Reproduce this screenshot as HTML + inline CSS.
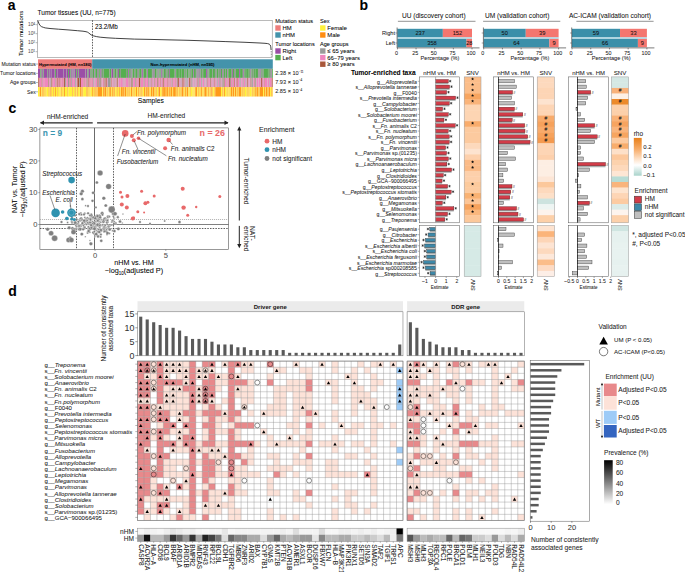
<!DOCTYPE html>
<html><head><meta charset="utf-8"><style>
html,body{margin:0;padding:0;background:#fff;width:685px;height:572px;overflow:hidden}
svg{display:block;font-family:"Liberation Sans",sans-serif}
</style></head><body>
<svg width="685" height="572" viewBox="0 0 685 572" font-family="Liberation Sans, sans-serif"><text x="7.80" y="9.80" font-size="14" font-weight="bold"  stroke="#000" stroke-width="0.05">a</text>
<text x="359.50" y="9.80" font-size="14" font-weight="bold"  stroke="#000" stroke-width="0.05">b</text>
<text x="8.50" y="113.00" font-size="14" font-weight="bold"  stroke="#000" stroke-width="0.05">c</text>
<text x="8.30" y="295.80" font-size="14" font-weight="bold"  stroke="#000" stroke-width="0.05">d</text>
<text x="37.60" y="15.00" font-size="6.5"  stroke="#000" stroke-width="0.05">Tumor tissues (UU, n=775)</text>
<text x="22.60" y="33.40" font-size="6.05" text-anchor="middle" transform="rotate(-90 22.60 33.40)"  stroke="#000" stroke-width="0.05">Tumor mutations</text>
<text x="35.2" y="26.40" font-size="4.8" text-anchor="end" fill="#555" stroke="#555" stroke-width="0.05">10<tspan dy="-1.8" font-size="3.3">4</tspan></text>
<line x1="35.60" y1="24.70" x2="37.60" y2="24.70" stroke="#444" stroke-width="0.4" />
<text x="35.2" y="35.40" font-size="4.8" text-anchor="end" fill="#555" stroke="#555" stroke-width="0.05">10<tspan dy="-1.8" font-size="3.3">3</tspan></text>
<line x1="35.60" y1="33.70" x2="37.60" y2="33.70" stroke="#444" stroke-width="0.4" />
<text x="35.2" y="44.40" font-size="4.8" text-anchor="end" fill="#555" stroke="#555" stroke-width="0.05">10<tspan dy="-1.8" font-size="3.3">2</tspan></text>
<line x1="35.60" y1="42.70" x2="37.60" y2="42.70" stroke="#444" stroke-width="0.4" />
<text x="35.2" y="53.40" font-size="4.8" text-anchor="end" fill="#555" stroke="#555" stroke-width="0.05">10<tspan dy="-1.8" font-size="3.3">1</tspan></text>
<line x1="35.60" y1="51.70" x2="37.60" y2="51.70" stroke="#444" stroke-width="0.4" />
<rect x="37.60" y="20.30" width="234.60" height="37.40" fill="#fff" stroke="#777" stroke-width="0.5" />
<path d="M37.90,20.90 L38.30,21.80 L39.10,24.00 L40.20,25.60 L41.40,26.60 L43.50,27.40 L45.20,27.90 L50.00,28.50 L58.50,29.20 L68.00,29.90 L77.40,30.70 L83.00,31.20 L86.00,31.70 L87.60,32.20 L88.80,33.00 L90.00,34.00 L91.20,34.90 L93.60,35.90 L96.50,36.60 L100.20,37.20 L107.00,37.80 L115.40,38.30 L125.00,38.70 L134.40,39.10 L150.00,39.40 L170.00,39.90 L188.00,40.30 L206.00,40.90 L225.90,41.60 L245.00,42.30 L260.00,43.00 L265.00,43.30 L267.60,43.60 L269.20,44.10 L270.20,45.00 L270.80,46.80 L271.10,50.00" fill="none" stroke="#111" stroke-width="0.8"/>
<path d="M271.2,51 L271.4,56.5" stroke="#111" stroke-width="0.6" stroke-dasharray="0.8,0.8"/>
<line x1="92.50" y1="20.30" x2="92.50" y2="57.70" stroke="#333" stroke-width="0.8" stroke-dasharray="1.5,1.2"/>
<text x="94.90" y="29.20" font-size="6.3"  stroke="#000" stroke-width="0.05">23.2/Mb</text>
<rect x="38.00" y="59.30" width="54.20" height="9.50" fill="#ee7d7b" />
<rect x="92.20" y="59.30" width="180.60" height="9.50" fill="#4493ab" />
<rect x="38.00" y="68.80" width="2.44" height="9.10" fill="#9b4ea6" />
<rect x="40.42" y="68.80" width="0.63" height="9.10" fill="#56ae4f" />
<rect x="41.03" y="68.80" width="0.63" height="9.10" fill="#9b4ea6" />
<rect x="41.64" y="68.80" width="0.63" height="9.10" fill="#56ae4f" />
<rect x="42.24" y="68.80" width="0.93" height="9.10" fill="#9b4ea6" />
<rect x="43.15" y="68.80" width="0.63" height="9.10" fill="#56ae4f" />
<rect x="43.76" y="68.80" width="3.35" height="9.10" fill="#9b4ea6" />
<rect x="47.09" y="68.80" width="0.63" height="9.10" fill="#56ae4f" />
<rect x="47.69" y="68.80" width="1.23" height="9.10" fill="#9b4ea6" />
<rect x="48.91" y="68.80" width="0.32" height="9.10" fill="#56ae4f" />
<rect x="49.21" y="68.80" width="0.63" height="9.10" fill="#9b4ea6" />
<rect x="49.82" y="68.80" width="0.32" height="9.10" fill="#56ae4f" />
<rect x="50.12" y="68.80" width="0.93" height="9.10" fill="#9b4ea6" />
<rect x="51.03" y="68.80" width="0.32" height="9.10" fill="#56ae4f" />
<rect x="51.33" y="68.80" width="2.75" height="9.10" fill="#9b4ea6" />
<rect x="54.06" y="68.80" width="0.32" height="9.10" fill="#56ae4f" />
<rect x="54.36" y="68.80" width="0.63" height="9.10" fill="#9b4ea6" />
<rect x="54.97" y="68.80" width="0.93" height="9.10" fill="#56ae4f" />
<rect x="55.88" y="68.80" width="1.23" height="9.10" fill="#9b4ea6" />
<rect x="57.09" y="68.80" width="0.32" height="9.10" fill="#56ae4f" />
<rect x="57.39" y="68.80" width="5.78" height="9.10" fill="#9b4ea6" />
<rect x="63.15" y="68.80" width="0.32" height="9.10" fill="#56ae4f" />
<rect x="63.45" y="68.80" width="2.75" height="9.10" fill="#9b4ea6" />
<rect x="66.18" y="68.80" width="0.32" height="9.10" fill="#56ae4f" />
<rect x="66.48" y="68.80" width="1.53" height="9.10" fill="#9b4ea6" />
<rect x="67.99" y="68.80" width="0.93" height="9.10" fill="#56ae4f" />
<rect x="68.90" y="68.80" width="1.53" height="9.10" fill="#9b4ea6" />
<rect x="70.42" y="68.80" width="0.93" height="9.10" fill="#56ae4f" />
<rect x="71.33" y="68.80" width="0.93" height="9.10" fill="#9b4ea6" />
<rect x="72.24" y="68.80" width="0.32" height="9.10" fill="#56ae4f" />
<rect x="72.54" y="68.80" width="0.63" height="9.10" fill="#9b4ea6" />
<rect x="73.14" y="68.80" width="0.32" height="9.10" fill="#56ae4f" />
<rect x="73.45" y="68.80" width="0.93" height="9.10" fill="#9b4ea6" />
<rect x="74.36" y="68.80" width="0.32" height="9.10" fill="#56ae4f" />
<rect x="74.66" y="68.80" width="1.53" height="9.10" fill="#9b4ea6" />
<rect x="76.17" y="68.80" width="0.93" height="9.10" fill="#56ae4f" />
<rect x="77.08" y="68.80" width="1.23" height="9.10" fill="#9b4ea6" />
<rect x="78.29" y="68.80" width="0.63" height="9.10" fill="#56ae4f" />
<rect x="78.90" y="68.80" width="6.38" height="9.10" fill="#9b4ea6" />
<rect x="85.26" y="68.80" width="0.32" height="9.10" fill="#56ae4f" />
<rect x="85.57" y="68.80" width="1.53" height="9.10" fill="#9b4ea6" />
<rect x="87.08" y="68.80" width="0.32" height="9.10" fill="#56ae4f" />
<rect x="87.38" y="68.80" width="0.32" height="9.10" fill="#9b4ea6" />
<rect x="87.69" y="68.80" width="0.93" height="9.10" fill="#56ae4f" />
<rect x="88.60" y="68.80" width="1.84" height="9.10" fill="#9b4ea6" />
<rect x="90.41" y="68.80" width="0.63" height="9.10" fill="#56ae4f" />
<rect x="91.02" y="68.80" width="0.32" height="9.10" fill="#9b4ea6" />
<rect x="91.32" y="68.80" width="0.63" height="9.10" fill="#56ae4f" />
<rect x="91.93" y="68.80" width="0.63" height="9.10" fill="#9b4ea6" />
<rect x="92.53" y="68.80" width="1.53" height="9.10" fill="#56ae4f" />
<rect x="94.05" y="68.80" width="0.32" height="9.10" fill="#9b4ea6" />
<rect x="94.35" y="68.80" width="0.32" height="9.10" fill="#56ae4f" />
<rect x="94.65" y="68.80" width="0.63" height="9.10" fill="#9b4ea6" />
<rect x="95.26" y="68.80" width="1.84" height="9.10" fill="#56ae4f" />
<rect x="97.08" y="68.80" width="0.63" height="9.10" fill="#9b4ea6" />
<rect x="97.68" y="68.80" width="0.93" height="9.10" fill="#56ae4f" />
<rect x="98.59" y="68.80" width="0.63" height="9.10" fill="#9b4ea6" />
<rect x="99.20" y="68.80" width="1.23" height="9.10" fill="#56ae4f" />
<rect x="100.41" y="68.80" width="1.23" height="9.10" fill="#9b4ea6" />
<rect x="101.62" y="68.80" width="1.23" height="9.10" fill="#56ae4f" />
<rect x="102.84" y="68.80" width="0.63" height="9.10" fill="#9b4ea6" />
<rect x="103.44" y="68.80" width="6.08" height="9.10" fill="#56ae4f" />
<rect x="109.50" y="68.80" width="0.32" height="9.10" fill="#9b4ea6" />
<rect x="109.80" y="68.80" width="1.23" height="9.10" fill="#56ae4f" />
<rect x="111.02" y="68.80" width="0.32" height="9.10" fill="#9b4ea6" />
<rect x="111.32" y="68.80" width="0.32" height="9.10" fill="#56ae4f" />
<rect x="111.62" y="68.80" width="1.84" height="9.10" fill="#9b4ea6" />
<rect x="113.44" y="68.80" width="1.23" height="9.10" fill="#56ae4f" />
<rect x="114.65" y="68.80" width="0.32" height="9.10" fill="#9b4ea6" />
<rect x="114.95" y="68.80" width="1.23" height="9.10" fill="#56ae4f" />
<rect x="116.17" y="68.80" width="0.32" height="9.10" fill="#9b4ea6" />
<rect x="116.47" y="68.80" width="1.23" height="9.10" fill="#56ae4f" />
<rect x="117.68" y="68.80" width="1.23" height="9.10" fill="#9b4ea6" />
<rect x="118.89" y="68.80" width="1.84" height="9.10" fill="#56ae4f" />
<rect x="120.71" y="68.80" width="0.32" height="9.10" fill="#9b4ea6" />
<rect x="121.01" y="68.80" width="5.78" height="9.10" fill="#56ae4f" />
<rect x="126.77" y="68.80" width="0.32" height="9.10" fill="#9b4ea6" />
<rect x="127.07" y="68.80" width="1.23" height="9.10" fill="#56ae4f" />
<rect x="128.28" y="68.80" width="0.93" height="9.10" fill="#9b4ea6" />
<rect x="129.19" y="68.80" width="1.53" height="9.10" fill="#56ae4f" />
<rect x="130.71" y="68.80" width="0.63" height="9.10" fill="#9b4ea6" />
<rect x="131.31" y="68.80" width="0.32" height="9.10" fill="#56ae4f" />
<rect x="131.62" y="68.80" width="0.32" height="9.10" fill="#9b4ea6" />
<rect x="131.92" y="68.80" width="0.32" height="9.10" fill="#56ae4f" />
<rect x="132.22" y="68.80" width="0.32" height="9.10" fill="#9b4ea6" />
<rect x="132.53" y="68.80" width="2.14" height="9.10" fill="#56ae4f" />
<rect x="134.65" y="68.80" width="0.63" height="9.10" fill="#9b4ea6" />
<rect x="135.25" y="68.80" width="2.44" height="9.10" fill="#56ae4f" />
<rect x="137.68" y="68.80" width="0.32" height="9.10" fill="#9b4ea6" />
<rect x="137.98" y="68.80" width="0.63" height="9.10" fill="#56ae4f" />
<rect x="138.59" y="68.80" width="0.63" height="9.10" fill="#9b4ea6" />
<rect x="139.19" y="68.80" width="2.44" height="9.10" fill="#56ae4f" />
<rect x="141.61" y="68.80" width="0.32" height="9.10" fill="#9b4ea6" />
<rect x="141.92" y="68.80" width="0.32" height="9.10" fill="#56ae4f" />
<rect x="142.22" y="68.80" width="1.23" height="9.10" fill="#9b4ea6" />
<rect x="143.43" y="68.80" width="2.75" height="9.10" fill="#56ae4f" />
<rect x="146.16" y="68.80" width="0.32" height="9.10" fill="#9b4ea6" />
<rect x="146.46" y="68.80" width="0.93" height="9.10" fill="#56ae4f" />
<rect x="147.37" y="68.80" width="0.63" height="9.10" fill="#9b4ea6" />
<rect x="147.98" y="68.80" width="3.96" height="9.10" fill="#56ae4f" />
<rect x="151.92" y="68.80" width="0.32" height="9.10" fill="#9b4ea6" />
<rect x="152.22" y="68.80" width="0.32" height="9.10" fill="#56ae4f" />
<rect x="152.52" y="68.80" width="0.32" height="9.10" fill="#9b4ea6" />
<rect x="152.82" y="68.80" width="0.32" height="9.10" fill="#56ae4f" />
<rect x="153.13" y="68.80" width="0.63" height="9.10" fill="#9b4ea6" />
<rect x="153.73" y="68.80" width="0.32" height="9.10" fill="#56ae4f" />
<rect x="154.04" y="68.80" width="0.63" height="9.10" fill="#9b4ea6" />
<rect x="154.64" y="68.80" width="1.53" height="9.10" fill="#56ae4f" />
<rect x="156.16" y="68.80" width="0.32" height="9.10" fill="#9b4ea6" />
<rect x="156.46" y="68.80" width="0.93" height="9.10" fill="#56ae4f" />
<rect x="157.37" y="68.80" width="0.32" height="9.10" fill="#9b4ea6" />
<rect x="157.67" y="68.80" width="0.32" height="9.10" fill="#56ae4f" />
<rect x="157.98" y="68.80" width="0.32" height="9.10" fill="#9b4ea6" />
<rect x="158.28" y="68.80" width="0.32" height="9.10" fill="#56ae4f" />
<rect x="158.58" y="68.80" width="0.32" height="9.10" fill="#9b4ea6" />
<rect x="158.88" y="68.80" width="0.32" height="9.10" fill="#56ae4f" />
<rect x="159.19" y="68.80" width="0.32" height="9.10" fill="#9b4ea6" />
<rect x="159.49" y="68.80" width="0.63" height="9.10" fill="#56ae4f" />
<rect x="160.10" y="68.80" width="0.32" height="9.10" fill="#9b4ea6" />
<rect x="160.40" y="68.80" width="0.93" height="9.10" fill="#56ae4f" />
<rect x="161.31" y="68.80" width="1.23" height="9.10" fill="#9b4ea6" />
<rect x="162.52" y="68.80" width="0.93" height="9.10" fill="#56ae4f" />
<rect x="163.43" y="68.80" width="0.32" height="9.10" fill="#9b4ea6" />
<rect x="163.73" y="68.80" width="2.14" height="9.10" fill="#56ae4f" />
<rect x="165.85" y="68.80" width="0.63" height="9.10" fill="#9b4ea6" />
<rect x="166.46" y="68.80" width="1.23" height="9.10" fill="#56ae4f" />
<rect x="167.67" y="68.80" width="0.32" height="9.10" fill="#9b4ea6" />
<rect x="167.97" y="68.80" width="0.93" height="9.10" fill="#56ae4f" />
<rect x="168.88" y="68.80" width="0.93" height="9.10" fill="#9b4ea6" />
<rect x="169.79" y="68.80" width="4.26" height="9.10" fill="#56ae4f" />
<rect x="174.03" y="68.80" width="0.32" height="9.10" fill="#9b4ea6" />
<rect x="174.34" y="68.80" width="1.23" height="9.10" fill="#56ae4f" />
<rect x="175.55" y="68.80" width="0.63" height="9.10" fill="#9b4ea6" />
<rect x="176.15" y="68.80" width="2.75" height="9.10" fill="#56ae4f" />
<rect x="178.88" y="68.80" width="0.32" height="9.10" fill="#9b4ea6" />
<rect x="179.18" y="68.80" width="1.84" height="9.10" fill="#56ae4f" />
<rect x="181.00" y="68.80" width="0.32" height="9.10" fill="#9b4ea6" />
<rect x="181.30" y="68.80" width="3.35" height="9.10" fill="#56ae4f" />
<rect x="184.64" y="68.80" width="0.63" height="9.10" fill="#9b4ea6" />
<rect x="185.24" y="68.80" width="1.23" height="9.10" fill="#56ae4f" />
<rect x="186.45" y="68.80" width="0.32" height="9.10" fill="#9b4ea6" />
<rect x="186.76" y="68.80" width="1.53" height="9.10" fill="#56ae4f" />
<rect x="188.27" y="68.80" width="0.32" height="9.10" fill="#9b4ea6" />
<rect x="188.57" y="68.80" width="0.63" height="9.10" fill="#56ae4f" />
<rect x="189.18" y="68.80" width="0.32" height="9.10" fill="#9b4ea6" />
<rect x="189.48" y="68.80" width="1.23" height="9.10" fill="#56ae4f" />
<rect x="190.70" y="68.80" width="0.63" height="9.10" fill="#9b4ea6" />
<rect x="191.30" y="68.80" width="2.14" height="9.10" fill="#56ae4f" />
<rect x="193.42" y="68.80" width="0.63" height="9.10" fill="#9b4ea6" />
<rect x="194.03" y="68.80" width="1.84" height="9.10" fill="#56ae4f" />
<rect x="195.85" y="68.80" width="0.32" height="9.10" fill="#9b4ea6" />
<rect x="196.15" y="68.80" width="0.32" height="9.10" fill="#56ae4f" />
<rect x="196.45" y="68.80" width="0.32" height="9.10" fill="#9b4ea6" />
<rect x="196.76" y="68.80" width="0.32" height="9.10" fill="#56ae4f" />
<rect x="197.06" y="68.80" width="0.32" height="9.10" fill="#9b4ea6" />
<rect x="197.36" y="68.80" width="0.32" height="9.10" fill="#56ae4f" />
<rect x="197.66" y="68.80" width="0.63" height="9.10" fill="#9b4ea6" />
<rect x="198.27" y="68.80" width="0.32" height="9.10" fill="#56ae4f" />
<rect x="198.57" y="68.80" width="0.32" height="9.10" fill="#9b4ea6" />
<rect x="198.88" y="68.80" width="0.63" height="9.10" fill="#56ae4f" />
<rect x="199.48" y="68.80" width="0.63" height="9.10" fill="#9b4ea6" />
<rect x="200.09" y="68.80" width="0.32" height="9.10" fill="#56ae4f" />
<rect x="200.39" y="68.80" width="0.32" height="9.10" fill="#9b4ea6" />
<rect x="200.69" y="68.80" width="1.23" height="9.10" fill="#56ae4f" />
<rect x="201.91" y="68.80" width="0.32" height="9.10" fill="#9b4ea6" />
<rect x="202.21" y="68.80" width="0.63" height="9.10" fill="#56ae4f" />
<rect x="202.81" y="68.80" width="0.32" height="9.10" fill="#9b4ea6" />
<rect x="203.12" y="68.80" width="3.05" height="9.10" fill="#56ae4f" />
<rect x="206.15" y="68.80" width="0.93" height="9.10" fill="#9b4ea6" />
<rect x="207.06" y="68.80" width="0.63" height="9.10" fill="#56ae4f" />
<rect x="207.66" y="68.80" width="0.32" height="9.10" fill="#9b4ea6" />
<rect x="207.96" y="68.80" width="0.32" height="9.10" fill="#56ae4f" />
<rect x="208.27" y="68.80" width="0.32" height="9.10" fill="#9b4ea6" />
<rect x="208.57" y="68.80" width="0.32" height="9.10" fill="#56ae4f" />
<rect x="208.87" y="68.80" width="0.32" height="9.10" fill="#9b4ea6" />
<rect x="209.18" y="68.80" width="3.35" height="9.10" fill="#56ae4f" />
<rect x="212.51" y="68.80" width="0.32" height="9.10" fill="#9b4ea6" />
<rect x="212.81" y="68.80" width="2.14" height="9.10" fill="#56ae4f" />
<rect x="214.93" y="68.80" width="0.63" height="9.10" fill="#9b4ea6" />
<rect x="215.54" y="68.80" width="0.93" height="9.10" fill="#56ae4f" />
<rect x="216.45" y="68.80" width="0.32" height="9.10" fill="#9b4ea6" />
<rect x="216.75" y="68.80" width="1.84" height="9.10" fill="#56ae4f" />
<rect x="218.57" y="68.80" width="0.32" height="9.10" fill="#9b4ea6" />
<rect x="218.87" y="68.80" width="0.93" height="9.10" fill="#56ae4f" />
<rect x="219.78" y="68.80" width="0.93" height="9.10" fill="#9b4ea6" />
<rect x="220.69" y="68.80" width="1.84" height="9.10" fill="#56ae4f" />
<rect x="222.51" y="68.80" width="0.63" height="9.10" fill="#9b4ea6" />
<rect x="223.11" y="68.80" width="0.63" height="9.10" fill="#56ae4f" />
<rect x="223.72" y="68.80" width="0.32" height="9.10" fill="#9b4ea6" />
<rect x="224.02" y="68.80" width="1.53" height="9.10" fill="#56ae4f" />
<rect x="225.54" y="68.80" width="0.32" height="9.10" fill="#9b4ea6" />
<rect x="225.84" y="68.80" width="1.23" height="9.10" fill="#56ae4f" />
<rect x="227.05" y="68.80" width="0.32" height="9.10" fill="#9b4ea6" />
<rect x="227.35" y="68.80" width="0.32" height="9.10" fill="#56ae4f" />
<rect x="227.66" y="68.80" width="0.63" height="9.10" fill="#9b4ea6" />
<rect x="228.26" y="68.80" width="2.75" height="9.10" fill="#56ae4f" />
<rect x="230.99" y="68.80" width="0.32" height="9.10" fill="#9b4ea6" />
<rect x="231.29" y="68.80" width="0.63" height="9.10" fill="#56ae4f" />
<rect x="231.90" y="68.80" width="0.93" height="9.10" fill="#9b4ea6" />
<rect x="232.81" y="68.80" width="1.84" height="9.10" fill="#56ae4f" />
<rect x="234.63" y="68.80" width="0.93" height="9.10" fill="#9b4ea6" />
<rect x="235.53" y="68.80" width="3.66" height="9.10" fill="#56ae4f" />
<rect x="239.17" y="68.80" width="0.93" height="9.10" fill="#9b4ea6" />
<rect x="240.08" y="68.80" width="2.75" height="9.10" fill="#56ae4f" />
<rect x="242.81" y="68.80" width="0.32" height="9.10" fill="#9b4ea6" />
<rect x="243.11" y="68.80" width="0.32" height="9.10" fill="#56ae4f" />
<rect x="243.41" y="68.80" width="0.93" height="9.10" fill="#9b4ea6" />
<rect x="244.32" y="68.80" width="1.53" height="9.10" fill="#56ae4f" />
<rect x="245.84" y="68.80" width="0.32" height="9.10" fill="#9b4ea6" />
<rect x="246.14" y="68.80" width="1.84" height="9.10" fill="#56ae4f" />
<rect x="247.96" y="68.80" width="0.32" height="9.10" fill="#9b4ea6" />
<rect x="248.26" y="68.80" width="1.53" height="9.10" fill="#56ae4f" />
<rect x="249.77" y="68.80" width="0.63" height="9.10" fill="#9b4ea6" />
<rect x="250.38" y="68.80" width="0.32" height="9.10" fill="#56ae4f" />
<rect x="250.68" y="68.80" width="0.32" height="9.10" fill="#9b4ea6" />
<rect x="250.99" y="68.80" width="0.32" height="9.10" fill="#56ae4f" />
<rect x="251.29" y="68.80" width="0.32" height="9.10" fill="#9b4ea6" />
<rect x="251.59" y="68.80" width="1.23" height="9.10" fill="#56ae4f" />
<rect x="252.80" y="68.80" width="0.63" height="9.10" fill="#9b4ea6" />
<rect x="253.41" y="68.80" width="1.53" height="9.10" fill="#56ae4f" />
<rect x="254.92" y="68.80" width="0.32" height="9.10" fill="#9b4ea6" />
<rect x="255.23" y="68.80" width="2.75" height="9.10" fill="#56ae4f" />
<rect x="257.95" y="68.80" width="0.32" height="9.10" fill="#9b4ea6" />
<rect x="258.26" y="68.80" width="0.32" height="9.10" fill="#56ae4f" />
<rect x="258.56" y="68.80" width="0.32" height="9.10" fill="#9b4ea6" />
<rect x="258.86" y="68.80" width="0.32" height="9.10" fill="#56ae4f" />
<rect x="259.17" y="68.80" width="0.32" height="9.10" fill="#9b4ea6" />
<rect x="259.47" y="68.80" width="0.32" height="9.10" fill="#56ae4f" />
<rect x="259.77" y="68.80" width="0.63" height="9.10" fill="#9b4ea6" />
<rect x="260.38" y="68.80" width="0.32" height="9.10" fill="#56ae4f" />
<rect x="260.68" y="68.80" width="0.63" height="9.10" fill="#9b4ea6" />
<rect x="261.29" y="68.80" width="0.63" height="9.10" fill="#56ae4f" />
<rect x="261.89" y="68.80" width="0.32" height="9.10" fill="#9b4ea6" />
<rect x="262.20" y="68.80" width="0.63" height="9.10" fill="#56ae4f" />
<rect x="262.80" y="68.80" width="0.63" height="9.10" fill="#9b4ea6" />
<rect x="263.41" y="68.80" width="4.56" height="9.10" fill="#56ae4f" />
<rect x="267.95" y="68.80" width="0.32" height="9.10" fill="#9b4ea6" />
<rect x="268.26" y="68.80" width="1.53" height="9.10" fill="#56ae4f" />
<rect x="269.77" y="68.80" width="0.32" height="9.10" fill="#9b4ea6" />
<rect x="270.07" y="68.80" width="0.63" height="9.10" fill="#56ae4f" />
<rect x="270.68" y="68.80" width="0.63" height="9.10" fill="#9b4ea6" />
<rect x="271.29" y="68.80" width="0.32" height="9.10" fill="#56ae4f" />
<rect x="271.59" y="68.80" width="0.32" height="9.10" fill="#9b4ea6" />
<rect x="271.89" y="68.80" width="0.93" height="9.10" fill="#56ae4f" />
<rect x="38.00" y="77.90" width="0.32" height="9.20" fill="#ef86bf" />
<rect x="38.30" y="77.90" width="1.23" height="9.20" fill="#a9573a" />
<rect x="39.51" y="77.90" width="2.14" height="9.20" fill="#ef86bf" />
<rect x="41.64" y="77.90" width="0.32" height="9.20" fill="#a9573a" />
<rect x="41.94" y="77.90" width="0.63" height="9.20" fill="#ef86bf" />
<rect x="42.54" y="77.90" width="0.32" height="9.20" fill="#9a9a9a" />
<rect x="42.85" y="77.90" width="0.32" height="9.20" fill="#a9573a" />
<rect x="43.15" y="77.90" width="0.93" height="9.20" fill="#ef86bf" />
<rect x="44.06" y="77.90" width="0.32" height="9.20" fill="#a9573a" />
<rect x="44.36" y="77.90" width="3.66" height="9.20" fill="#ef86bf" />
<rect x="48.00" y="77.90" width="0.32" height="9.20" fill="#a9573a" />
<rect x="48.30" y="77.90" width="0.32" height="9.20" fill="#9a9a9a" />
<rect x="48.60" y="77.90" width="0.32" height="9.20" fill="#a9573a" />
<rect x="48.91" y="77.90" width="0.32" height="9.20" fill="#9a9a9a" />
<rect x="49.21" y="77.90" width="1.23" height="9.20" fill="#ef86bf" />
<rect x="50.42" y="77.90" width="0.63" height="9.20" fill="#9a9a9a" />
<rect x="51.03" y="77.90" width="0.32" height="9.20" fill="#a9573a" />
<rect x="51.33" y="77.90" width="0.32" height="9.20" fill="#9a9a9a" />
<rect x="51.63" y="77.90" width="0.63" height="9.20" fill="#a9573a" />
<rect x="52.24" y="77.90" width="0.63" height="9.20" fill="#ef86bf" />
<rect x="52.85" y="77.90" width="0.32" height="9.20" fill="#a9573a" />
<rect x="53.15" y="77.90" width="1.84" height="9.20" fill="#ef86bf" />
<rect x="54.97" y="77.90" width="0.63" height="9.20" fill="#9a9a9a" />
<rect x="55.57" y="77.90" width="0.32" height="9.20" fill="#ef86bf" />
<rect x="55.88" y="77.90" width="0.63" height="9.20" fill="#a9573a" />
<rect x="56.48" y="77.90" width="0.93" height="9.20" fill="#ef86bf" />
<rect x="57.39" y="77.90" width="0.63" height="9.20" fill="#a9573a" />
<rect x="58.00" y="77.90" width="0.63" height="9.20" fill="#ef86bf" />
<rect x="58.60" y="77.90" width="0.32" height="9.20" fill="#a9573a" />
<rect x="58.90" y="77.90" width="0.63" height="9.20" fill="#ef86bf" />
<rect x="59.51" y="77.90" width="0.63" height="9.20" fill="#a9573a" />
<rect x="60.12" y="77.90" width="0.32" height="9.20" fill="#ef86bf" />
<rect x="60.42" y="77.90" width="0.32" height="9.20" fill="#a9573a" />
<rect x="60.72" y="77.90" width="0.32" height="9.20" fill="#ef86bf" />
<rect x="61.03" y="77.90" width="0.32" height="9.20" fill="#a9573a" />
<rect x="61.33" y="77.90" width="1.53" height="9.20" fill="#ef86bf" />
<rect x="62.84" y="77.90" width="0.63" height="9.20" fill="#a9573a" />
<rect x="63.45" y="77.90" width="0.63" height="9.20" fill="#ef86bf" />
<rect x="64.06" y="77.90" width="0.93" height="9.20" fill="#a9573a" />
<rect x="64.96" y="77.90" width="0.93" height="9.20" fill="#9a9a9a" />
<rect x="65.87" y="77.90" width="0.32" height="9.20" fill="#ef86bf" />
<rect x="66.18" y="77.90" width="0.32" height="9.20" fill="#a9573a" />
<rect x="66.48" y="77.90" width="1.53" height="9.20" fill="#ef86bf" />
<rect x="67.99" y="77.90" width="0.93" height="9.20" fill="#9a9a9a" />
<rect x="68.90" y="77.90" width="0.32" height="9.20" fill="#a9573a" />
<rect x="69.21" y="77.90" width="0.32" height="9.20" fill="#ef86bf" />
<rect x="69.51" y="77.90" width="0.32" height="9.20" fill="#a9573a" />
<rect x="69.81" y="77.90" width="0.93" height="9.20" fill="#ef86bf" />
<rect x="70.72" y="77.90" width="0.63" height="9.20" fill="#a9573a" />
<rect x="71.33" y="77.90" width="0.63" height="9.20" fill="#9a9a9a" />
<rect x="71.93" y="77.90" width="1.23" height="9.20" fill="#ef86bf" />
<rect x="73.14" y="77.90" width="0.32" height="9.20" fill="#a9573a" />
<rect x="73.45" y="77.90" width="1.84" height="9.20" fill="#ef86bf" />
<rect x="75.27" y="77.90" width="1.23" height="9.20" fill="#9a9a9a" />
<rect x="76.48" y="77.90" width="0.93" height="9.20" fill="#ef86bf" />
<rect x="77.39" y="77.90" width="1.84" height="9.20" fill="#a9573a" />
<rect x="79.20" y="77.90" width="0.63" height="9.20" fill="#9a9a9a" />
<rect x="79.81" y="77.90" width="1.23" height="9.20" fill="#a9573a" />
<rect x="81.02" y="77.90" width="2.44" height="9.20" fill="#ef86bf" />
<rect x="83.45" y="77.90" width="0.32" height="9.20" fill="#a9573a" />
<rect x="83.75" y="77.90" width="0.32" height="9.20" fill="#ef86bf" />
<rect x="84.05" y="77.90" width="0.32" height="9.20" fill="#9a9a9a" />
<rect x="84.35" y="77.90" width="0.32" height="9.20" fill="#a9573a" />
<rect x="84.66" y="77.90" width="0.32" height="9.20" fill="#ef86bf" />
<rect x="84.96" y="77.90" width="0.32" height="9.20" fill="#a9573a" />
<rect x="85.26" y="77.90" width="1.23" height="9.20" fill="#ef86bf" />
<rect x="86.47" y="77.90" width="0.32" height="9.20" fill="#a9573a" />
<rect x="86.78" y="77.90" width="0.32" height="9.20" fill="#9a9a9a" />
<rect x="87.08" y="77.90" width="0.32" height="9.20" fill="#ef86bf" />
<rect x="87.38" y="77.90" width="0.32" height="9.20" fill="#a9573a" />
<rect x="87.69" y="77.90" width="0.32" height="9.20" fill="#9a9a9a" />
<rect x="87.99" y="77.90" width="0.32" height="9.20" fill="#a9573a" />
<rect x="88.29" y="77.90" width="0.32" height="9.20" fill="#ef86bf" />
<rect x="88.60" y="77.90" width="0.63" height="9.20" fill="#a9573a" />
<rect x="89.20" y="77.90" width="0.63" height="9.20" fill="#ef86bf" />
<rect x="89.81" y="77.90" width="0.63" height="9.20" fill="#a9573a" />
<rect x="90.41" y="77.90" width="0.93" height="9.20" fill="#ef86bf" />
<rect x="91.32" y="77.90" width="0.32" height="9.20" fill="#a9573a" />
<rect x="91.63" y="77.90" width="1.23" height="9.20" fill="#ef86bf" />
<rect x="92.84" y="77.90" width="0.32" height="9.20" fill="#a9573a" />
<rect x="93.14" y="77.90" width="0.32" height="9.20" fill="#ef86bf" />
<rect x="93.44" y="77.90" width="0.93" height="9.20" fill="#9a9a9a" />
<rect x="94.35" y="77.90" width="0.63" height="9.20" fill="#ef86bf" />
<rect x="94.96" y="77.90" width="0.63" height="9.20" fill="#9a9a9a" />
<rect x="95.56" y="77.90" width="1.53" height="9.20" fill="#ef86bf" />
<rect x="97.08" y="77.90" width="0.63" height="9.20" fill="#9a9a9a" />
<rect x="97.68" y="77.90" width="0.32" height="9.20" fill="#a9573a" />
<rect x="97.99" y="77.90" width="0.63" height="9.20" fill="#ef86bf" />
<rect x="98.59" y="77.90" width="0.63" height="9.20" fill="#a9573a" />
<rect x="99.20" y="77.90" width="1.53" height="9.20" fill="#9a9a9a" />
<rect x="100.71" y="77.90" width="0.63" height="9.20" fill="#a9573a" />
<rect x="101.32" y="77.90" width="0.32" height="9.20" fill="#9a9a9a" />
<rect x="101.62" y="77.90" width="0.63" height="9.20" fill="#ef86bf" />
<rect x="102.23" y="77.90" width="0.32" height="9.20" fill="#9a9a9a" />
<rect x="102.53" y="77.90" width="1.23" height="9.20" fill="#ef86bf" />
<rect x="103.74" y="77.90" width="0.32" height="9.20" fill="#a9573a" />
<rect x="104.05" y="77.90" width="0.32" height="9.20" fill="#9a9a9a" />
<rect x="104.35" y="77.90" width="0.32" height="9.20" fill="#ef86bf" />
<rect x="104.65" y="77.90" width="0.32" height="9.20" fill="#a9573a" />
<rect x="104.96" y="77.90" width="0.32" height="9.20" fill="#9a9a9a" />
<rect x="105.26" y="77.90" width="0.32" height="9.20" fill="#ef86bf" />
<rect x="105.56" y="77.90" width="1.23" height="9.20" fill="#a9573a" />
<rect x="106.77" y="77.90" width="0.93" height="9.20" fill="#ef86bf" />
<rect x="107.68" y="77.90" width="2.44" height="9.20" fill="#9a9a9a" />
<rect x="110.11" y="77.90" width="0.32" height="9.20" fill="#a9573a" />
<rect x="110.41" y="77.90" width="0.63" height="9.20" fill="#9a9a9a" />
<rect x="111.02" y="77.90" width="0.32" height="9.20" fill="#a9573a" />
<rect x="111.32" y="77.90" width="0.32" height="9.20" fill="#ef86bf" />
<rect x="111.62" y="77.90" width="0.32" height="9.20" fill="#a9573a" />
<rect x="111.92" y="77.90" width="0.63" height="9.20" fill="#ef86bf" />
<rect x="112.53" y="77.90" width="0.32" height="9.20" fill="#9a9a9a" />
<rect x="112.83" y="77.90" width="0.93" height="9.20" fill="#ef86bf" />
<rect x="113.74" y="77.90" width="0.32" height="9.20" fill="#9a9a9a" />
<rect x="114.04" y="77.90" width="0.32" height="9.20" fill="#a9573a" />
<rect x="114.35" y="77.90" width="0.32" height="9.20" fill="#9a9a9a" />
<rect x="114.65" y="77.90" width="0.32" height="9.20" fill="#ef86bf" />
<rect x="114.95" y="77.90" width="0.63" height="9.20" fill="#9a9a9a" />
<rect x="115.56" y="77.90" width="0.63" height="9.20" fill="#ef86bf" />
<rect x="116.17" y="77.90" width="0.32" height="9.20" fill="#9a9a9a" />
<rect x="116.47" y="77.90" width="0.32" height="9.20" fill="#ef86bf" />
<rect x="116.77" y="77.90" width="0.32" height="9.20" fill="#a9573a" />
<rect x="117.07" y="77.90" width="0.32" height="9.20" fill="#9a9a9a" />
<rect x="117.38" y="77.90" width="0.63" height="9.20" fill="#a9573a" />
<rect x="117.98" y="77.90" width="0.32" height="9.20" fill="#ef86bf" />
<rect x="118.29" y="77.90" width="0.32" height="9.20" fill="#9a9a9a" />
<rect x="118.59" y="77.90" width="1.53" height="9.20" fill="#ef86bf" />
<rect x="120.10" y="77.90" width="0.32" height="9.20" fill="#a9573a" />
<rect x="120.41" y="77.90" width="2.44" height="9.20" fill="#ef86bf" />
<rect x="122.83" y="77.90" width="0.32" height="9.20" fill="#9a9a9a" />
<rect x="123.13" y="77.90" width="0.63" height="9.20" fill="#ef86bf" />
<rect x="123.74" y="77.90" width="0.32" height="9.20" fill="#9a9a9a" />
<rect x="124.04" y="77.90" width="0.32" height="9.20" fill="#ef86bf" />
<rect x="124.35" y="77.90" width="0.32" height="9.20" fill="#9a9a9a" />
<rect x="124.65" y="77.90" width="0.32" height="9.20" fill="#ef86bf" />
<rect x="124.95" y="77.90" width="0.32" height="9.20" fill="#a9573a" />
<rect x="125.25" y="77.90" width="0.32" height="9.20" fill="#9a9a9a" />
<rect x="125.56" y="77.90" width="2.44" height="9.20" fill="#ef86bf" />
<rect x="127.98" y="77.90" width="0.32" height="9.20" fill="#9a9a9a" />
<rect x="128.28" y="77.90" width="0.32" height="9.20" fill="#a9573a" />
<rect x="128.59" y="77.90" width="0.63" height="9.20" fill="#ef86bf" />
<rect x="129.19" y="77.90" width="0.32" height="9.20" fill="#9a9a9a" />
<rect x="129.50" y="77.90" width="0.32" height="9.20" fill="#a9573a" />
<rect x="129.80" y="77.90" width="0.93" height="9.20" fill="#ef86bf" />
<rect x="130.71" y="77.90" width="0.93" height="9.20" fill="#9a9a9a" />
<rect x="131.62" y="77.90" width="0.93" height="9.20" fill="#a9573a" />
<rect x="132.53" y="77.90" width="0.63" height="9.20" fill="#9a9a9a" />
<rect x="133.13" y="77.90" width="2.14" height="9.20" fill="#ef86bf" />
<rect x="135.25" y="77.90" width="0.63" height="9.20" fill="#9a9a9a" />
<rect x="135.86" y="77.90" width="0.63" height="9.20" fill="#a9573a" />
<rect x="136.46" y="77.90" width="0.63" height="9.20" fill="#ef86bf" />
<rect x="137.07" y="77.90" width="0.32" height="9.20" fill="#a9573a" />
<rect x="137.37" y="77.90" width="0.63" height="9.20" fill="#ef86bf" />
<rect x="137.98" y="77.90" width="0.32" height="9.20" fill="#a9573a" />
<rect x="138.28" y="77.90" width="0.63" height="9.20" fill="#ef86bf" />
<rect x="138.89" y="77.90" width="1.53" height="9.20" fill="#a9573a" />
<rect x="140.40" y="77.90" width="0.32" height="9.20" fill="#9a9a9a" />
<rect x="140.71" y="77.90" width="2.44" height="9.20" fill="#ef86bf" />
<rect x="143.13" y="77.90" width="0.32" height="9.20" fill="#a9573a" />
<rect x="143.43" y="77.90" width="0.32" height="9.20" fill="#9a9a9a" />
<rect x="143.74" y="77.90" width="0.63" height="9.20" fill="#ef86bf" />
<rect x="144.34" y="77.90" width="0.32" height="9.20" fill="#a9573a" />
<rect x="144.64" y="77.90" width="0.32" height="9.20" fill="#9a9a9a" />
<rect x="144.95" y="77.90" width="1.23" height="9.20" fill="#ef86bf" />
<rect x="146.16" y="77.90" width="0.32" height="9.20" fill="#a9573a" />
<rect x="146.46" y="77.90" width="1.84" height="9.20" fill="#ef86bf" />
<rect x="148.28" y="77.90" width="0.63" height="9.20" fill="#9a9a9a" />
<rect x="148.89" y="77.90" width="0.32" height="9.20" fill="#a9573a" />
<rect x="149.19" y="77.90" width="0.32" height="9.20" fill="#ef86bf" />
<rect x="149.49" y="77.90" width="0.32" height="9.20" fill="#9a9a9a" />
<rect x="149.80" y="77.90" width="0.93" height="9.20" fill="#ef86bf" />
<rect x="150.70" y="77.90" width="0.32" height="9.20" fill="#9a9a9a" />
<rect x="151.01" y="77.90" width="0.32" height="9.20" fill="#ef86bf" />
<rect x="151.31" y="77.90" width="0.32" height="9.20" fill="#9a9a9a" />
<rect x="151.61" y="77.90" width="0.32" height="9.20" fill="#a9573a" />
<rect x="151.92" y="77.90" width="0.93" height="9.20" fill="#ef86bf" />
<rect x="152.82" y="77.90" width="0.63" height="9.20" fill="#9a9a9a" />
<rect x="153.43" y="77.90" width="0.93" height="9.20" fill="#ef86bf" />
<rect x="154.34" y="77.90" width="0.32" height="9.20" fill="#9a9a9a" />
<rect x="154.64" y="77.90" width="0.32" height="9.20" fill="#a9573a" />
<rect x="154.95" y="77.90" width="0.32" height="9.20" fill="#9a9a9a" />
<rect x="155.25" y="77.90" width="0.63" height="9.20" fill="#ef86bf" />
<rect x="155.85" y="77.90" width="0.32" height="9.20" fill="#a9573a" />
<rect x="156.16" y="77.90" width="0.93" height="9.20" fill="#ef86bf" />
<rect x="157.07" y="77.90" width="0.63" height="9.20" fill="#a9573a" />
<rect x="157.67" y="77.90" width="0.32" height="9.20" fill="#9a9a9a" />
<rect x="157.98" y="77.90" width="0.32" height="9.20" fill="#ef86bf" />
<rect x="158.28" y="77.90" width="0.32" height="9.20" fill="#a9573a" />
<rect x="158.58" y="77.90" width="0.32" height="9.20" fill="#ef86bf" />
<rect x="158.88" y="77.90" width="0.32" height="9.20" fill="#a9573a" />
<rect x="159.19" y="77.90" width="1.53" height="9.20" fill="#ef86bf" />
<rect x="160.70" y="77.90" width="0.32" height="9.20" fill="#a9573a" />
<rect x="161.00" y="77.90" width="0.63" height="9.20" fill="#ef86bf" />
<rect x="161.61" y="77.90" width="0.32" height="9.20" fill="#9a9a9a" />
<rect x="161.91" y="77.90" width="0.93" height="9.20" fill="#ef86bf" />
<rect x="162.82" y="77.90" width="0.32" height="9.20" fill="#a9573a" />
<rect x="163.13" y="77.90" width="0.32" height="9.20" fill="#9a9a9a" />
<rect x="163.43" y="77.90" width="0.93" height="9.20" fill="#a9573a" />
<rect x="164.34" y="77.90" width="0.63" height="9.20" fill="#ef86bf" />
<rect x="164.94" y="77.90" width="0.32" height="9.20" fill="#a9573a" />
<rect x="165.25" y="77.90" width="0.93" height="9.20" fill="#ef86bf" />
<rect x="166.16" y="77.90" width="0.32" height="9.20" fill="#a9573a" />
<rect x="166.46" y="77.90" width="1.23" height="9.20" fill="#ef86bf" />
<rect x="167.67" y="77.90" width="0.32" height="9.20" fill="#a9573a" />
<rect x="167.97" y="77.90" width="0.32" height="9.20" fill="#ef86bf" />
<rect x="168.28" y="77.90" width="0.32" height="9.20" fill="#a9573a" />
<rect x="168.58" y="77.90" width="0.32" height="9.20" fill="#ef86bf" />
<rect x="168.88" y="77.90" width="0.32" height="9.20" fill="#9a9a9a" />
<rect x="169.19" y="77.90" width="0.32" height="9.20" fill="#a9573a" />
<rect x="169.49" y="77.90" width="0.93" height="9.20" fill="#ef86bf" />
<rect x="170.40" y="77.90" width="0.32" height="9.20" fill="#a9573a" />
<rect x="170.70" y="77.90" width="0.93" height="9.20" fill="#ef86bf" />
<rect x="171.61" y="77.90" width="0.63" height="9.20" fill="#9a9a9a" />
<rect x="172.21" y="77.90" width="0.32" height="9.20" fill="#ef86bf" />
<rect x="172.52" y="77.90" width="0.32" height="9.20" fill="#a9573a" />
<rect x="172.82" y="77.90" width="0.32" height="9.20" fill="#9a9a9a" />
<rect x="173.12" y="77.90" width="0.93" height="9.20" fill="#ef86bf" />
<rect x="174.03" y="77.90" width="0.32" height="9.20" fill="#a9573a" />
<rect x="174.34" y="77.90" width="1.23" height="9.20" fill="#ef86bf" />
<rect x="175.55" y="77.90" width="0.32" height="9.20" fill="#a9573a" />
<rect x="175.85" y="77.90" width="0.93" height="9.20" fill="#ef86bf" />
<rect x="176.76" y="77.90" width="0.93" height="9.20" fill="#9a9a9a" />
<rect x="177.67" y="77.90" width="1.23" height="9.20" fill="#a9573a" />
<rect x="178.88" y="77.90" width="0.93" height="9.20" fill="#ef86bf" />
<rect x="179.79" y="77.90" width="0.32" height="9.20" fill="#9a9a9a" />
<rect x="180.09" y="77.90" width="0.63" height="9.20" fill="#ef86bf" />
<rect x="180.70" y="77.90" width="0.32" height="9.20" fill="#9a9a9a" />
<rect x="181.00" y="77.90" width="0.63" height="9.20" fill="#ef86bf" />
<rect x="181.61" y="77.90" width="0.63" height="9.20" fill="#9a9a9a" />
<rect x="182.21" y="77.90" width="0.63" height="9.20" fill="#a9573a" />
<rect x="182.82" y="77.90" width="0.32" height="9.20" fill="#ef86bf" />
<rect x="183.12" y="77.90" width="0.63" height="9.20" fill="#a9573a" />
<rect x="183.73" y="77.90" width="0.32" height="9.20" fill="#ef86bf" />
<rect x="184.03" y="77.90" width="0.32" height="9.20" fill="#9a9a9a" />
<rect x="184.33" y="77.90" width="0.32" height="9.20" fill="#a9573a" />
<rect x="184.64" y="77.90" width="0.32" height="9.20" fill="#ef86bf" />
<rect x="184.94" y="77.90" width="0.63" height="9.20" fill="#9a9a9a" />
<rect x="185.55" y="77.90" width="0.32" height="9.20" fill="#ef86bf" />
<rect x="185.85" y="77.90" width="0.32" height="9.20" fill="#9a9a9a" />
<rect x="186.15" y="77.90" width="0.32" height="9.20" fill="#ef86bf" />
<rect x="186.45" y="77.90" width="0.63" height="9.20" fill="#9a9a9a" />
<rect x="187.06" y="77.90" width="0.32" height="9.20" fill="#ef86bf" />
<rect x="187.36" y="77.90" width="0.93" height="9.20" fill="#9a9a9a" />
<rect x="188.27" y="77.90" width="0.63" height="9.20" fill="#ef86bf" />
<rect x="188.88" y="77.90" width="0.32" height="9.20" fill="#9a9a9a" />
<rect x="189.18" y="77.90" width="0.93" height="9.20" fill="#a9573a" />
<rect x="190.09" y="77.90" width="0.32" height="9.20" fill="#9a9a9a" />
<rect x="190.39" y="77.90" width="0.32" height="9.20" fill="#ef86bf" />
<rect x="190.70" y="77.90" width="0.63" height="9.20" fill="#a9573a" />
<rect x="191.30" y="77.90" width="0.63" height="9.20" fill="#9a9a9a" />
<rect x="191.91" y="77.90" width="0.63" height="9.20" fill="#ef86bf" />
<rect x="192.51" y="77.90" width="0.93" height="9.20" fill="#9a9a9a" />
<rect x="193.42" y="77.90" width="1.23" height="9.20" fill="#ef86bf" />
<rect x="194.63" y="77.90" width="0.63" height="9.20" fill="#9a9a9a" />
<rect x="195.24" y="77.90" width="0.32" height="9.20" fill="#ef86bf" />
<rect x="195.54" y="77.90" width="0.32" height="9.20" fill="#9a9a9a" />
<rect x="195.85" y="77.90" width="0.93" height="9.20" fill="#ef86bf" />
<rect x="196.76" y="77.90" width="0.63" height="9.20" fill="#9a9a9a" />
<rect x="197.36" y="77.90" width="0.32" height="9.20" fill="#ef86bf" />
<rect x="197.66" y="77.90" width="0.63" height="9.20" fill="#a9573a" />
<rect x="198.27" y="77.90" width="0.63" height="9.20" fill="#9a9a9a" />
<rect x="198.88" y="77.90" width="0.93" height="9.20" fill="#ef86bf" />
<rect x="199.78" y="77.90" width="0.32" height="9.20" fill="#a9573a" />
<rect x="200.09" y="77.90" width="1.23" height="9.20" fill="#ef86bf" />
<rect x="201.30" y="77.90" width="1.23" height="9.20" fill="#9a9a9a" />
<rect x="202.51" y="77.90" width="1.53" height="9.20" fill="#ef86bf" />
<rect x="204.03" y="77.90" width="0.32" height="9.20" fill="#9a9a9a" />
<rect x="204.33" y="77.90" width="0.32" height="9.20" fill="#ef86bf" />
<rect x="204.63" y="77.90" width="0.32" height="9.20" fill="#9a9a9a" />
<rect x="204.94" y="77.90" width="0.32" height="9.20" fill="#ef86bf" />
<rect x="205.24" y="77.90" width="0.32" height="9.20" fill="#9a9a9a" />
<rect x="205.54" y="77.90" width="0.63" height="9.20" fill="#ef86bf" />
<rect x="206.15" y="77.90" width="0.63" height="9.20" fill="#9a9a9a" />
<rect x="206.75" y="77.90" width="0.93" height="9.20" fill="#ef86bf" />
<rect x="207.66" y="77.90" width="0.32" height="9.20" fill="#a9573a" />
<rect x="207.96" y="77.90" width="0.32" height="9.20" fill="#9a9a9a" />
<rect x="208.27" y="77.90" width="0.63" height="9.20" fill="#ef86bf" />
<rect x="208.87" y="77.90" width="0.32" height="9.20" fill="#a9573a" />
<rect x="209.18" y="77.90" width="0.93" height="9.20" fill="#ef86bf" />
<rect x="210.09" y="77.90" width="0.63" height="9.20" fill="#a9573a" />
<rect x="210.69" y="77.90" width="0.32" height="9.20" fill="#9a9a9a" />
<rect x="210.99" y="77.90" width="0.32" height="9.20" fill="#a9573a" />
<rect x="211.30" y="77.90" width="0.63" height="9.20" fill="#ef86bf" />
<rect x="211.90" y="77.90" width="0.63" height="9.20" fill="#9a9a9a" />
<rect x="212.51" y="77.90" width="1.23" height="9.20" fill="#ef86bf" />
<rect x="213.72" y="77.90" width="0.32" height="9.20" fill="#9a9a9a" />
<rect x="214.02" y="77.90" width="0.63" height="9.20" fill="#ef86bf" />
<rect x="214.63" y="77.90" width="0.63" height="9.20" fill="#a9573a" />
<rect x="215.24" y="77.90" width="0.63" height="9.20" fill="#ef86bf" />
<rect x="215.84" y="77.90" width="0.32" height="9.20" fill="#9a9a9a" />
<rect x="216.15" y="77.90" width="0.63" height="9.20" fill="#ef86bf" />
<rect x="216.75" y="77.90" width="0.32" height="9.20" fill="#9a9a9a" />
<rect x="217.05" y="77.90" width="0.32" height="9.20" fill="#ef86bf" />
<rect x="217.36" y="77.90" width="0.63" height="9.20" fill="#9a9a9a" />
<rect x="217.96" y="77.90" width="0.93" height="9.20" fill="#ef86bf" />
<rect x="218.87" y="77.90" width="0.93" height="9.20" fill="#9a9a9a" />
<rect x="219.78" y="77.90" width="0.63" height="9.20" fill="#ef86bf" />
<rect x="220.39" y="77.90" width="0.32" height="9.20" fill="#a9573a" />
<rect x="220.69" y="77.90" width="0.32" height="9.20" fill="#9a9a9a" />
<rect x="220.99" y="77.90" width="0.63" height="9.20" fill="#ef86bf" />
<rect x="221.60" y="77.90" width="0.32" height="9.20" fill="#9a9a9a" />
<rect x="221.90" y="77.90" width="0.32" height="9.20" fill="#ef86bf" />
<rect x="222.20" y="77.90" width="0.32" height="9.20" fill="#a9573a" />
<rect x="222.51" y="77.90" width="0.93" height="9.20" fill="#9a9a9a" />
<rect x="223.42" y="77.90" width="0.32" height="9.20" fill="#a9573a" />
<rect x="223.72" y="77.90" width="0.32" height="9.20" fill="#9a9a9a" />
<rect x="224.02" y="77.90" width="0.32" height="9.20" fill="#a9573a" />
<rect x="224.33" y="77.90" width="0.32" height="9.20" fill="#9a9a9a" />
<rect x="224.63" y="77.90" width="0.32" height="9.20" fill="#a9573a" />
<rect x="224.93" y="77.90" width="1.23" height="9.20" fill="#ef86bf" />
<rect x="226.14" y="77.90" width="0.32" height="9.20" fill="#a9573a" />
<rect x="226.45" y="77.90" width="0.32" height="9.20" fill="#9a9a9a" />
<rect x="226.75" y="77.90" width="0.63" height="9.20" fill="#ef86bf" />
<rect x="227.35" y="77.90" width="0.32" height="9.20" fill="#a9573a" />
<rect x="227.66" y="77.90" width="1.23" height="9.20" fill="#ef86bf" />
<rect x="228.87" y="77.90" width="0.32" height="9.20" fill="#9a9a9a" />
<rect x="229.17" y="77.90" width="0.93" height="9.20" fill="#a9573a" />
<rect x="230.08" y="77.90" width="0.63" height="9.20" fill="#9a9a9a" />
<rect x="230.69" y="77.90" width="0.32" height="9.20" fill="#a9573a" />
<rect x="230.99" y="77.90" width="1.23" height="9.20" fill="#ef86bf" />
<rect x="232.20" y="77.90" width="0.32" height="9.20" fill="#a9573a" />
<rect x="232.51" y="77.90" width="0.32" height="9.20" fill="#9a9a9a" />
<rect x="232.81" y="77.90" width="1.53" height="9.20" fill="#ef86bf" />
<rect x="234.32" y="77.90" width="0.63" height="9.20" fill="#a9573a" />
<rect x="234.93" y="77.90" width="0.32" height="9.20" fill="#ef86bf" />
<rect x="235.23" y="77.90" width="0.32" height="9.20" fill="#9a9a9a" />
<rect x="235.53" y="77.90" width="1.23" height="9.20" fill="#ef86bf" />
<rect x="236.75" y="77.90" width="0.93" height="9.20" fill="#a9573a" />
<rect x="237.66" y="77.90" width="1.53" height="9.20" fill="#ef86bf" />
<rect x="239.17" y="77.90" width="0.63" height="9.20" fill="#9a9a9a" />
<rect x="239.78" y="77.90" width="0.63" height="9.20" fill="#ef86bf" />
<rect x="240.38" y="77.90" width="0.93" height="9.20" fill="#9a9a9a" />
<rect x="241.29" y="77.90" width="1.53" height="9.20" fill="#ef86bf" />
<rect x="242.81" y="77.90" width="0.32" height="9.20" fill="#9a9a9a" />
<rect x="243.11" y="77.90" width="0.32" height="9.20" fill="#a9573a" />
<rect x="243.41" y="77.90" width="0.32" height="9.20" fill="#ef86bf" />
<rect x="243.72" y="77.90" width="0.32" height="9.20" fill="#9a9a9a" />
<rect x="244.02" y="77.90" width="1.53" height="9.20" fill="#ef86bf" />
<rect x="245.53" y="77.90" width="0.63" height="9.20" fill="#9a9a9a" />
<rect x="246.14" y="77.90" width="0.63" height="9.20" fill="#ef86bf" />
<rect x="246.74" y="77.90" width="0.32" height="9.20" fill="#9a9a9a" />
<rect x="247.05" y="77.90" width="0.32" height="9.20" fill="#ef86bf" />
<rect x="247.35" y="77.90" width="0.93" height="9.20" fill="#a9573a" />
<rect x="248.26" y="77.90" width="0.32" height="9.20" fill="#9a9a9a" />
<rect x="248.56" y="77.90" width="0.63" height="9.20" fill="#ef86bf" />
<rect x="249.17" y="77.90" width="0.32" height="9.20" fill="#9a9a9a" />
<rect x="249.47" y="77.90" width="0.93" height="9.20" fill="#ef86bf" />
<rect x="250.38" y="77.90" width="0.32" height="9.20" fill="#9a9a9a" />
<rect x="250.68" y="77.90" width="0.63" height="9.20" fill="#a9573a" />
<rect x="251.29" y="77.90" width="0.32" height="9.20" fill="#ef86bf" />
<rect x="251.59" y="77.90" width="0.32" height="9.20" fill="#9a9a9a" />
<rect x="251.90" y="77.90" width="0.32" height="9.20" fill="#a9573a" />
<rect x="252.20" y="77.90" width="1.23" height="9.20" fill="#9a9a9a" />
<rect x="253.41" y="77.90" width="1.23" height="9.20" fill="#ef86bf" />
<rect x="254.62" y="77.90" width="0.32" height="9.20" fill="#a9573a" />
<rect x="254.92" y="77.90" width="0.63" height="9.20" fill="#9a9a9a" />
<rect x="255.53" y="77.90" width="0.32" height="9.20" fill="#a9573a" />
<rect x="255.83" y="77.90" width="0.63" height="9.20" fill="#9a9a9a" />
<rect x="256.44" y="77.90" width="1.84" height="9.20" fill="#ef86bf" />
<rect x="258.26" y="77.90" width="0.32" height="9.20" fill="#9a9a9a" />
<rect x="258.56" y="77.90" width="1.53" height="9.20" fill="#ef86bf" />
<rect x="260.08" y="77.90" width="0.32" height="9.20" fill="#9a9a9a" />
<rect x="260.38" y="77.90" width="0.63" height="9.20" fill="#ef86bf" />
<rect x="260.98" y="77.90" width="0.93" height="9.20" fill="#a9573a" />
<rect x="261.89" y="77.90" width="0.93" height="9.20" fill="#ef86bf" />
<rect x="262.80" y="77.90" width="0.32" height="9.20" fill="#a9573a" />
<rect x="263.11" y="77.90" width="0.32" height="9.20" fill="#9a9a9a" />
<rect x="263.41" y="77.90" width="1.23" height="9.20" fill="#ef86bf" />
<rect x="264.62" y="77.90" width="0.32" height="9.20" fill="#a9573a" />
<rect x="264.92" y="77.90" width="2.44" height="9.20" fill="#ef86bf" />
<rect x="267.35" y="77.90" width="0.32" height="9.20" fill="#9a9a9a" />
<rect x="267.65" y="77.90" width="1.53" height="9.20" fill="#ef86bf" />
<rect x="269.16" y="77.90" width="0.63" height="9.20" fill="#9a9a9a" />
<rect x="269.77" y="77.90" width="1.84" height="9.20" fill="#ef86bf" />
<rect x="271.59" y="77.90" width="0.32" height="9.20" fill="#a9573a" />
<rect x="271.89" y="77.90" width="0.32" height="9.20" fill="#ef86bf" />
<rect x="272.19" y="77.90" width="0.63" height="9.20" fill="#a9573a" />
<rect x="38.00" y="87.10" width="1.23" height="9.40" fill="#fff23a" />
<rect x="39.21" y="87.10" width="0.32" height="9.40" fill="#ff9a1a" />
<rect x="39.51" y="87.10" width="0.32" height="9.40" fill="#fff23a" />
<rect x="39.82" y="87.10" width="1.23" height="9.40" fill="#ff9a1a" />
<rect x="41.03" y="87.10" width="0.32" height="9.40" fill="#fff23a" />
<rect x="41.33" y="87.10" width="0.32" height="9.40" fill="#ff9a1a" />
<rect x="41.64" y="87.10" width="0.63" height="9.40" fill="#fff23a" />
<rect x="42.24" y="87.10" width="0.63" height="9.40" fill="#ff9a1a" />
<rect x="42.85" y="87.10" width="0.32" height="9.40" fill="#fff23a" />
<rect x="43.15" y="87.10" width="0.63" height="9.40" fill="#ff9a1a" />
<rect x="43.76" y="87.10" width="0.93" height="9.40" fill="#fff23a" />
<rect x="44.67" y="87.10" width="0.32" height="9.40" fill="#ff9a1a" />
<rect x="44.97" y="87.10" width="0.63" height="9.40" fill="#fff23a" />
<rect x="45.57" y="87.10" width="0.32" height="9.40" fill="#ff9a1a" />
<rect x="45.88" y="87.10" width="0.32" height="9.40" fill="#fff23a" />
<rect x="46.18" y="87.10" width="0.32" height="9.40" fill="#ff9a1a" />
<rect x="46.48" y="87.10" width="1.53" height="9.40" fill="#fff23a" />
<rect x="48.00" y="87.10" width="0.63" height="9.40" fill="#ff9a1a" />
<rect x="48.60" y="87.10" width="0.63" height="9.40" fill="#fff23a" />
<rect x="49.21" y="87.10" width="0.32" height="9.40" fill="#ff9a1a" />
<rect x="49.51" y="87.10" width="0.32" height="9.40" fill="#fff23a" />
<rect x="49.82" y="87.10" width="0.32" height="9.40" fill="#ff9a1a" />
<rect x="50.12" y="87.10" width="0.32" height="9.40" fill="#fff23a" />
<rect x="50.42" y="87.10" width="1.23" height="9.40" fill="#ff9a1a" />
<rect x="51.63" y="87.10" width="1.84" height="9.40" fill="#fff23a" />
<rect x="53.45" y="87.10" width="0.63" height="9.40" fill="#ff9a1a" />
<rect x="54.06" y="87.10" width="0.93" height="9.40" fill="#fff23a" />
<rect x="54.97" y="87.10" width="0.93" height="9.40" fill="#ff9a1a" />
<rect x="55.88" y="87.10" width="1.23" height="9.40" fill="#fff23a" />
<rect x="57.09" y="87.10" width="0.63" height="9.40" fill="#ff9a1a" />
<rect x="57.69" y="87.10" width="1.23" height="9.40" fill="#fff23a" />
<rect x="58.90" y="87.10" width="0.32" height="9.40" fill="#ff9a1a" />
<rect x="59.21" y="87.10" width="0.93" height="9.40" fill="#fff23a" />
<rect x="60.12" y="87.10" width="0.32" height="9.40" fill="#ff9a1a" />
<rect x="60.42" y="87.10" width="0.93" height="9.40" fill="#fff23a" />
<rect x="61.33" y="87.10" width="0.63" height="9.40" fill="#ff9a1a" />
<rect x="61.93" y="87.10" width="0.93" height="9.40" fill="#fff23a" />
<rect x="62.84" y="87.10" width="0.63" height="9.40" fill="#ff9a1a" />
<rect x="63.45" y="87.10" width="0.63" height="9.40" fill="#fff23a" />
<rect x="64.06" y="87.10" width="0.93" height="9.40" fill="#ff9a1a" />
<rect x="64.96" y="87.10" width="2.14" height="9.40" fill="#fff23a" />
<rect x="67.08" y="87.10" width="0.63" height="9.40" fill="#ff9a1a" />
<rect x="67.69" y="87.10" width="0.32" height="9.40" fill="#fff23a" />
<rect x="67.99" y="87.10" width="0.32" height="9.40" fill="#ff9a1a" />
<rect x="68.30" y="87.10" width="3.96" height="9.40" fill="#fff23a" />
<rect x="72.24" y="87.10" width="0.63" height="9.40" fill="#ff9a1a" />
<rect x="72.84" y="87.10" width="1.84" height="9.40" fill="#fff23a" />
<rect x="74.66" y="87.10" width="0.32" height="9.40" fill="#ff9a1a" />
<rect x="74.96" y="87.10" width="0.32" height="9.40" fill="#fff23a" />
<rect x="75.27" y="87.10" width="0.63" height="9.40" fill="#ff9a1a" />
<rect x="75.87" y="87.10" width="0.32" height="9.40" fill="#fff23a" />
<rect x="76.17" y="87.10" width="0.32" height="9.40" fill="#ff9a1a" />
<rect x="76.48" y="87.10" width="0.93" height="9.40" fill="#fff23a" />
<rect x="77.39" y="87.10" width="0.63" height="9.40" fill="#ff9a1a" />
<rect x="77.99" y="87.10" width="0.93" height="9.40" fill="#fff23a" />
<rect x="78.90" y="87.10" width="0.32" height="9.40" fill="#ff9a1a" />
<rect x="79.20" y="87.10" width="0.93" height="9.40" fill="#fff23a" />
<rect x="80.11" y="87.10" width="1.23" height="9.40" fill="#ff9a1a" />
<rect x="81.32" y="87.10" width="0.32" height="9.40" fill="#fff23a" />
<rect x="81.63" y="87.10" width="0.63" height="9.40" fill="#ff9a1a" />
<rect x="82.23" y="87.10" width="0.32" height="9.40" fill="#fff23a" />
<rect x="82.54" y="87.10" width="0.63" height="9.40" fill="#ff9a1a" />
<rect x="83.14" y="87.10" width="3.35" height="9.40" fill="#fff23a" />
<rect x="86.47" y="87.10" width="1.23" height="9.40" fill="#ff9a1a" />
<rect x="87.69" y="87.10" width="0.93" height="9.40" fill="#fff23a" />
<rect x="88.60" y="87.10" width="0.32" height="9.40" fill="#ff9a1a" />
<rect x="88.90" y="87.10" width="0.63" height="9.40" fill="#fff23a" />
<rect x="89.50" y="87.10" width="0.32" height="9.40" fill="#ff9a1a" />
<rect x="89.81" y="87.10" width="0.32" height="9.40" fill="#fff23a" />
<rect x="90.11" y="87.10" width="0.32" height="9.40" fill="#ff9a1a" />
<rect x="90.41" y="87.10" width="1.53" height="9.40" fill="#fff23a" />
<rect x="91.93" y="87.10" width="0.93" height="9.40" fill="#ff9a1a" />
<rect x="92.84" y="87.10" width="0.93" height="9.40" fill="#fff23a" />
<rect x="93.75" y="87.10" width="0.93" height="9.40" fill="#ff9a1a" />
<rect x="94.65" y="87.10" width="0.32" height="9.40" fill="#fff23a" />
<rect x="94.96" y="87.10" width="0.32" height="9.40" fill="#ff9a1a" />
<rect x="95.26" y="87.10" width="0.32" height="9.40" fill="#fff23a" />
<rect x="95.56" y="87.10" width="0.93" height="9.40" fill="#ff9a1a" />
<rect x="96.47" y="87.10" width="0.32" height="9.40" fill="#fff23a" />
<rect x="96.78" y="87.10" width="0.63" height="9.40" fill="#ff9a1a" />
<rect x="97.38" y="87.10" width="0.32" height="9.40" fill="#fff23a" />
<rect x="97.68" y="87.10" width="4.56" height="9.40" fill="#ff9a1a" />
<rect x="102.23" y="87.10" width="0.93" height="9.40" fill="#fff23a" />
<rect x="103.14" y="87.10" width="0.93" height="9.40" fill="#ff9a1a" />
<rect x="104.05" y="87.10" width="0.32" height="9.40" fill="#fff23a" />
<rect x="104.35" y="87.10" width="1.84" height="9.40" fill="#ff9a1a" />
<rect x="106.17" y="87.10" width="0.63" height="9.40" fill="#fff23a" />
<rect x="106.77" y="87.10" width="0.63" height="9.40" fill="#ff9a1a" />
<rect x="107.38" y="87.10" width="0.32" height="9.40" fill="#fff23a" />
<rect x="107.68" y="87.10" width="0.63" height="9.40" fill="#ff9a1a" />
<rect x="108.29" y="87.10" width="0.63" height="9.40" fill="#fff23a" />
<rect x="108.89" y="87.10" width="0.93" height="9.40" fill="#ff9a1a" />
<rect x="109.80" y="87.10" width="0.32" height="9.40" fill="#fff23a" />
<rect x="110.11" y="87.10" width="1.23" height="9.40" fill="#ff9a1a" />
<rect x="111.32" y="87.10" width="0.63" height="9.40" fill="#fff23a" />
<rect x="111.92" y="87.10" width="0.93" height="9.40" fill="#ff9a1a" />
<rect x="112.83" y="87.10" width="0.32" height="9.40" fill="#fff23a" />
<rect x="113.14" y="87.10" width="0.63" height="9.40" fill="#ff9a1a" />
<rect x="113.74" y="87.10" width="0.63" height="9.40" fill="#fff23a" />
<rect x="114.35" y="87.10" width="0.93" height="9.40" fill="#ff9a1a" />
<rect x="115.26" y="87.10" width="1.53" height="9.40" fill="#fff23a" />
<rect x="116.77" y="87.10" width="0.93" height="9.40" fill="#ff9a1a" />
<rect x="117.68" y="87.10" width="1.23" height="9.40" fill="#fff23a" />
<rect x="118.89" y="87.10" width="0.93" height="9.40" fill="#ff9a1a" />
<rect x="119.80" y="87.10" width="0.63" height="9.40" fill="#fff23a" />
<rect x="120.41" y="87.10" width="0.32" height="9.40" fill="#ff9a1a" />
<rect x="120.71" y="87.10" width="0.32" height="9.40" fill="#fff23a" />
<rect x="121.01" y="87.10" width="1.84" height="9.40" fill="#ff9a1a" />
<rect x="122.83" y="87.10" width="0.32" height="9.40" fill="#fff23a" />
<rect x="123.13" y="87.10" width="1.23" height="9.40" fill="#ff9a1a" />
<rect x="124.35" y="87.10" width="0.32" height="9.40" fill="#fff23a" />
<rect x="124.65" y="87.10" width="1.53" height="9.40" fill="#ff9a1a" />
<rect x="126.16" y="87.10" width="0.63" height="9.40" fill="#fff23a" />
<rect x="126.77" y="87.10" width="0.63" height="9.40" fill="#ff9a1a" />
<rect x="127.38" y="87.10" width="0.32" height="9.40" fill="#fff23a" />
<rect x="127.68" y="87.10" width="0.93" height="9.40" fill="#ff9a1a" />
<rect x="128.59" y="87.10" width="0.93" height="9.40" fill="#fff23a" />
<rect x="129.50" y="87.10" width="0.93" height="9.40" fill="#ff9a1a" />
<rect x="130.41" y="87.10" width="0.63" height="9.40" fill="#fff23a" />
<rect x="131.01" y="87.10" width="1.23" height="9.40" fill="#ff9a1a" />
<rect x="132.22" y="87.10" width="0.32" height="9.40" fill="#fff23a" />
<rect x="132.53" y="87.10" width="0.32" height="9.40" fill="#ff9a1a" />
<rect x="132.83" y="87.10" width="0.93" height="9.40" fill="#fff23a" />
<rect x="133.74" y="87.10" width="0.63" height="9.40" fill="#ff9a1a" />
<rect x="134.34" y="87.10" width="0.32" height="9.40" fill="#fff23a" />
<rect x="134.65" y="87.10" width="0.32" height="9.40" fill="#ff9a1a" />
<rect x="134.95" y="87.10" width="0.93" height="9.40" fill="#fff23a" />
<rect x="135.86" y="87.10" width="1.53" height="9.40" fill="#ff9a1a" />
<rect x="137.37" y="87.10" width="0.93" height="9.40" fill="#fff23a" />
<rect x="138.28" y="87.10" width="0.93" height="9.40" fill="#ff9a1a" />
<rect x="139.19" y="87.10" width="0.32" height="9.40" fill="#fff23a" />
<rect x="139.49" y="87.10" width="0.32" height="9.40" fill="#ff9a1a" />
<rect x="139.80" y="87.10" width="0.32" height="9.40" fill="#fff23a" />
<rect x="140.10" y="87.10" width="0.32" height="9.40" fill="#ff9a1a" />
<rect x="140.40" y="87.10" width="0.32" height="9.40" fill="#fff23a" />
<rect x="140.71" y="87.10" width="0.93" height="9.40" fill="#ff9a1a" />
<rect x="141.61" y="87.10" width="0.32" height="9.40" fill="#fff23a" />
<rect x="141.92" y="87.10" width="0.32" height="9.40" fill="#ff9a1a" />
<rect x="142.22" y="87.10" width="0.32" height="9.40" fill="#fff23a" />
<rect x="142.52" y="87.10" width="0.32" height="9.40" fill="#ff9a1a" />
<rect x="142.83" y="87.10" width="1.23" height="9.40" fill="#fff23a" />
<rect x="144.04" y="87.10" width="1.23" height="9.40" fill="#ff9a1a" />
<rect x="145.25" y="87.10" width="0.32" height="9.40" fill="#fff23a" />
<rect x="145.55" y="87.10" width="0.32" height="9.40" fill="#ff9a1a" />
<rect x="145.86" y="87.10" width="0.32" height="9.40" fill="#fff23a" />
<rect x="146.16" y="87.10" width="0.93" height="9.40" fill="#ff9a1a" />
<rect x="147.07" y="87.10" width="0.32" height="9.40" fill="#fff23a" />
<rect x="147.37" y="87.10" width="1.53" height="9.40" fill="#ff9a1a" />
<rect x="148.89" y="87.10" width="0.32" height="9.40" fill="#fff23a" />
<rect x="149.19" y="87.10" width="0.32" height="9.40" fill="#ff9a1a" />
<rect x="149.49" y="87.10" width="0.32" height="9.40" fill="#fff23a" />
<rect x="149.80" y="87.10" width="0.63" height="9.40" fill="#ff9a1a" />
<rect x="150.40" y="87.10" width="0.63" height="9.40" fill="#fff23a" />
<rect x="151.01" y="87.10" width="1.53" height="9.40" fill="#ff9a1a" />
<rect x="152.52" y="87.10" width="0.32" height="9.40" fill="#fff23a" />
<rect x="152.82" y="87.10" width="1.23" height="9.40" fill="#ff9a1a" />
<rect x="154.04" y="87.10" width="0.63" height="9.40" fill="#fff23a" />
<rect x="154.64" y="87.10" width="0.63" height="9.40" fill="#ff9a1a" />
<rect x="155.25" y="87.10" width="0.32" height="9.40" fill="#fff23a" />
<rect x="155.55" y="87.10" width="0.32" height="9.40" fill="#ff9a1a" />
<rect x="155.85" y="87.10" width="0.63" height="9.40" fill="#fff23a" />
<rect x="156.46" y="87.10" width="0.63" height="9.40" fill="#ff9a1a" />
<rect x="157.07" y="87.10" width="0.93" height="9.40" fill="#fff23a" />
<rect x="157.98" y="87.10" width="0.32" height="9.40" fill="#ff9a1a" />
<rect x="158.28" y="87.10" width="0.32" height="9.40" fill="#fff23a" />
<rect x="158.58" y="87.10" width="1.53" height="9.40" fill="#ff9a1a" />
<rect x="160.10" y="87.10" width="0.93" height="9.40" fill="#fff23a" />
<rect x="161.00" y="87.10" width="0.32" height="9.40" fill="#ff9a1a" />
<rect x="161.31" y="87.10" width="0.63" height="9.40" fill="#fff23a" />
<rect x="161.91" y="87.10" width="0.93" height="9.40" fill="#ff9a1a" />
<rect x="162.82" y="87.10" width="0.32" height="9.40" fill="#fff23a" />
<rect x="163.13" y="87.10" width="1.84" height="9.40" fill="#ff9a1a" />
<rect x="164.94" y="87.10" width="0.32" height="9.40" fill="#fff23a" />
<rect x="165.25" y="87.10" width="1.53" height="9.40" fill="#ff9a1a" />
<rect x="166.76" y="87.10" width="0.32" height="9.40" fill="#fff23a" />
<rect x="167.06" y="87.10" width="1.53" height="9.40" fill="#ff9a1a" />
<rect x="168.58" y="87.10" width="0.63" height="9.40" fill="#fff23a" />
<rect x="169.19" y="87.10" width="1.53" height="9.40" fill="#ff9a1a" />
<rect x="170.70" y="87.10" width="0.32" height="9.40" fill="#fff23a" />
<rect x="171.00" y="87.10" width="1.53" height="9.40" fill="#ff9a1a" />
<rect x="172.52" y="87.10" width="0.63" height="9.40" fill="#fff23a" />
<rect x="173.12" y="87.10" width="2.75" height="9.40" fill="#ff9a1a" />
<rect x="175.85" y="87.10" width="0.32" height="9.40" fill="#fff23a" />
<rect x="176.15" y="87.10" width="0.63" height="9.40" fill="#ff9a1a" />
<rect x="176.76" y="87.10" width="0.63" height="9.40" fill="#fff23a" />
<rect x="177.37" y="87.10" width="0.63" height="9.40" fill="#ff9a1a" />
<rect x="177.97" y="87.10" width="0.32" height="9.40" fill="#fff23a" />
<rect x="178.27" y="87.10" width="0.32" height="9.40" fill="#ff9a1a" />
<rect x="178.58" y="87.10" width="0.93" height="9.40" fill="#fff23a" />
<rect x="179.49" y="87.10" width="0.63" height="9.40" fill="#ff9a1a" />
<rect x="180.09" y="87.10" width="0.63" height="9.40" fill="#fff23a" />
<rect x="180.70" y="87.10" width="0.63" height="9.40" fill="#ff9a1a" />
<rect x="181.30" y="87.10" width="0.32" height="9.40" fill="#fff23a" />
<rect x="181.61" y="87.10" width="1.84" height="9.40" fill="#ff9a1a" />
<rect x="183.42" y="87.10" width="0.32" height="9.40" fill="#fff23a" />
<rect x="183.73" y="87.10" width="0.63" height="9.40" fill="#ff9a1a" />
<rect x="184.33" y="87.10" width="0.63" height="9.40" fill="#fff23a" />
<rect x="184.94" y="87.10" width="0.93" height="9.40" fill="#ff9a1a" />
<rect x="185.85" y="87.10" width="0.32" height="9.40" fill="#fff23a" />
<rect x="186.15" y="87.10" width="0.32" height="9.40" fill="#ff9a1a" />
<rect x="186.45" y="87.10" width="0.32" height="9.40" fill="#fff23a" />
<rect x="186.76" y="87.10" width="1.23" height="9.40" fill="#ff9a1a" />
<rect x="187.97" y="87.10" width="0.32" height="9.40" fill="#fff23a" />
<rect x="188.27" y="87.10" width="0.32" height="9.40" fill="#ff9a1a" />
<rect x="188.57" y="87.10" width="0.63" height="9.40" fill="#fff23a" />
<rect x="189.18" y="87.10" width="0.32" height="9.40" fill="#ff9a1a" />
<rect x="189.48" y="87.10" width="0.63" height="9.40" fill="#fff23a" />
<rect x="190.09" y="87.10" width="0.63" height="9.40" fill="#ff9a1a" />
<rect x="190.70" y="87.10" width="1.53" height="9.40" fill="#fff23a" />
<rect x="192.21" y="87.10" width="0.32" height="9.40" fill="#ff9a1a" />
<rect x="192.51" y="87.10" width="0.63" height="9.40" fill="#fff23a" />
<rect x="193.12" y="87.10" width="0.32" height="9.40" fill="#ff9a1a" />
<rect x="193.42" y="87.10" width="0.93" height="9.40" fill="#fff23a" />
<rect x="194.33" y="87.10" width="0.32" height="9.40" fill="#ff9a1a" />
<rect x="194.63" y="87.10" width="0.63" height="9.40" fill="#fff23a" />
<rect x="195.24" y="87.10" width="2.14" height="9.40" fill="#ff9a1a" />
<rect x="197.36" y="87.10" width="0.93" height="9.40" fill="#fff23a" />
<rect x="198.27" y="87.10" width="0.63" height="9.40" fill="#ff9a1a" />
<rect x="198.88" y="87.10" width="0.93" height="9.40" fill="#fff23a" />
<rect x="199.78" y="87.10" width="0.32" height="9.40" fill="#ff9a1a" />
<rect x="200.09" y="87.10" width="0.63" height="9.40" fill="#fff23a" />
<rect x="200.69" y="87.10" width="1.23" height="9.40" fill="#ff9a1a" />
<rect x="201.91" y="87.10" width="0.63" height="9.40" fill="#fff23a" />
<rect x="202.51" y="87.10" width="0.32" height="9.40" fill="#ff9a1a" />
<rect x="202.81" y="87.10" width="0.63" height="9.40" fill="#fff23a" />
<rect x="203.42" y="87.10" width="0.32" height="9.40" fill="#ff9a1a" />
<rect x="203.72" y="87.10" width="0.63" height="9.40" fill="#fff23a" />
<rect x="204.33" y="87.10" width="2.44" height="9.40" fill="#ff9a1a" />
<rect x="206.75" y="87.10" width="0.63" height="9.40" fill="#fff23a" />
<rect x="207.36" y="87.10" width="0.32" height="9.40" fill="#ff9a1a" />
<rect x="207.66" y="87.10" width="0.63" height="9.40" fill="#fff23a" />
<rect x="208.27" y="87.10" width="1.23" height="9.40" fill="#ff9a1a" />
<rect x="209.48" y="87.10" width="0.63" height="9.40" fill="#fff23a" />
<rect x="210.09" y="87.10" width="0.32" height="9.40" fill="#ff9a1a" />
<rect x="210.39" y="87.10" width="0.32" height="9.40" fill="#fff23a" />
<rect x="210.69" y="87.10" width="0.32" height="9.40" fill="#ff9a1a" />
<rect x="210.99" y="87.10" width="0.32" height="9.40" fill="#fff23a" />
<rect x="211.30" y="87.10" width="1.23" height="9.40" fill="#ff9a1a" />
<rect x="212.51" y="87.10" width="0.32" height="9.40" fill="#fff23a" />
<rect x="212.81" y="87.10" width="0.32" height="9.40" fill="#ff9a1a" />
<rect x="213.12" y="87.10" width="0.93" height="9.40" fill="#fff23a" />
<rect x="214.02" y="87.10" width="0.63" height="9.40" fill="#ff9a1a" />
<rect x="214.63" y="87.10" width="0.63" height="9.40" fill="#fff23a" />
<rect x="215.24" y="87.10" width="5.78" height="9.40" fill="#ff9a1a" />
<rect x="220.99" y="87.10" width="1.23" height="9.40" fill="#fff23a" />
<rect x="222.20" y="87.10" width="0.63" height="9.40" fill="#ff9a1a" />
<rect x="222.81" y="87.10" width="0.63" height="9.40" fill="#fff23a" />
<rect x="223.42" y="87.10" width="0.32" height="9.40" fill="#ff9a1a" />
<rect x="223.72" y="87.10" width="0.32" height="9.40" fill="#fff23a" />
<rect x="224.02" y="87.10" width="0.93" height="9.40" fill="#ff9a1a" />
<rect x="224.93" y="87.10" width="1.53" height="9.40" fill="#fff23a" />
<rect x="226.45" y="87.10" width="0.32" height="9.40" fill="#ff9a1a" />
<rect x="226.75" y="87.10" width="0.93" height="9.40" fill="#fff23a" />
<rect x="227.66" y="87.10" width="0.32" height="9.40" fill="#ff9a1a" />
<rect x="227.96" y="87.10" width="0.32" height="9.40" fill="#fff23a" />
<rect x="228.26" y="87.10" width="0.32" height="9.40" fill="#ff9a1a" />
<rect x="228.57" y="87.10" width="0.93" height="9.40" fill="#fff23a" />
<rect x="229.48" y="87.10" width="0.32" height="9.40" fill="#ff9a1a" />
<rect x="229.78" y="87.10" width="0.93" height="9.40" fill="#fff23a" />
<rect x="230.69" y="87.10" width="1.84" height="9.40" fill="#ff9a1a" />
<rect x="232.51" y="87.10" width="0.32" height="9.40" fill="#fff23a" />
<rect x="232.81" y="87.10" width="1.23" height="9.40" fill="#ff9a1a" />
<rect x="234.02" y="87.10" width="0.32" height="9.40" fill="#fff23a" />
<rect x="234.32" y="87.10" width="0.32" height="9.40" fill="#ff9a1a" />
<rect x="234.63" y="87.10" width="0.32" height="9.40" fill="#fff23a" />
<rect x="234.93" y="87.10" width="1.23" height="9.40" fill="#ff9a1a" />
<rect x="236.14" y="87.10" width="0.63" height="9.40" fill="#fff23a" />
<rect x="236.75" y="87.10" width="0.32" height="9.40" fill="#ff9a1a" />
<rect x="237.05" y="87.10" width="0.32" height="9.40" fill="#fff23a" />
<rect x="237.35" y="87.10" width="0.63" height="9.40" fill="#ff9a1a" />
<rect x="237.96" y="87.10" width="0.63" height="9.40" fill="#fff23a" />
<rect x="238.56" y="87.10" width="2.44" height="9.40" fill="#ff9a1a" />
<rect x="240.99" y="87.10" width="0.63" height="9.40" fill="#fff23a" />
<rect x="241.59" y="87.10" width="0.32" height="9.40" fill="#ff9a1a" />
<rect x="241.90" y="87.10" width="0.32" height="9.40" fill="#fff23a" />
<rect x="242.20" y="87.10" width="0.63" height="9.40" fill="#ff9a1a" />
<rect x="242.81" y="87.10" width="0.93" height="9.40" fill="#fff23a" />
<rect x="243.72" y="87.10" width="0.93" height="9.40" fill="#ff9a1a" />
<rect x="244.62" y="87.10" width="1.84" height="9.40" fill="#fff23a" />
<rect x="246.44" y="87.10" width="0.32" height="9.40" fill="#ff9a1a" />
<rect x="246.74" y="87.10" width="0.93" height="9.40" fill="#fff23a" />
<rect x="247.65" y="87.10" width="0.63" height="9.40" fill="#ff9a1a" />
<rect x="248.26" y="87.10" width="0.32" height="9.40" fill="#fff23a" />
<rect x="248.56" y="87.10" width="0.32" height="9.40" fill="#ff9a1a" />
<rect x="248.87" y="87.10" width="0.63" height="9.40" fill="#fff23a" />
<rect x="249.47" y="87.10" width="0.32" height="9.40" fill="#ff9a1a" />
<rect x="249.77" y="87.10" width="1.23" height="9.40" fill="#fff23a" />
<rect x="250.99" y="87.10" width="0.32" height="9.40" fill="#ff9a1a" />
<rect x="251.29" y="87.10" width="0.93" height="9.40" fill="#fff23a" />
<rect x="252.20" y="87.10" width="0.63" height="9.40" fill="#ff9a1a" />
<rect x="252.80" y="87.10" width="0.93" height="9.40" fill="#fff23a" />
<rect x="253.71" y="87.10" width="0.32" height="9.40" fill="#ff9a1a" />
<rect x="254.02" y="87.10" width="0.63" height="9.40" fill="#fff23a" />
<rect x="254.62" y="87.10" width="1.23" height="9.40" fill="#ff9a1a" />
<rect x="255.83" y="87.10" width="0.63" height="9.40" fill="#fff23a" />
<rect x="256.44" y="87.10" width="1.53" height="9.40" fill="#ff9a1a" />
<rect x="257.95" y="87.10" width="0.63" height="9.40" fill="#fff23a" />
<rect x="258.56" y="87.10" width="0.93" height="9.40" fill="#ff9a1a" />
<rect x="259.47" y="87.10" width="0.32" height="9.40" fill="#fff23a" />
<rect x="259.77" y="87.10" width="3.35" height="9.40" fill="#ff9a1a" />
<rect x="263.11" y="87.10" width="0.93" height="9.40" fill="#fff23a" />
<rect x="264.01" y="87.10" width="0.93" height="9.40" fill="#ff9a1a" />
<rect x="264.92" y="87.10" width="0.32" height="9.40" fill="#fff23a" />
<rect x="265.23" y="87.10" width="0.32" height="9.40" fill="#ff9a1a" />
<rect x="265.53" y="87.10" width="0.32" height="9.40" fill="#fff23a" />
<rect x="265.83" y="87.10" width="1.84" height="9.40" fill="#ff9a1a" />
<rect x="267.65" y="87.10" width="0.32" height="9.40" fill="#fff23a" />
<rect x="267.95" y="87.10" width="0.32" height="9.40" fill="#ff9a1a" />
<rect x="268.26" y="87.10" width="0.32" height="9.40" fill="#fff23a" />
<rect x="268.56" y="87.10" width="1.53" height="9.40" fill="#ff9a1a" />
<rect x="270.07" y="87.10" width="1.23" height="9.40" fill="#fff23a" />
<rect x="271.29" y="87.10" width="0.63" height="9.40" fill="#ff9a1a" />
<rect x="271.89" y="87.10" width="0.63" height="9.40" fill="#fff23a" />
<rect x="272.50" y="87.10" width="0.32" height="9.40" fill="#ff9a1a" />
<text x="39.00" y="66.00" font-size="4.15" font-weight="bold"  stroke="#000" stroke-width="0.05">Hypermutated (HM, n=180)</text>
<text x="182.50" y="66.00" font-size="4.15" text-anchor="middle" font-weight="bold"  stroke="#000" stroke-width="0.05">Non-hypermutated (nHM, n=595)</text>
<text x="35.80" y="65.85" font-size="5.05" text-anchor="end" fill="#222"  stroke="#222" stroke-width="0.05">Mutation status</text>
<line x1="36.00" y1="64.05" x2="38.00" y2="64.05" stroke="#444" stroke-width="0.4" />
<text x="35.80" y="75.15" font-size="5.05" text-anchor="end" fill="#222"  stroke="#222" stroke-width="0.05">Tumor locations</text>
<line x1="36.00" y1="73.35" x2="38.00" y2="73.35" stroke="#444" stroke-width="0.4" />
<text x="35.80" y="84.30" font-size="5.05" text-anchor="end" fill="#222"  stroke="#222" stroke-width="0.05">Age groups</text>
<line x1="36.00" y1="82.50" x2="38.00" y2="82.50" stroke="#444" stroke-width="0.4" />
<text x="35.80" y="93.60" font-size="5.05" text-anchor="end" fill="#222"  stroke="#222" stroke-width="0.05">Sex</text>
<line x1="36.00" y1="91.80" x2="38.00" y2="91.80" stroke="#444" stroke-width="0.4" />
<text x="275.2" y="74.80" font-size="5.6" fill="#222" stroke="#222" stroke-width="0.05">2.38 × 10<tspan dy="-2.2" font-size="3.0">−11</tspan></text>
<text x="275.2" y="83.60" font-size="5.6" fill="#222" stroke="#222" stroke-width="0.05">7.93 × 10<tspan dy="-2.2" font-size="3.0">−4</tspan></text>
<text x="275.2" y="92.80" font-size="5.6" fill="#222" stroke="#222" stroke-width="0.05">2.85 × 10<tspan dy="-2.2" font-size="3.0">−4</tspan></text>
<text x="150.80" y="103.20" font-size="6.7" text-anchor="middle"  stroke="#000" stroke-width="0.05">Samples</text>
<text x="275.20" y="22.90" font-size="5.6"  stroke="#000" stroke-width="0.05">Mutation status</text>
<rect x="275.30" y="25.30" width="5.40" height="5.40" fill="#ee7d7b" />
<text x="282.50" y="30.10" font-size="5.9"  stroke="#000" stroke-width="0.05">HM</text>
<rect x="275.30" y="32.30" width="5.40" height="5.40" fill="#4493ab" />
<text x="282.50" y="37.10" font-size="5.9"  stroke="#000" stroke-width="0.05">nHM</text>
<text x="275.20" y="45.60" font-size="5.6"  stroke="#000" stroke-width="0.05">Tumor locations</text>
<rect x="275.30" y="48.30" width="5.40" height="5.40" fill="#9b4ea6" />
<text x="282.50" y="53.10" font-size="5.9"  stroke="#000" stroke-width="0.05">Right</text>
<rect x="275.30" y="54.90" width="5.40" height="5.40" fill="#56ae4f" />
<text x="282.50" y="59.70" font-size="5.9"  stroke="#000" stroke-width="0.05">Left</text>
<text x="320.00" y="22.90" font-size="5.6"  stroke="#000" stroke-width="0.05">Sex</text>
<rect x="320.10" y="25.30" width="5.40" height="5.40" fill="#fff23a" />
<text x="327.30" y="30.10" font-size="5.9"  stroke="#000" stroke-width="0.05">Female</text>
<rect x="320.10" y="32.30" width="5.40" height="5.40" fill="#ff8c10" />
<text x="327.30" y="37.10" font-size="5.9"  stroke="#000" stroke-width="0.05">Male</text>
<text x="320.00" y="45.60" font-size="5.6"  stroke="#000" stroke-width="0.05">Age groups</text>
<rect x="320.10" y="48.30" width="5.40" height="5.40" fill="#9a9a9a" />
<text x="327.30" y="53.10" font-size="5.9"  stroke="#000" stroke-width="0.05">≤ 65 years</text>
<rect x="320.10" y="54.90" width="5.40" height="5.40" fill="#ef86bf" />
<text x="327.30" y="59.70" font-size="5.9"  stroke="#000" stroke-width="0.05">66−79 years</text>
<rect x="320.10" y="61.50" width="5.40" height="5.40" fill="#a9573a" />
<text x="327.30" y="66.30" font-size="5.9"  stroke="#000" stroke-width="0.05">≥ 80 years</text>
<text x="401.90" y="17.90" font-size="6.6" fill="#111"  stroke="#111" stroke-width="0.05">UU (discovery cohort)</text>
<line x1="397.90" y1="21.30" x2="475.50" y2="21.30" stroke="#888" stroke-width="0.9" />
<rect x="397.40" y="28.80" width="45.45" height="8.50" fill="#3b8fa9" />
<rect x="442.85" y="28.80" width="29.15" height="8.50" fill="#f4766f" />
<text x="420.13" y="35.25" font-size="5.7" text-anchor="middle" fill="#111"  stroke="#111" stroke-width="0.05">237</text>
<text x="457.43" y="35.25" font-size="5.7" text-anchor="middle" fill="#111"  stroke="#111" stroke-width="0.05">152</text>
<rect x="397.40" y="38.70" width="69.19" height="8.50" fill="#3b8fa9" />
<rect x="466.59" y="38.70" width="5.41" height="8.50" fill="#f4766f" />
<text x="431.99" y="45.15" font-size="5.7" text-anchor="middle" fill="#111"  stroke="#111" stroke-width="0.05">358</text>
<text x="469.29" y="45.15" font-size="5.7" text-anchor="middle" fill="#111"  stroke="#111" stroke-width="0.05">28</text>
<rect x="397.40" y="37.30" width="74.60" height="1.40" fill="#a8d2de" />
<line x1="397.10" y1="27.50" x2="397.10" y2="47.90" stroke="#222" stroke-width="0.6" />
<line x1="397.10" y1="47.90" x2="479.50" y2="47.90" stroke="#222" stroke-width="0.6" />
<line x1="397.40" y1="47.90" x2="397.40" y2="49.40" stroke="#222" stroke-width="0.5" />
<text x="396.50" y="54.80" font-size="5.4" text-anchor="middle" fill="#222"  stroke="#222" stroke-width="0.05">0</text>
<line x1="416.05" y1="47.90" x2="416.05" y2="49.40" stroke="#222" stroke-width="0.5" />
<text x="415.15" y="54.80" font-size="5.4" text-anchor="middle" fill="#222"  stroke="#222" stroke-width="0.05">25</text>
<line x1="434.70" y1="47.90" x2="434.70" y2="49.40" stroke="#222" stroke-width="0.5" />
<text x="433.80" y="54.80" font-size="5.4" text-anchor="middle" fill="#222"  stroke="#222" stroke-width="0.05">50</text>
<line x1="453.35" y1="47.90" x2="453.35" y2="49.40" stroke="#222" stroke-width="0.5" />
<text x="452.45" y="54.80" font-size="5.4" text-anchor="middle" fill="#222"  stroke="#222" stroke-width="0.05">75</text>
<line x1="472.00" y1="47.90" x2="472.00" y2="49.40" stroke="#222" stroke-width="0.5" />
<text x="471.10" y="54.80" font-size="5.4" text-anchor="middle" fill="#222"  stroke="#222" stroke-width="0.05">100</text>
<text x="440.00" y="60.20" font-size="5.6" text-anchor="middle" fill="#222"  stroke="#222" stroke-width="0.05">Percentage (%)</text>
<line x1="395.40" y1="33.00" x2="397.10" y2="33.00" stroke="#222" stroke-width="0.4" />
<line x1="395.40" y1="43.00" x2="397.10" y2="43.00" stroke="#222" stroke-width="0.4" />
<text x="484.90" y="17.90" font-size="6.6" fill="#111"  stroke="#111" stroke-width="0.05">UM (validation cohort)</text>
<line x1="483.10" y1="21.30" x2="560.30" y2="21.30" stroke="#888" stroke-width="0.9" />
<rect x="483.70" y="28.80" width="42.08" height="8.50" fill="#3b8fa9" />
<rect x="525.78" y="28.80" width="32.82" height="8.50" fill="#f4766f" />
<text x="504.74" y="35.25" font-size="5.7" text-anchor="middle" fill="#111"  stroke="#111" stroke-width="0.05">50</text>
<text x="542.19" y="35.25" font-size="5.7" text-anchor="middle" fill="#111"  stroke="#111" stroke-width="0.05">39</text>
<rect x="483.70" y="38.70" width="65.67" height="8.50" fill="#3b8fa9" />
<rect x="549.37" y="38.70" width="9.23" height="8.50" fill="#f4766f" />
<text x="516.53" y="45.15" font-size="5.7" text-anchor="middle" fill="#111"  stroke="#111" stroke-width="0.05">64</text>
<text x="553.98" y="45.15" font-size="5.7" text-anchor="middle" fill="#111"  stroke="#111" stroke-width="0.05">9</text>
<rect x="483.70" y="37.30" width="74.90" height="1.40" fill="#a8d2de" />
<line x1="483.40" y1="27.50" x2="483.40" y2="47.90" stroke="#222" stroke-width="0.6" />
<line x1="483.40" y1="47.90" x2="566.10" y2="47.90" stroke="#222" stroke-width="0.6" />
<line x1="483.70" y1="47.90" x2="483.70" y2="49.40" stroke="#222" stroke-width="0.5" />
<text x="482.80" y="54.80" font-size="5.4" text-anchor="middle" fill="#222"  stroke="#222" stroke-width="0.05">0</text>
<line x1="502.43" y1="47.90" x2="502.43" y2="49.40" stroke="#222" stroke-width="0.5" />
<text x="501.53" y="54.80" font-size="5.4" text-anchor="middle" fill="#222"  stroke="#222" stroke-width="0.05">25</text>
<line x1="521.15" y1="47.90" x2="521.15" y2="49.40" stroke="#222" stroke-width="0.5" />
<text x="520.25" y="54.80" font-size="5.4" text-anchor="middle" fill="#222"  stroke="#222" stroke-width="0.05">50</text>
<line x1="539.88" y1="47.90" x2="539.88" y2="49.40" stroke="#222" stroke-width="0.5" />
<text x="538.98" y="54.80" font-size="5.4" text-anchor="middle" fill="#222"  stroke="#222" stroke-width="0.05">75</text>
<line x1="558.60" y1="47.90" x2="558.60" y2="49.40" stroke="#222" stroke-width="0.5" />
<text x="557.70" y="54.80" font-size="5.4" text-anchor="middle" fill="#222"  stroke="#222" stroke-width="0.05">100</text>
<text x="530.00" y="60.20" font-size="5.6" text-anchor="middle" fill="#222"  stroke="#222" stroke-width="0.05">Percentage (%)</text>
<line x1="481.70" y1="33.00" x2="483.40" y2="33.00" stroke="#222" stroke-width="0.4" />
<line x1="481.70" y1="43.00" x2="483.40" y2="43.00" stroke="#222" stroke-width="0.4" />
<text x="568.90" y="17.90" font-size="6.6" fill="#111"  stroke="#111" stroke-width="0.05">AC-ICAM (validation cohort)</text>
<line x1="576.40" y1="21.30" x2="653.60" y2="21.30" stroke="#888" stroke-width="0.9" />
<rect x="572.00" y="28.80" width="48.03" height="8.50" fill="#3b8fa9" />
<rect x="620.03" y="28.80" width="26.87" height="8.50" fill="#f4766f" />
<text x="596.02" y="35.25" font-size="5.7" text-anchor="middle" fill="#111"  stroke="#111" stroke-width="0.05">59</text>
<text x="633.47" y="35.25" font-size="5.7" text-anchor="middle" fill="#111"  stroke="#111" stroke-width="0.05">33</text>
<rect x="572.00" y="38.70" width="65.91" height="8.50" fill="#3b8fa9" />
<rect x="637.91" y="38.70" width="8.99" height="8.50" fill="#f4766f" />
<text x="604.96" y="45.15" font-size="5.7" text-anchor="middle" fill="#111"  stroke="#111" stroke-width="0.05">66</text>
<text x="642.41" y="45.15" font-size="5.7" text-anchor="middle" fill="#111"  stroke="#111" stroke-width="0.05">9</text>
<rect x="572.00" y="37.30" width="74.90" height="1.40" fill="#a8d2de" />
<line x1="571.70" y1="27.50" x2="571.70" y2="47.90" stroke="#222" stroke-width="0.6" />
<line x1="571.70" y1="47.90" x2="654.40" y2="47.90" stroke="#222" stroke-width="0.6" />
<line x1="572.00" y1="47.90" x2="572.00" y2="49.40" stroke="#222" stroke-width="0.5" />
<text x="571.10" y="54.80" font-size="5.4" text-anchor="middle" fill="#222"  stroke="#222" stroke-width="0.05">0</text>
<line x1="590.73" y1="47.90" x2="590.73" y2="49.40" stroke="#222" stroke-width="0.5" />
<text x="589.83" y="54.80" font-size="5.4" text-anchor="middle" fill="#222"  stroke="#222" stroke-width="0.05">25</text>
<line x1="609.45" y1="47.90" x2="609.45" y2="49.40" stroke="#222" stroke-width="0.5" />
<text x="608.55" y="54.80" font-size="5.4" text-anchor="middle" fill="#222"  stroke="#222" stroke-width="0.05">50</text>
<line x1="628.17" y1="47.90" x2="628.17" y2="49.40" stroke="#222" stroke-width="0.5" />
<text x="627.27" y="54.80" font-size="5.4" text-anchor="middle" fill="#222"  stroke="#222" stroke-width="0.05">75</text>
<line x1="646.90" y1="47.90" x2="646.90" y2="49.40" stroke="#222" stroke-width="0.5" />
<text x="646.00" y="54.80" font-size="5.4" text-anchor="middle" fill="#222"  stroke="#222" stroke-width="0.05">100</text>
<text x="611.10" y="60.20" font-size="5.6" text-anchor="middle" fill="#222"  stroke="#222" stroke-width="0.05">Percentage (%)</text>
<line x1="570.00" y1="33.00" x2="571.70" y2="33.00" stroke="#222" stroke-width="0.4" />
<line x1="570.00" y1="43.00" x2="571.70" y2="43.00" stroke="#222" stroke-width="0.4" />
<text x="395.00" y="35.00" font-size="5.6" text-anchor="end" fill="#222"  stroke="#222" stroke-width="0.05">Right</text>
<text x="395.00" y="44.90" font-size="5.6" text-anchor="end" fill="#222"  stroke="#222" stroke-width="0.05">Left</text>
<text x="350.90" y="74.50" font-size="6.6" font-weight="bold"  stroke="#000" stroke-width="0.05">Tumor-enriched taxa</text>
<text x="416.90" y="83.50" font-size="5.2" text-anchor="end" fill="#222" stroke="#222" stroke-width="0.05"><tspan>g__</tspan><tspan font-style="italic">Alloprevotella</tspan></text>
<line x1="417.80" y1="81.30" x2="419.70" y2="81.30" stroke="#444" stroke-width="0.4" />
<text x="416.90" y="89.03" font-size="5.2" text-anchor="end" fill="#222" stroke="#222" stroke-width="0.05"><tspan>s__</tspan><tspan font-style="italic">Alloprevotella tannerae</tspan></text>
<line x1="417.80" y1="86.83" x2="419.70" y2="86.83" stroke="#444" stroke-width="0.4" />
<text x="416.90" y="94.56" font-size="5.2" text-anchor="end" fill="#222" stroke="#222" stroke-width="0.05"><tspan>g__</tspan><tspan>F0040</tspan></text>
<line x1="417.80" y1="92.36" x2="419.70" y2="92.36" stroke="#444" stroke-width="0.4" />
<text x="416.90" y="100.09" font-size="5.2" text-anchor="end" fill="#222" stroke="#222" stroke-width="0.05"><tspan>s__</tspan><tspan font-style="italic">Prevotella intermedia</tspan></text>
<line x1="417.80" y1="97.89" x2="419.70" y2="97.89" stroke="#444" stroke-width="0.4" />
<text x="416.90" y="105.62" font-size="5.2" text-anchor="end" fill="#222" stroke="#222" stroke-width="0.05"><tspan>g__</tspan><tspan font-style="italic">Campylobacter</tspan></text>
<line x1="417.80" y1="103.42" x2="419.70" y2="103.42" stroke="#444" stroke-width="0.4" />
<text x="416.90" y="111.15" font-size="5.2" text-anchor="end" fill="#222" stroke="#222" stroke-width="0.05"><tspan>g__</tspan><tspan font-style="italic">Solobacterium</tspan></text>
<line x1="417.80" y1="108.95" x2="419.70" y2="108.95" stroke="#444" stroke-width="0.4" />
<text x="416.90" y="116.68" font-size="5.2" text-anchor="end" fill="#222" stroke="#222" stroke-width="0.05"><tspan>s__</tspan><tspan font-style="italic">Solobacterium moorei</tspan></text>
<line x1="417.80" y1="114.48" x2="419.70" y2="114.48" stroke="#444" stroke-width="0.4" />
<text x="416.90" y="122.21" font-size="5.2" text-anchor="end" fill="#222" stroke="#222" stroke-width="0.05"><tspan>g__</tspan><tspan font-style="italic">Fusobacterium</tspan></text>
<line x1="417.80" y1="120.01" x2="419.70" y2="120.01" stroke="#444" stroke-width="0.4" />
<text x="416.90" y="127.74" font-size="5.2" text-anchor="end" fill="#222" stroke="#222" stroke-width="0.05"><tspan>s__</tspan><tspan font-style="italic">Fn. animalis</tspan><tspan> C2</tspan></text>
<line x1="417.80" y1="125.54" x2="419.70" y2="125.54" stroke="#444" stroke-width="0.4" />
<text x="416.90" y="133.27" font-size="5.2" text-anchor="end" fill="#222" stroke="#222" stroke-width="0.05"><tspan>s__</tspan><tspan font-style="italic">Fn. nucleatum</tspan></text>
<line x1="417.80" y1="131.07" x2="419.70" y2="131.07" stroke="#444" stroke-width="0.4" />
<text x="416.90" y="138.80" font-size="5.2" text-anchor="end" fill="#222" stroke="#222" stroke-width="0.05"><tspan>s__</tspan><tspan font-style="italic">Fn. polymorphum</tspan></text>
<line x1="417.80" y1="136.60" x2="419.70" y2="136.60" stroke="#444" stroke-width="0.4" />
<text x="416.90" y="144.33" font-size="5.2" text-anchor="end" fill="#222" stroke="#222" stroke-width="0.05"><tspan>s__</tspan><tspan font-style="italic">Fn. vincentii</tspan></text>
<line x1="417.80" y1="142.13" x2="419.70" y2="142.13" stroke="#444" stroke-width="0.4" />
<text x="416.90" y="149.86" font-size="5.2" text-anchor="end" fill="#222" stroke="#222" stroke-width="0.05"><tspan>g__</tspan><tspan font-style="italic">Parvimonas</tspan></text>
<line x1="417.80" y1="147.66" x2="419.70" y2="147.66" stroke="#444" stroke-width="0.4" />
<text x="416.90" y="155.39" font-size="5.2" text-anchor="end" fill="#222" stroke="#222" stroke-width="0.05"><tspan>s__</tspan><tspan font-style="italic">Parvimonas</tspan><tspan> sp.(01235)</tspan></text>
<line x1="417.80" y1="153.19" x2="419.70" y2="153.19" stroke="#444" stroke-width="0.4" />
<text x="416.90" y="160.92" font-size="5.2" text-anchor="end" fill="#222" stroke="#222" stroke-width="0.05"><tspan>s__</tspan><tspan font-style="italic">Parvimonas micra</tspan></text>
<line x1="417.80" y1="158.72" x2="419.70" y2="158.72" stroke="#444" stroke-width="0.4" />
<text x="416.90" y="166.45" font-size="5.2" text-anchor="end" fill="#222" stroke="#222" stroke-width="0.05"><tspan>g__</tspan><tspan font-style="italic">Lachnoanaerobaculum</tspan></text>
<line x1="417.80" y1="164.25" x2="419.70" y2="164.25" stroke="#444" stroke-width="0.4" />
<text x="416.90" y="171.98" font-size="5.2" text-anchor="end" fill="#222" stroke="#222" stroke-width="0.05"><tspan>g__</tspan><tspan font-style="italic">Leptotrichia</tspan></text>
<line x1="417.80" y1="169.78" x2="419.70" y2="169.78" stroke="#444" stroke-width="0.4" />
<text x="416.90" y="177.51" font-size="5.2" text-anchor="end" fill="#222" stroke="#222" stroke-width="0.05"><tspan>g__</tspan><tspan font-style="italic">Clostridioides</tspan></text>
<line x1="417.80" y1="175.31" x2="419.70" y2="175.31" stroke="#444" stroke-width="0.4" />
<text x="416.90" y="183.04" font-size="5.2" text-anchor="end" fill="#222" stroke="#222" stroke-width="0.05"><tspan>g__</tspan><tspan>GCA−900066495</tspan></text>
<line x1="417.80" y1="180.84" x2="419.70" y2="180.84" stroke="#444" stroke-width="0.4" />
<text x="416.90" y="188.57" font-size="5.2" text-anchor="end" fill="#222" stroke="#222" stroke-width="0.05"><tspan>g__</tspan><tspan font-style="italic">Peptostreptococcus</tspan></text>
<line x1="417.80" y1="186.37" x2="419.70" y2="186.37" stroke="#444" stroke-width="0.4" />
<text x="416.90" y="194.10" font-size="5.2" text-anchor="end" fill="#222" stroke="#222" stroke-width="0.05"><tspan>s__</tspan><tspan font-style="italic">Peptostreptococcus stomatis</tspan></text>
<line x1="417.80" y1="191.90" x2="419.70" y2="191.90" stroke="#444" stroke-width="0.4" />
<text x="416.90" y="199.63" font-size="5.2" text-anchor="end" fill="#222" stroke="#222" stroke-width="0.05"><tspan>g__</tspan><tspan font-style="italic">Anaerovibrio</tspan></text>
<line x1="417.80" y1="197.43" x2="419.70" y2="197.43" stroke="#444" stroke-width="0.4" />
<text x="416.90" y="205.16" font-size="5.2" text-anchor="end" fill="#222" stroke="#222" stroke-width="0.05"><tspan>g__</tspan><tspan font-style="italic">Megamonas</tspan></text>
<line x1="417.80" y1="202.96" x2="419.70" y2="202.96" stroke="#444" stroke-width="0.4" />
<text x="416.90" y="210.69" font-size="5.2" text-anchor="end" fill="#222" stroke="#222" stroke-width="0.05"><tspan>g__</tspan><tspan font-style="italic">Mitsuokella</tspan></text>
<line x1="417.80" y1="208.49" x2="419.70" y2="208.49" stroke="#444" stroke-width="0.4" />
<text x="416.90" y="216.22" font-size="5.2" text-anchor="end" fill="#222" stroke="#222" stroke-width="0.05"><tspan>g__</tspan><tspan font-style="italic">Selenomonas</tspan></text>
<line x1="417.80" y1="214.02" x2="419.70" y2="214.02" stroke="#444" stroke-width="0.4" />
<text x="416.90" y="221.75" font-size="5.2" text-anchor="end" fill="#222" stroke="#222" stroke-width="0.05"><tspan>g__</tspan><tspan font-style="italic">Treponema</tspan></text>
<line x1="417.80" y1="219.55" x2="419.70" y2="219.55" stroke="#444" stroke-width="0.4" />
<text x="416.90" y="231.40" font-size="5.2" text-anchor="end" fill="#222" stroke="#222" stroke-width="0.05"><tspan>g__</tspan><tspan font-style="italic">Paujensenia</tspan></text>
<line x1="417.80" y1="229.20" x2="419.70" y2="229.20" stroke="#444" stroke-width="0.4" />
<text x="416.90" y="236.92" font-size="5.2" text-anchor="end" fill="#222" stroke="#222" stroke-width="0.05"><tspan>g__</tspan><tspan font-style="italic">Citrobacter</tspan></text>
<line x1="417.80" y1="234.72" x2="419.70" y2="234.72" stroke="#444" stroke-width="0.4" />
<text x="416.90" y="242.44" font-size="5.2" text-anchor="end" fill="#222" stroke="#222" stroke-width="0.05"><tspan>g__</tspan><tspan font-style="italic">Escherichia</tspan></text>
<line x1="417.80" y1="240.24" x2="419.70" y2="240.24" stroke="#444" stroke-width="0.4" />
<text x="416.90" y="247.96" font-size="5.2" text-anchor="end" fill="#222" stroke="#222" stroke-width="0.05"><tspan>s__</tspan><tspan font-style="italic">Escherichia albertii</tspan></text>
<line x1="417.80" y1="245.76" x2="419.70" y2="245.76" stroke="#444" stroke-width="0.4" />
<text x="416.90" y="253.48" font-size="5.2" text-anchor="end" fill="#222" stroke="#222" stroke-width="0.05"><tspan>s__</tspan><tspan font-style="italic">Escherichia coli</tspan></text>
<line x1="417.80" y1="251.28" x2="419.70" y2="251.28" stroke="#444" stroke-width="0.4" />
<text x="416.90" y="259.00" font-size="5.2" text-anchor="end" fill="#222" stroke="#222" stroke-width="0.05"><tspan>s__</tspan><tspan font-style="italic">Escherichia fergusonii</tspan></text>
<line x1="417.80" y1="256.80" x2="419.70" y2="256.80" stroke="#444" stroke-width="0.4" />
<text x="416.90" y="264.52" font-size="5.2" text-anchor="end" fill="#222" stroke="#222" stroke-width="0.05"><tspan>s__</tspan><tspan font-style="italic">Escherichia marmotae</tspan></text>
<line x1="417.80" y1="262.32" x2="419.70" y2="262.32" stroke="#444" stroke-width="0.4" />
<text x="416.90" y="270.04" font-size="5.2" text-anchor="end" fill="#222" stroke="#222" stroke-width="0.05"><tspan>s__</tspan><tspan font-style="italic">Escherichia</tspan><tspan> sp000208585</tspan></text>
<line x1="417.80" y1="267.84" x2="419.70" y2="267.84" stroke="#444" stroke-width="0.4" />
<text x="416.90" y="275.56" font-size="5.2" text-anchor="end" fill="#222" stroke="#222" stroke-width="0.05"><tspan>g__</tspan><tspan font-style="italic">Streptococcus</tspan></text>
<line x1="417.80" y1="273.36" x2="419.70" y2="273.36" stroke="#444" stroke-width="0.4" />
<rect x="419.70" y="76.90" width="39.90" height="145.90" fill="#fff" stroke="#555" stroke-width="0.5" />
<rect x="419.70" y="225.50" width="39.90" height="51.10" fill="#fff" stroke="#555" stroke-width="0.5" />
<rect x="435.60" y="82.40" width="12.70" height="1.90" fill="#a9aeae" />
<rect x="435.60" y="79.55" width="12.70" height="3.30" fill="#d23c48" stroke="#5a1c22" stroke-width="0.4" />
<path d="M450.20,79.85L450.20,82.35M451.28,80.47L449.12,81.72M451.28,81.72L449.12,80.47" stroke="#111" stroke-width="0.55" fill="none"/>
<rect x="435.60" y="87.93" width="14.00" height="1.90" fill="#a9aeae" />
<rect x="435.60" y="85.08" width="14.00" height="3.30" fill="#d23c48" stroke="#5a1c22" stroke-width="0.4" />
<path d="M451.50,85.38L451.50,87.88M452.58,86.00L450.42,87.25M452.58,87.25L450.42,86.00" stroke="#111" stroke-width="0.55" fill="none"/>
<rect x="435.60" y="93.46" width="11.00" height="1.90" fill="#a9aeae" />
<rect x="435.60" y="90.61" width="11.00" height="3.30" fill="#d23c48" stroke="#5a1c22" stroke-width="0.4" />
<path d="M448.50,90.91L448.50,93.41M449.58,91.53L447.42,92.78M449.58,92.78L447.42,91.53" stroke="#111" stroke-width="0.55" fill="none"/>
<rect x="435.60" y="98.99" width="20.00" height="1.90" fill="#a9aeae" />
<rect x="435.60" y="96.14" width="20.00" height="3.30" fill="#d23c48" stroke="#5a1c22" stroke-width="0.4" />
<path d="M457.50,96.44L457.50,98.94M458.58,97.06L456.42,98.31M458.58,98.31L456.42,97.06" stroke="#111" stroke-width="0.55" fill="none"/>
<rect x="435.60" y="104.52" width="13.70" height="1.90" fill="#a9aeae" />
<rect x="435.60" y="101.67" width="13.70" height="3.30" fill="#d23c48" stroke="#5a1c22" stroke-width="0.4" />
<path d="M451.20,101.97L451.20,104.47M452.28,102.59L450.12,103.84M452.28,103.84L450.12,102.59" stroke="#111" stroke-width="0.55" fill="none"/>
<rect x="435.60" y="110.05" width="7.00" height="1.90" fill="#a9aeae" />
<rect x="435.60" y="107.20" width="7.00" height="3.30" fill="#d23c48" stroke="#5a1c22" stroke-width="0.4" />
<path d="M444.50,107.50L444.50,110.00M445.58,108.12L443.42,109.38M445.58,109.38L443.42,108.12" stroke="#111" stroke-width="0.55" fill="none"/>
<rect x="435.60" y="115.58" width="12.70" height="1.90" fill="#a9aeae" />
<rect x="435.60" y="112.73" width="12.70" height="3.30" fill="#d23c48" stroke="#5a1c22" stroke-width="0.4" />
<path d="M450.20,113.03L450.20,115.53M451.28,113.65L449.12,114.90M451.28,114.90L449.12,113.65" stroke="#111" stroke-width="0.55" fill="none"/>
<rect x="435.60" y="121.11" width="8.40" height="1.90" fill="#a9aeae" />
<rect x="435.60" y="118.26" width="8.40" height="3.30" fill="#d23c48" stroke="#5a1c22" stroke-width="0.4" />
<path d="M445.90,118.56L445.90,121.06M446.98,119.18L444.82,120.43M446.98,120.43L444.82,119.18" stroke="#111" stroke-width="0.55" fill="none"/>
<rect x="435.60" y="126.64" width="19.60" height="1.90" fill="#a9aeae" />
<rect x="435.60" y="123.79" width="19.60" height="3.30" fill="#d23c48" stroke="#5a1c22" stroke-width="0.4" />
<path d="M457.10,124.09L457.10,126.59M458.18,124.71L456.02,125.96M458.18,125.96L456.02,124.71" stroke="#111" stroke-width="0.55" fill="none"/>
<rect x="435.60" y="132.17" width="12.70" height="1.90" fill="#a9aeae" />
<rect x="435.60" y="129.32" width="12.70" height="3.30" fill="#d23c48" stroke="#5a1c22" stroke-width="0.4" />
<path d="M450.20,129.62L450.20,132.12M451.28,130.25L449.12,131.50M451.28,131.50L449.12,130.25" stroke="#111" stroke-width="0.55" fill="none"/>
<rect x="435.60" y="137.70" width="13.70" height="1.90" fill="#a9aeae" />
<rect x="435.60" y="134.85" width="13.70" height="3.30" fill="#d23c48" stroke="#5a1c22" stroke-width="0.4" />
<path d="M451.20,135.15L451.20,137.65M452.28,135.78L450.12,137.03M452.28,137.03L450.12,135.78" stroke="#111" stroke-width="0.55" fill="none"/>
<rect x="435.60" y="143.23" width="13.70" height="1.90" fill="#a9aeae" />
<rect x="435.60" y="140.38" width="13.70" height="3.30" fill="#d23c48" stroke="#5a1c22" stroke-width="0.4" />
<path d="M451.20,140.68L451.20,143.18M452.28,141.31L450.12,142.56M452.28,142.56L450.12,141.31" stroke="#111" stroke-width="0.55" fill="none"/>
<rect x="435.60" y="148.76" width="10.00" height="1.90" fill="#a9aeae" />
<rect x="435.60" y="145.91" width="10.00" height="3.30" fill="#d23c48" stroke="#5a1c22" stroke-width="0.4" />
<path d="M447.50,146.21L447.50,148.71M448.58,146.84L446.42,148.09M448.58,148.09L446.42,146.84" stroke="#111" stroke-width="0.55" fill="none"/>
<rect x="435.60" y="154.29" width="11.00" height="1.90" fill="#a9aeae" />
<rect x="435.60" y="151.44" width="11.00" height="3.30" fill="#d23c48" stroke="#5a1c22" stroke-width="0.4" />
<path d="M448.50,151.74L448.50,154.24M449.58,152.37L447.42,153.62M449.58,153.62L447.42,152.37" stroke="#111" stroke-width="0.55" fill="none"/>
<rect x="435.60" y="159.82" width="12.80" height="1.90" fill="#a9aeae" />
<rect x="435.60" y="156.97" width="12.80" height="3.30" fill="#d23c48" stroke="#5a1c22" stroke-width="0.4" />
<path d="M450.30,157.27L450.30,159.77M451.38,157.90L449.22,159.15M451.38,159.15L449.22,157.90" stroke="#111" stroke-width="0.55" fill="none"/>
<rect x="435.60" y="165.35" width="11.20" height="1.90" fill="#a9aeae" />
<rect x="435.60" y="162.50" width="11.20" height="3.30" fill="#d23c48" stroke="#5a1c22" stroke-width="0.4" />
<path d="M448.70,162.80L448.70,165.30M449.78,163.43L447.62,164.68M449.78,164.68L447.62,163.43" stroke="#111" stroke-width="0.55" fill="none"/>
<rect x="435.60" y="170.88" width="16.00" height="1.90" fill="#a9aeae" />
<rect x="435.60" y="168.03" width="16.00" height="3.30" fill="#d23c48" stroke="#5a1c22" stroke-width="0.4" />
<path d="M453.50,168.33L453.50,170.83M454.58,168.96L452.42,170.21M454.58,170.21L452.42,168.96" stroke="#111" stroke-width="0.55" fill="none"/>
<rect x="435.60" y="176.41" width="7.70" height="1.90" fill="#a9aeae" />
<rect x="435.60" y="173.56" width="7.70" height="3.30" fill="#d23c48" stroke="#5a1c22" stroke-width="0.4" />
<path d="M445.20,173.86L445.20,176.36M446.28,174.49L444.12,175.74M446.28,175.74L444.12,174.49" stroke="#111" stroke-width="0.55" fill="none"/>
<rect x="435.60" y="181.94" width="6.50" height="1.90" fill="#a9aeae" />
<rect x="435.60" y="179.09" width="6.50" height="3.30" fill="#d23c48" stroke="#5a1c22" stroke-width="0.4" />
<path d="M444.00,179.39L444.00,181.89M445.08,180.02L442.92,181.27M445.08,181.27L442.92,180.02" stroke="#111" stroke-width="0.55" fill="none"/>
<rect x="435.60" y="187.47" width="12.00" height="1.90" fill="#a9aeae" />
<rect x="435.60" y="184.62" width="12.00" height="3.30" fill="#d23c48" stroke="#5a1c22" stroke-width="0.4" />
<path d="M449.50,184.92L449.50,187.42M450.58,185.55L448.42,186.80M450.58,186.80L448.42,185.55" stroke="#111" stroke-width="0.55" fill="none"/>
<rect x="435.60" y="193.00" width="15.60" height="1.90" fill="#a9aeae" />
<rect x="435.60" y="190.15" width="15.60" height="3.30" fill="#d23c48" stroke="#5a1c22" stroke-width="0.4" />
<path d="M453.10,190.45L453.10,192.95M454.18,191.08L452.02,192.33M454.18,192.33L452.02,191.08" stroke="#111" stroke-width="0.55" fill="none"/>
<rect x="435.60" y="198.53" width="10.20" height="1.90" fill="#a9aeae" />
<rect x="435.60" y="195.68" width="10.20" height="3.30" fill="#d23c48" stroke="#5a1c22" stroke-width="0.4" />
<path d="M447.70,195.98L447.70,198.48M448.78,196.61L446.62,197.86M448.78,197.86L446.62,196.61" stroke="#111" stroke-width="0.55" fill="none"/>
<rect x="435.60" y="204.06" width="6.80" height="1.90" fill="#a9aeae" />
<rect x="435.60" y="201.21" width="6.80" height="3.30" fill="#d23c48" stroke="#5a1c22" stroke-width="0.4" />
<path d="M444.30,201.51L444.30,204.01M445.38,202.14L443.22,203.39M445.38,203.39L443.22,202.14" stroke="#111" stroke-width="0.55" fill="none"/>
<rect x="435.60" y="209.59" width="18.20" height="1.90" fill="#a9aeae" />
<rect x="435.60" y="206.74" width="18.20" height="3.30" fill="#d23c48" stroke="#5a1c22" stroke-width="0.4" />
<path d="M455.70,207.04L455.70,209.54M456.78,207.67L454.62,208.92M456.78,208.92L454.62,207.67" stroke="#111" stroke-width="0.55" fill="none"/>
<rect x="435.60" y="215.12" width="12.00" height="1.90" fill="#a9aeae" />
<rect x="435.60" y="212.27" width="12.00" height="3.30" fill="#d23c48" stroke="#5a1c22" stroke-width="0.4" />
<path d="M449.50,212.57L449.50,215.07M450.58,213.19L448.42,214.44M450.58,214.44L448.42,213.19" stroke="#111" stroke-width="0.55" fill="none"/>
<rect x="435.60" y="220.65" width="9.20" height="1.90" fill="#a9aeae" />
<rect x="435.60" y="217.80" width="9.20" height="3.30" fill="#d23c48" stroke="#5a1c22" stroke-width="0.4" />
<path d="M446.70,218.10L446.70,220.60M447.78,218.73L445.62,219.98M447.78,219.98L445.62,218.73" stroke="#111" stroke-width="0.55" fill="none"/>
<rect x="429.80" y="230.30" width="5.80" height="1.90" fill="#a9aeae" />
<rect x="429.80" y="227.45" width="5.80" height="3.30" fill="#3d88a8" stroke="#333" stroke-width="0.4" />
<path d="M427.90,227.75L427.90,230.25M428.98,228.38L426.82,229.62M428.98,229.62L426.82,228.38" stroke="#111" stroke-width="0.55" fill="none"/>
<rect x="428.10" y="235.82" width="7.50" height="1.90" fill="#a9aeae" />
<rect x="428.10" y="232.97" width="7.50" height="3.30" fill="#3d88a8" stroke="#333" stroke-width="0.4" />
<path d="M426.20,233.27L426.20,235.77M427.28,233.90L425.12,235.15M427.28,235.15L425.12,233.90" stroke="#111" stroke-width="0.55" fill="none"/>
<rect x="425.40" y="241.34" width="10.20" height="1.90" fill="#a9aeae" />
<rect x="425.40" y="238.49" width="10.20" height="3.30" fill="#3d88a8" stroke="#333" stroke-width="0.4" />
<path d="M423.50,238.79L423.50,241.29M424.58,239.41L422.42,240.66M424.58,240.66L422.42,239.41" stroke="#111" stroke-width="0.55" fill="none"/>
<rect x="424.60" y="246.86" width="11.00" height="1.90" fill="#a9aeae" />
<rect x="424.60" y="244.01" width="11.00" height="3.30" fill="#3d88a8" stroke="#333" stroke-width="0.4" />
<path d="M422.70,244.31L422.70,246.81M423.78,244.94L421.62,246.19M423.78,246.19L421.62,244.94" stroke="#111" stroke-width="0.55" fill="none"/>
<rect x="426.70" y="252.38" width="8.90" height="1.90" fill="#a9aeae" />
<rect x="426.70" y="249.53" width="8.90" height="3.30" fill="#3d88a8" stroke="#333" stroke-width="0.4" />
<path d="M424.80,249.83L424.80,252.33M425.88,250.45L423.72,251.70M425.88,251.70L423.72,250.45" stroke="#111" stroke-width="0.55" fill="none"/>
<rect x="426.70" y="257.90" width="8.90" height="1.90" fill="#a9aeae" />
<rect x="426.70" y="255.05" width="8.90" height="3.30" fill="#3d88a8" stroke="#333" stroke-width="0.4" />
<path d="M424.80,255.35L424.80,257.85M425.88,255.98L423.72,257.23M425.88,257.23L423.72,255.98" stroke="#111" stroke-width="0.55" fill="none"/>
<rect x="423.50" y="263.42" width="12.10" height="1.90" fill="#a9aeae" />
<rect x="423.50" y="260.57" width="12.10" height="3.30" fill="#3d88a8" stroke="#333" stroke-width="0.4" />
<path d="M421.60,260.87L421.60,263.37M422.68,261.50L420.52,262.75M422.68,262.75L420.52,261.50" stroke="#111" stroke-width="0.55" fill="none"/>
<rect x="425.40" y="268.94" width="10.20" height="1.90" fill="#a9aeae" />
<rect x="425.40" y="266.09" width="10.20" height="3.30" fill="#3d88a8" stroke="#333" stroke-width="0.4" />
<path d="M423.50,266.39L423.50,268.89M424.58,267.01L422.42,268.26M424.58,268.26L422.42,267.01" stroke="#111" stroke-width="0.55" fill="none"/>
<rect x="430.10" y="274.46" width="5.50" height="1.90" fill="#a9aeae" />
<rect x="430.10" y="271.61" width="5.50" height="3.30" fill="#3d88a8" stroke="#333" stroke-width="0.4" />
<path d="M428.20,271.91L428.20,274.41M429.28,272.54L427.12,273.79M429.28,273.79L427.12,272.54" stroke="#111" stroke-width="0.55" fill="none"/>
<line x1="435.60" y1="76.90" x2="435.60" y2="222.80" stroke="#999" stroke-width="0.7" />
<line x1="435.60" y1="225.50" x2="435.60" y2="276.60" stroke="#999" stroke-width="0.7" />
<rect x="493.60" y="76.90" width="39.80" height="145.90" fill="#fff" stroke="#555" stroke-width="0.5" />
<rect x="493.60" y="225.50" width="39.80" height="51.10" fill="#fff" stroke="#555" stroke-width="0.5" />
<rect x="498.50" y="79.55" width="16.00" height="3.30" fill="#bfbfbf" stroke="#333" stroke-width="0.4" />
<rect x="498.50" y="85.08" width="17.80" height="3.30" fill="#bfbfbf" stroke="#333" stroke-width="0.4" />
<rect x="498.50" y="93.46" width="14.00" height="1.90" fill="#a9aeae" />
<rect x="498.50" y="90.61" width="14.00" height="3.30" fill="#d23c48" stroke="#5a1c22" stroke-width="0.4" />
<text x="514.40" y="93.86" font-size="3.8" text-anchor="middle" fill="#333"  stroke="#333" stroke-width="0.05">#</text>
<rect x="498.50" y="96.14" width="13.00" height="3.30" fill="#bfbfbf" stroke="#333" stroke-width="0.4" />
<rect x="498.50" y="101.67" width="16.00" height="3.30" fill="#bfbfbf" stroke="#333" stroke-width="0.4" />
<rect x="498.50" y="110.05" width="16.00" height="1.90" fill="#a9aeae" />
<rect x="498.50" y="107.20" width="16.00" height="3.30" fill="#d23c48" stroke="#5a1c22" stroke-width="0.4" />
<text x="516.40" y="110.45" font-size="3.8" text-anchor="middle" fill="#333"  stroke="#333" stroke-width="0.05">#</text>
<rect x="498.50" y="115.58" width="24.30" height="1.90" fill="#a9aeae" />
<rect x="498.50" y="112.73" width="24.30" height="3.30" fill="#d23c48" stroke="#5a1c22" stroke-width="0.4" />
<text x="524.70" y="115.98" font-size="3.8" text-anchor="middle" fill="#333"  stroke="#333" stroke-width="0.05">#</text>
<rect x="498.50" y="121.11" width="13.70" height="1.90" fill="#a9aeae" />
<rect x="498.50" y="118.26" width="13.70" height="3.30" fill="#d23c48" stroke="#5a1c22" stroke-width="0.4" />
<text x="514.10" y="121.51" font-size="3.8" text-anchor="middle" fill="#333"  stroke="#333" stroke-width="0.05">#</text>
<rect x="498.50" y="126.64" width="26.20" height="1.90" fill="#a9aeae" />
<rect x="498.50" y="123.79" width="26.20" height="3.30" fill="#d23c48" stroke="#5a1c22" stroke-width="0.4" />
<text x="526.60" y="127.04" font-size="3.8" text-anchor="middle" fill="#333"  stroke="#333" stroke-width="0.05">#</text>
<rect x="498.50" y="132.17" width="26.50" height="1.90" fill="#a9aeae" />
<rect x="498.50" y="129.32" width="26.50" height="3.30" fill="#d23c48" stroke="#5a1c22" stroke-width="0.4" />
<text x="526.90" y="132.57" font-size="3.8" text-anchor="middle" fill="#333"  stroke="#333" stroke-width="0.05">#</text>
<rect x="498.50" y="137.70" width="29.20" height="1.90" fill="#a9aeae" />
<rect x="498.50" y="134.85" width="29.20" height="3.30" fill="#d23c48" stroke="#5a1c22" stroke-width="0.4" />
<text x="529.60" y="138.10" font-size="3.8" text-anchor="middle" fill="#333"  stroke="#333" stroke-width="0.05">#</text>
<rect x="498.50" y="143.23" width="31.60" height="1.90" fill="#a9aeae" />
<rect x="498.50" y="140.38" width="31.60" height="3.30" fill="#d23c48" stroke="#5a1c22" stroke-width="0.4" />
<text x="532.00" y="143.63" font-size="3.8" text-anchor="middle" fill="#333"  stroke="#333" stroke-width="0.05">#</text>
<rect x="498.50" y="145.91" width="16.00" height="3.30" fill="#bfbfbf" stroke="#333" stroke-width="0.4" />
<rect x="498.50" y="151.44" width="9.00" height="3.30" fill="#bfbfbf" stroke="#333" stroke-width="0.4" />
<rect x="498.50" y="156.97" width="17.00" height="3.30" fill="#bfbfbf" stroke="#333" stroke-width="0.4" />
<rect x="498.50" y="162.50" width="7.00" height="3.30" fill="#bfbfbf" stroke="#333" stroke-width="0.4" />
<rect x="498.50" y="168.03" width="9.00" height="3.30" fill="#bfbfbf" stroke="#333" stroke-width="0.4" />
<rect x="498.50" y="173.56" width="4.40" height="3.30" fill="#bfbfbf" stroke="#333" stroke-width="0.4" />
<rect x="498.50" y="179.09" width="5.20" height="3.30" fill="#bfbfbf" stroke="#333" stroke-width="0.4" />
<rect x="498.50" y="187.47" width="13.50" height="1.90" fill="#a9aeae" />
<rect x="498.50" y="184.62" width="13.50" height="3.30" fill="#d23c48" stroke="#5a1c22" stroke-width="0.4" />
<text x="513.90" y="187.87" font-size="3.8" text-anchor="middle" fill="#333"  stroke="#333" stroke-width="0.05">#</text>
<rect x="498.50" y="193.00" width="12.30" height="1.90" fill="#a9aeae" />
<rect x="498.50" y="190.15" width="12.30" height="3.30" fill="#d23c48" stroke="#5a1c22" stroke-width="0.4" />
<text x="512.70" y="193.40" font-size="3.8" text-anchor="middle" fill="#333"  stroke="#333" stroke-width="0.05">#</text>
<rect x="498.50" y="198.53" width="11.30" height="1.90" fill="#a9aeae" />
<rect x="498.50" y="195.68" width="11.30" height="3.30" fill="#d23c48" stroke="#5a1c22" stroke-width="0.4" />
<text x="511.70" y="198.93" font-size="3.8" text-anchor="middle" fill="#333"  stroke="#333" stroke-width="0.05">#</text>
<rect x="498.50" y="201.21" width="5.00" height="3.30" fill="#bfbfbf" stroke="#333" stroke-width="0.4" />
<rect x="498.50" y="209.59" width="18.00" height="1.90" fill="#a9aeae" />
<rect x="498.50" y="206.74" width="18.00" height="3.30" fill="#d23c48" stroke="#5a1c22" stroke-width="0.4" />
<text x="518.40" y="209.99" font-size="3.8" text-anchor="middle" fill="#333"  stroke="#333" stroke-width="0.05">#</text>
<rect x="498.50" y="215.12" width="19.50" height="1.90" fill="#a9aeae" />
<rect x="498.50" y="212.27" width="19.50" height="3.30" fill="#d23c48" stroke="#5a1c22" stroke-width="0.4" />
<text x="519.90" y="215.52" font-size="3.8" text-anchor="middle" fill="#333"  stroke="#333" stroke-width="0.05">#</text>
<rect x="498.50" y="220.65" width="25.00" height="1.90" fill="#a9aeae" />
<rect x="498.50" y="217.80" width="25.00" height="3.30" fill="#d23c48" stroke="#5a1c22" stroke-width="0.4" />
<text x="525.40" y="221.05" font-size="3.8" text-anchor="middle" fill="#333"  stroke="#333" stroke-width="0.05">#</text>
<rect x="498.50" y="227.45" width="7.50" height="3.30" fill="#bfbfbf" stroke="#333" stroke-width="0.4" />
<rect x="498.50" y="232.97" width="16.00" height="3.30" fill="#bfbfbf" stroke="#333" stroke-width="0.4" />
<rect x="497.50" y="238.49" width="1.00" height="3.30" fill="#bfbfbf" stroke="#333" stroke-width="0.4" />
<rect x="498.50" y="244.01" width="4.50" height="3.30" fill="#bfbfbf" stroke="#333" stroke-width="0.4" />
<rect x="498.50" y="249.53" width="0.60" height="3.30" fill="#bfbfbf" stroke="#333" stroke-width="0.4" />
<rect x="498.50" y="255.05" width="0.40" height="3.30" fill="#bfbfbf" stroke="#333" stroke-width="0.4" />
<rect x="498.50" y="260.57" width="14.00" height="3.30" fill="#bfbfbf" stroke="#333" stroke-width="0.4" />
<rect x="498.50" y="266.09" width="3.00" height="3.30" fill="#bfbfbf" stroke="#333" stroke-width="0.4" />
<rect x="497.50" y="271.61" width="1.00" height="3.30" fill="#bfbfbf" stroke="#333" stroke-width="0.4" />
<line x1="498.50" y1="76.90" x2="498.50" y2="222.80" stroke="#111" stroke-width="0.7" />
<line x1="498.50" y1="225.50" x2="498.50" y2="276.60" stroke="#111" stroke-width="0.7" />
<rect x="568.50" y="76.90" width="40.10" height="145.90" fill="#fff" stroke="#555" stroke-width="0.5" />
<rect x="568.50" y="225.50" width="40.10" height="51.10" fill="#fff" stroke="#555" stroke-width="0.5" />
<rect x="577.50" y="79.55" width="8.30" height="3.30" fill="#bfbfbf" stroke="#333" stroke-width="0.4" />
<rect x="577.50" y="85.08" width="8.80" height="3.30" fill="#bfbfbf" stroke="#333" stroke-width="0.4" />
<rect x="577.50" y="93.46" width="13.20" height="1.90" fill="#a9aeae" />
<rect x="577.50" y="90.61" width="13.20" height="3.30" fill="#d23c48" stroke="#5a1c22" stroke-width="0.4" />
<text x="592.60" y="93.86" font-size="3.8" text-anchor="middle" fill="#333"  stroke="#333" stroke-width="0.05">#</text>
<rect x="577.50" y="96.14" width="10.20" height="3.30" fill="#bfbfbf" stroke="#333" stroke-width="0.4" />
<rect x="577.50" y="101.67" width="8.30" height="3.30" fill="#bfbfbf" stroke="#333" stroke-width="0.4" />
<rect x="576.00" y="107.20" width="1.50" height="3.30" fill="#bfbfbf" stroke="#333" stroke-width="0.4" />
<rect x="577.50" y="112.73" width="2.90" height="3.30" fill="#bfbfbf" stroke="#333" stroke-width="0.4" />
<rect x="577.50" y="118.26" width="7.30" height="3.30" fill="#bfbfbf" stroke="#333" stroke-width="0.4" />
<rect x="577.50" y="126.64" width="17.20" height="1.90" fill="#a9aeae" />
<rect x="577.50" y="123.79" width="17.20" height="3.30" fill="#d23c48" stroke="#5a1c22" stroke-width="0.4" />
<text x="596.60" y="127.04" font-size="3.8" text-anchor="middle" fill="#333"  stroke="#333" stroke-width="0.05">#</text>
<rect x="577.50" y="129.32" width="13.20" height="3.30" fill="#bfbfbf" stroke="#333" stroke-width="0.4" />
<rect x="577.50" y="137.70" width="19.70" height="1.90" fill="#a9aeae" />
<rect x="577.50" y="134.85" width="19.70" height="3.30" fill="#d23c48" stroke="#5a1c22" stroke-width="0.4" />
<text x="599.10" y="138.10" font-size="3.8" text-anchor="middle" fill="#333"  stroke="#333" stroke-width="0.05">#</text>
<rect x="577.50" y="140.38" width="17.10" height="3.30" fill="#bfbfbf" stroke="#333" stroke-width="0.4" />
<rect x="577.50" y="145.91" width="3.10" height="3.30" fill="#bfbfbf" stroke="#333" stroke-width="0.4" />
<rect x="577.50" y="151.44" width="3.10" height="3.30" fill="#bfbfbf" stroke="#333" stroke-width="0.4" />
<rect x="577.50" y="156.97" width="5.90" height="3.30" fill="#bfbfbf" stroke="#333" stroke-width="0.4" />
<rect x="577.50" y="165.35" width="28.00" height="1.90" fill="#a9aeae" />
<rect x="577.50" y="162.50" width="28.00" height="3.30" fill="#d23c48" stroke="#5a1c22" stroke-width="0.4" />
<text x="607.40" y="165.75" font-size="3.8" text-anchor="middle" fill="#333"  stroke="#333" stroke-width="0.05">#</text>
<rect x="577.50" y="168.03" width="12.00" height="3.30" fill="#bfbfbf" stroke="#333" stroke-width="0.4" />
<rect x="577.50" y="173.56" width="1.00" height="3.30" fill="#bfbfbf" stroke="#333" stroke-width="0.4" />
<rect x="575.50" y="179.09" width="2.00" height="3.30" fill="#bfbfbf" stroke="#333" stroke-width="0.4" />
<rect x="577.50" y="184.62" width="3.40" height="3.30" fill="#bfbfbf" stroke="#333" stroke-width="0.4" />
<rect x="577.50" y="190.15" width="2.20" height="3.30" fill="#bfbfbf" stroke="#333" stroke-width="0.4" />
<rect x="577.50" y="195.68" width="10.00" height="3.30" fill="#bfbfbf" stroke="#333" stroke-width="0.4" />
<rect x="577.50" y="204.06" width="12.00" height="1.90" fill="#a9aeae" />
<rect x="577.50" y="201.21" width="12.00" height="3.30" fill="#d23c48" stroke="#5a1c22" stroke-width="0.4" />
<text x="591.40" y="204.46" font-size="3.8" text-anchor="middle" fill="#333"  stroke="#333" stroke-width="0.05">#</text>
<rect x="577.50" y="206.74" width="6.00" height="3.30" fill="#bfbfbf" stroke="#333" stroke-width="0.4" />
<rect x="577.50" y="212.27" width="10.00" height="3.30" fill="#bfbfbf" stroke="#333" stroke-width="0.4" />
<rect x="577.50" y="217.80" width="2.60" height="3.30" fill="#bfbfbf" stroke="#333" stroke-width="0.4" />
<rect x="577.50" y="232.97" width="7.20" height="3.30" fill="#bfbfbf" stroke="#333" stroke-width="0.4" />
<rect x="577.50" y="238.49" width="4.30" height="3.30" fill="#bfbfbf" stroke="#333" stroke-width="0.4" />
<rect x="577.50" y="244.01" width="9.40" height="3.30" fill="#bfbfbf" stroke="#333" stroke-width="0.4" />
<rect x="577.50" y="249.53" width="7.20" height="3.30" fill="#bfbfbf" stroke="#333" stroke-width="0.4" />
<rect x="577.50" y="255.05" width="9.20" height="3.30" fill="#bfbfbf" stroke="#333" stroke-width="0.4" />
<rect x="577.50" y="260.57" width="14.50" height="3.30" fill="#bfbfbf" stroke="#333" stroke-width="0.4" />
<rect x="577.50" y="266.09" width="11.20" height="3.30" fill="#bfbfbf" stroke="#333" stroke-width="0.4" />
<rect x="572.20" y="271.61" width="5.30" height="3.30" fill="#bfbfbf" stroke="#333" stroke-width="0.4" />
<line x1="577.50" y1="76.90" x2="577.50" y2="222.80" stroke="#111" stroke-width="0.7" />
<line x1="577.50" y1="225.50" x2="577.50" y2="276.60" stroke="#111" stroke-width="0.7" />
<line x1="425.00" y1="276.60" x2="425.00" y2="278.00" stroke="#222" stroke-width="0.4" />
<text x="425.00" y="282.60" font-size="5.1" text-anchor="middle" fill="#222"  stroke="#222" stroke-width="0.05">−1</text>
<line x1="435.60" y1="276.60" x2="435.60" y2="278.00" stroke="#222" stroke-width="0.4" />
<text x="435.60" y="282.60" font-size="5.1" text-anchor="middle" fill="#222"  stroke="#222" stroke-width="0.05">0</text>
<line x1="446.20" y1="276.60" x2="446.20" y2="278.00" stroke="#222" stroke-width="0.4" />
<text x="446.20" y="282.60" font-size="5.1" text-anchor="middle" fill="#222"  stroke="#222" stroke-width="0.05">1</text>
<line x1="456.80" y1="276.60" x2="456.80" y2="278.00" stroke="#222" stroke-width="0.4" />
<text x="456.80" y="282.60" font-size="5.1" text-anchor="middle" fill="#222"  stroke="#222" stroke-width="0.05">2</text>
<line x1="498.50" y1="276.60" x2="498.50" y2="278.00" stroke="#222" stroke-width="0.4" />
<text x="498.50" y="282.60" font-size="5.1" text-anchor="middle" fill="#222"  stroke="#222" stroke-width="0.05">0</text>
<line x1="506.80" y1="276.60" x2="506.80" y2="278.00" stroke="#222" stroke-width="0.4" />
<text x="506.80" y="282.60" font-size="5.1" text-anchor="middle" fill="#222"  stroke="#222" stroke-width="0.05">0.5</text>
<line x1="515.10" y1="276.60" x2="515.10" y2="278.00" stroke="#222" stroke-width="0.4" />
<text x="515.10" y="282.60" font-size="5.1" text-anchor="middle" fill="#222"  stroke="#222" stroke-width="0.05">1</text>
<line x1="523.40" y1="276.60" x2="523.40" y2="278.00" stroke="#222" stroke-width="0.4" />
<text x="523.40" y="282.60" font-size="5.1" text-anchor="middle" fill="#222"  stroke="#222" stroke-width="0.05">1.5</text>
<line x1="531.70" y1="276.60" x2="531.70" y2="278.00" stroke="#222" stroke-width="0.4" />
<text x="531.70" y="282.60" font-size="5.1" text-anchor="middle" fill="#222"  stroke="#222" stroke-width="0.05">2</text>
<line x1="569.20" y1="276.60" x2="569.20" y2="278.00" stroke="#222" stroke-width="0.4" />
<text x="569.20" y="282.60" font-size="5.1" text-anchor="middle" fill="#222"  stroke="#222" stroke-width="0.05">−0.5</text>
<line x1="577.50" y1="276.60" x2="577.50" y2="278.00" stroke="#222" stroke-width="0.4" />
<text x="577.50" y="282.60" font-size="5.1" text-anchor="middle" fill="#222"  stroke="#222" stroke-width="0.05">0</text>
<line x1="585.80" y1="276.60" x2="585.80" y2="278.00" stroke="#222" stroke-width="0.4" />
<text x="585.80" y="282.60" font-size="5.1" text-anchor="middle" fill="#222"  stroke="#222" stroke-width="0.05">0.5</text>
<line x1="594.10" y1="276.60" x2="594.10" y2="278.00" stroke="#222" stroke-width="0.4" />
<text x="594.10" y="282.60" font-size="5.1" text-anchor="middle" fill="#222"  stroke="#222" stroke-width="0.05">1</text>
<line x1="602.40" y1="276.60" x2="602.40" y2="278.00" stroke="#222" stroke-width="0.4" />
<text x="602.40" y="282.60" font-size="5.1" text-anchor="middle" fill="#222"  stroke="#222" stroke-width="0.05">1.5</text>
<line x1="610.70" y1="276.60" x2="610.70" y2="278.00" stroke="#222" stroke-width="0.4" />
<text x="610.70" y="282.60" font-size="5.1" text-anchor="middle" fill="#222"  stroke="#222" stroke-width="0.05">2</text>
<text x="439.65" y="288.60" font-size="4.6" text-anchor="middle" fill="#222"  stroke="#222" stroke-width="0.05">Estimate</text>
<text x="513.50" y="288.60" font-size="4.6" text-anchor="middle" fill="#222"  stroke="#222" stroke-width="0.05">Estimate</text>
<text x="588.55" y="288.60" font-size="4.6" text-anchor="middle" fill="#222"  stroke="#222" stroke-width="0.05">Estimate</text>
<text x="439.65" y="75.00" font-size="5.95" text-anchor="middle" fill="#222"  stroke="#222" stroke-width="0.05">nHM vs. HM</text>
<text x="513.50" y="75.00" font-size="5.95" text-anchor="middle" fill="#222"  stroke="#222" stroke-width="0.05">nHM vs. HM</text>
<text x="588.55" y="75.00" font-size="5.95" text-anchor="middle" fill="#222"  stroke="#222" stroke-width="0.05">nHM vs. HM</text>
<rect x="464.20" y="76.90" width="16.80" height="5.93" fill="#fbbd89" />
<polygon points="472.60,77.37 473.02,78.38 474.12,78.47 473.28,79.19 473.54,80.26 472.60,79.69 471.66,80.26 471.92,79.19 471.08,78.47 472.18,78.38" fill="#111"/>
<rect x="464.20" y="82.43" width="16.80" height="5.93" fill="#fbbd89" />
<polygon points="472.60,82.90 473.02,83.91 474.12,84.00 473.28,84.72 473.54,85.79 472.60,85.22 471.66,85.79 471.92,84.72 471.08,84.00 472.18,83.91" fill="#111"/>
<rect x="464.20" y="87.96" width="16.80" height="5.93" fill="#fbbd89" />
<polygon points="472.60,88.43 473.02,89.44 474.12,89.53 473.28,90.25 473.54,91.32 472.60,90.75 471.66,91.32 471.92,90.25 471.08,89.53 472.18,89.44" fill="#111"/>
<rect x="464.20" y="93.49" width="16.80" height="5.93" fill="#f7a560" />
<polygon points="472.60,93.96 473.02,94.97 474.12,95.06 473.28,95.78 473.54,96.85 472.60,96.28 471.66,96.85 471.92,95.78 471.08,95.06 472.18,94.97" fill="#111"/>
<rect x="464.20" y="99.02" width="16.80" height="5.93" fill="#fab47a" />
<polygon points="472.60,99.49 473.02,100.50 474.12,100.59 473.28,101.31 473.54,102.38 472.60,101.81 471.66,102.38 471.92,101.31 471.08,100.59 472.18,100.50" fill="#111"/>
<rect x="464.20" y="104.55" width="16.80" height="5.93" fill="#fdd5b3" />
<rect x="464.20" y="110.08" width="16.80" height="5.93" fill="#fdd5b3" />
<rect x="464.20" y="115.61" width="16.80" height="5.93" fill="#fdd5b3" />
<rect x="464.20" y="121.14" width="16.80" height="5.93" fill="#f9ac6c" />
<polygon points="472.60,121.61 473.02,122.62 474.12,122.71 473.28,123.43 473.54,124.50 472.60,123.93 471.66,124.50 471.92,123.43 471.08,122.71 472.18,122.62" fill="#111"/>
<rect x="464.20" y="126.67" width="16.80" height="5.93" fill="#fcca9f" />
<rect x="464.20" y="132.20" width="16.80" height="5.93" fill="#fcca9f" />
<rect x="464.20" y="137.73" width="16.80" height="5.93" fill="#fcca9f" />
<rect x="464.20" y="143.26" width="16.80" height="5.93" fill="#fdd9bc" />
<rect x="464.20" y="148.79" width="16.80" height="5.93" fill="#fde3cf" />
<rect x="464.20" y="154.32" width="16.80" height="5.93" fill="#fdd0ac" />
<rect x="464.20" y="159.85" width="16.80" height="5.93" fill="#fbbb88" />
<polygon points="472.60,160.32 473.02,161.33 474.12,161.42 473.28,162.14 473.54,163.21 472.60,162.64 471.66,163.21 471.92,162.14 471.08,161.42 472.18,161.33" fill="#111"/>
<rect x="464.20" y="165.38" width="16.80" height="5.93" fill="#fbba85" />
<polygon points="472.60,165.84 473.02,166.86 474.12,166.95 473.28,167.67 473.54,168.74 472.60,168.16 471.66,168.74 471.92,167.67 471.08,166.95 472.18,166.86" fill="#111"/>
<rect x="464.20" y="170.91" width="16.80" height="5.93" fill="#fdd0ab" />
<rect x="464.20" y="176.44" width="16.80" height="5.93" fill="#fdd0ab" />
<rect x="464.20" y="181.97" width="16.80" height="5.93" fill="#fcca9d" />
<polygon points="472.60,182.44 473.02,183.45 474.12,183.54 473.28,184.26 473.54,185.33 472.60,184.76 471.66,185.33 471.92,184.26 471.08,183.54 472.18,183.45" fill="#111"/>
<rect x="464.20" y="187.50" width="16.80" height="5.93" fill="#fccba0" />
<rect x="464.20" y="193.03" width="16.80" height="5.93" fill="#f9b273" />
<polygon points="472.60,193.50 473.02,194.51 474.12,194.60 473.28,195.32 473.54,196.39 472.60,195.82 471.66,196.39 471.92,195.32 471.08,194.60 472.18,194.51" fill="#111"/>
<rect x="464.20" y="198.56" width="16.80" height="5.93" fill="#fcc596" />
<polygon points="472.60,199.03 473.02,200.04 474.12,200.13 473.28,200.85 473.54,201.92 472.60,201.34 471.66,201.92 471.92,200.85 471.08,200.13 472.18,200.04" fill="#111"/>
<rect x="464.20" y="204.09" width="16.80" height="5.93" fill="#f7a35d" />
<polygon points="472.60,204.56 473.02,205.57 474.12,205.66 473.28,206.38 473.54,207.45 472.60,206.88 471.66,207.45 471.92,206.38 471.08,205.66 472.18,205.57" fill="#111"/>
<rect x="464.20" y="209.62" width="16.80" height="5.93" fill="#fab77d" />
<polygon points="472.60,210.09 473.02,211.10 474.12,211.19 473.28,211.91 473.54,212.98 472.60,212.41 471.66,212.98 471.92,211.91 471.08,211.19 472.18,211.10" fill="#111"/>
<rect x="464.20" y="215.15" width="16.80" height="7.65" fill="#fcc89a" />
<rect x="464.20" y="225.50" width="16.80" height="6.08" fill="#d6eae6" />
<rect x="464.20" y="231.18" width="16.80" height="6.08" fill="#d6eae6" />
<rect x="464.20" y="236.86" width="16.80" height="6.08" fill="#d6eae6" />
<rect x="464.20" y="242.53" width="16.80" height="6.08" fill="#d6eae6" />
<rect x="464.20" y="248.21" width="16.80" height="6.08" fill="#d6eae6" />
<rect x="464.20" y="253.89" width="16.80" height="6.08" fill="#d6eae6" />
<rect x="464.20" y="259.57" width="16.80" height="6.08" fill="#d6eae6" />
<rect x="464.20" y="265.24" width="16.80" height="6.08" fill="#d6eae6" />
<rect x="464.20" y="270.92" width="16.80" height="5.68" fill="#d6eae6" />
<rect x="464.20" y="76.90" width="16.80" height="145.90" fill="none" stroke="#999" stroke-width="0.5" />
<rect x="464.20" y="225.50" width="16.80" height="51.10" fill="none" stroke="#999" stroke-width="0.5" />
<text x="472.60" y="75.00" font-size="6.2" text-anchor="middle" fill="#222"  stroke="#222" stroke-width="0.05">SNV</text>
<text x="474.60" y="290.80" font-size="5.7" fill="#222" transform="rotate(-90 474.60 290.80)"  stroke="#222" stroke-width="0.05">SNV</text>
<rect x="537.20" y="76.90" width="17.30" height="5.93" fill="#fdd9bd" />
<rect x="537.20" y="82.43" width="17.30" height="5.93" fill="#fdd9bd" />
<rect x="537.20" y="87.96" width="17.30" height="5.93" fill="#fdd5b5" />
<rect x="537.20" y="93.49" width="17.30" height="5.93" fill="#fdd5b5" />
<rect x="537.20" y="99.02" width="17.30" height="5.93" fill="#fde3cf" />
<rect x="537.20" y="104.55" width="17.30" height="5.93" fill="#fdd5b5" />
<rect x="537.20" y="110.08" width="17.30" height="5.93" fill="#fdd5b5" />
<rect x="537.20" y="115.61" width="17.30" height="5.93" fill="#f8ab6b" />
<text x="545.85" y="120.08" font-size="4.8" text-anchor="middle" fill="#222"  stroke="#222" stroke-width="0.05">#</text>
<rect x="537.20" y="121.14" width="17.30" height="5.93" fill="#f6a25c" />
<text x="545.85" y="125.61" font-size="4.8" text-anchor="middle" fill="#222"  stroke="#222" stroke-width="0.05">#</text>
<rect x="537.20" y="126.67" width="17.30" height="5.93" fill="#f8ab6b" />
<text x="545.85" y="131.13" font-size="4.8" text-anchor="middle" fill="#222"  stroke="#222" stroke-width="0.05">#</text>
<rect x="537.20" y="132.20" width="17.30" height="5.93" fill="#f6a25c" />
<text x="545.85" y="136.66" font-size="4.8" text-anchor="middle" fill="#222"  stroke="#222" stroke-width="0.05">#</text>
<rect x="537.20" y="137.73" width="17.30" height="5.93" fill="#f49a50" />
<text x="545.85" y="142.19" font-size="4.8" text-anchor="middle" fill="#222"  stroke="#222" stroke-width="0.05">#</text>
<rect x="537.20" y="143.26" width="17.30" height="5.93" fill="#fdd5b5" />
<rect x="537.20" y="148.79" width="17.30" height="5.93" fill="#fdd5b5" />
<rect x="537.20" y="154.32" width="17.30" height="5.93" fill="#fdd0ac" />
<rect x="537.20" y="159.85" width="17.30" height="5.93" fill="#fdeee3" />
<rect x="537.20" y="165.38" width="17.30" height="5.93" fill="#fdeee3" />
<rect x="537.20" y="170.91" width="17.30" height="5.93" fill="#fdeee3" />
<rect x="537.20" y="176.44" width="17.30" height="5.93" fill="#fde6d6" />
<rect x="537.20" y="181.97" width="17.30" height="5.93" fill="#fcc89c" />
<rect x="537.20" y="187.50" width="17.30" height="5.93" fill="#fdd9bd" />
<rect x="537.20" y="193.03" width="17.30" height="5.93" fill="#fde0c8" />
<rect x="537.20" y="198.56" width="17.30" height="5.93" fill="#cde3df" />
<rect x="537.20" y="204.09" width="17.30" height="5.93" fill="#eef5f3" />
<rect x="537.20" y="209.62" width="17.30" height="5.93" fill="#fdf3ec" />
<rect x="537.20" y="215.15" width="17.30" height="7.65" fill="#fdd0a8" />
<rect x="537.20" y="225.50" width="17.30" height="6.08" fill="#fde3d0" />
<rect x="537.20" y="231.18" width="17.30" height="6.08" fill="#fbb47a" />
<rect x="537.20" y="236.86" width="17.30" height="6.08" fill="#fdd5b7" />
<rect x="537.20" y="242.53" width="17.30" height="6.08" fill="#fde4d3" />
<rect x="537.20" y="248.21" width="17.30" height="6.08" fill="#fdd9be" />
<rect x="537.20" y="253.89" width="17.30" height="6.08" fill="#fde8da" />
<rect x="537.20" y="259.57" width="17.30" height="6.08" fill="#fbbd8a" />
<rect x="537.20" y="265.24" width="17.30" height="6.08" fill="#fddbc4" />
<rect x="537.20" y="270.92" width="17.30" height="5.68" fill="#fdeee6" />
<rect x="537.20" y="76.90" width="17.30" height="145.90" fill="none" stroke="#999" stroke-width="0.5" />
<rect x="537.20" y="225.50" width="17.30" height="51.10" fill="none" stroke="#999" stroke-width="0.5" />
<text x="545.85" y="75.00" font-size="6.2" text-anchor="middle" fill="#222"  stroke="#222" stroke-width="0.05">SNV</text>
<text x="547.85" y="290.80" font-size="5.7" fill="#222" transform="rotate(-90 547.85 290.80)"  stroke="#222" stroke-width="0.05">SNV</text>
<rect x="611.40" y="76.90" width="17.20" height="5.93" fill="#d5e8e4" />
<rect x="611.40" y="82.43" width="17.20" height="5.93" fill="#d5e8e4" />
<rect x="611.40" y="87.96" width="17.20" height="5.93" fill="#f8b27a" />
<text x="620.00" y="92.43" font-size="4.8" text-anchor="middle" fill="#222"  stroke="#222" stroke-width="0.05">#</text>
<rect x="611.40" y="93.49" width="17.20" height="5.93" fill="#fdf1e6" />
<rect x="611.40" y="99.02" width="17.20" height="5.93" fill="#ec8a2a" />
<text x="620.00" y="103.49" font-size="4.8" text-anchor="middle" fill="#222"  stroke="#222" stroke-width="0.05">#</text>
<rect x="611.40" y="104.55" width="17.20" height="5.93" fill="#fcd0aa" />
<rect x="611.40" y="110.08" width="17.20" height="5.93" fill="#fcd0aa" />
<rect x="611.40" y="115.61" width="17.20" height="5.93" fill="#f9b277" />
<text x="620.00" y="120.08" font-size="4.8" text-anchor="middle" fill="#222"  stroke="#222" stroke-width="0.05">#</text>
<rect x="611.40" y="121.14" width="17.20" height="5.93" fill="#f6a460" />
<text x="620.00" y="125.61" font-size="4.8" text-anchor="middle" fill="#222"  stroke="#222" stroke-width="0.05">#</text>
<rect x="611.40" y="126.67" width="17.20" height="5.93" fill="#f9b47c" />
<text x="620.00" y="131.13" font-size="4.8" text-anchor="middle" fill="#222"  stroke="#222" stroke-width="0.05">#</text>
<rect x="611.40" y="132.20" width="17.20" height="5.93" fill="#f6a560" />
<text x="620.00" y="136.66" font-size="4.8" text-anchor="middle" fill="#222"  stroke="#222" stroke-width="0.05">#</text>
<rect x="611.40" y="137.73" width="17.20" height="5.93" fill="#fcca9f" />
<rect x="611.40" y="143.26" width="17.20" height="5.93" fill="#f8ad6c" />
<text x="620.00" y="147.72" font-size="4.8" text-anchor="middle" fill="#222"  stroke="#222" stroke-width="0.05">#</text>
<rect x="611.40" y="148.79" width="17.20" height="5.93" fill="#fde0c8" />
<rect x="611.40" y="154.32" width="17.20" height="5.93" fill="#fcc89c" />
<rect x="611.40" y="159.85" width="17.20" height="5.93" fill="#fcd2ad" />
<rect x="611.40" y="165.38" width="17.20" height="5.93" fill="#fdd9bb" />
<rect x="611.40" y="170.91" width="17.20" height="5.93" fill="#fde6d4" />
<rect x="611.40" y="176.44" width="17.20" height="5.93" fill="#b8dcd5" />
<rect x="611.40" y="181.97" width="17.20" height="5.93" fill="#f9b47c" />
<rect x="611.40" y="187.50" width="17.20" height="5.93" fill="#fde4cf" />
<rect x="611.40" y="193.03" width="17.20" height="5.93" fill="#fdd5b5" />
<rect x="611.40" y="198.56" width="17.20" height="5.93" fill="#fccba2" />
<rect x="611.40" y="204.09" width="17.20" height="5.93" fill="#dcebe8" />
<rect x="611.40" y="209.62" width="17.20" height="5.93" fill="#fdf4ee" />
<rect x="611.40" y="215.15" width="17.20" height="7.65" fill="#fcd1ab" />
<rect x="611.40" y="225.50" width="17.20" height="6.08" fill="#cfe5e1" />
<rect x="611.40" y="231.18" width="17.20" height="6.08" fill="#e6f1ef" />
<rect x="611.40" y="236.86" width="17.20" height="6.08" fill="#e6f1ef" />
<rect x="611.40" y="242.53" width="17.20" height="6.08" fill="#e8f2f0" />
<rect x="611.40" y="248.21" width="17.20" height="6.08" fill="#e8f2f0" />
<rect x="611.40" y="253.89" width="17.20" height="6.08" fill="#e8f2f0" />
<rect x="611.40" y="259.57" width="17.20" height="6.08" fill="#e6f1ef" />
<rect x="611.40" y="265.24" width="17.20" height="6.08" fill="#e8f2f0" />
<rect x="611.40" y="270.92" width="17.20" height="5.68" fill="#e6f1ef" />
<rect x="611.40" y="76.90" width="17.20" height="145.90" fill="none" stroke="#999" stroke-width="0.5" />
<rect x="611.40" y="225.50" width="17.20" height="51.10" fill="none" stroke="#999" stroke-width="0.5" />
<text x="620.00" y="75.00" font-size="6.2" text-anchor="middle" fill="#222"  stroke="#222" stroke-width="0.05">SNV</text>
<text x="622.00" y="290.80" font-size="5.7" fill="#222" transform="rotate(-90 622.00 290.80)"  stroke="#222" stroke-width="0.05">SNV</text>
<text x="633.70" y="135.70" font-size="6.5" fill="#222"  stroke="#222" stroke-width="0.05">rho</text>
<defs><linearGradient id="rhog" x1="0" y1="0" x2="0" y2="1"><stop offset="0" stop-color="#e8801a"/><stop offset="0.3" stop-color="#f7ad6a"/><stop offset="0.55" stop-color="#fde0c6"/><stop offset="0.72" stop-color="#ffffff"/><stop offset="1" stop-color="#a9d3cb"/></linearGradient><linearGradient id="prevg" x1="0" y1="0" x2="0" y2="1"><stop offset="0" stop-color="#000"/><stop offset="1" stop-color="#fff"/></linearGradient></defs>
<rect x="633.80" y="137.90" width="7.90" height="37.80" fill="url(#rhog)" />
<text x="643.30" y="149.20" font-size="6.0" fill="#222"  stroke="#222" stroke-width="0.05">0.2</text>
<text x="643.30" y="158.10" font-size="6.0" fill="#222"  stroke="#222" stroke-width="0.05">0.1</text>
<text x="643.30" y="167.70" font-size="6.0" fill="#222"  stroke="#222" stroke-width="0.05">0.0</text>
<text x="643.30" y="177.00" font-size="6.0" fill="#222"  stroke="#222" stroke-width="0.05">−0.1</text>
<text x="634.60" y="192.70" font-size="6.5" fill="#222"  stroke="#222" stroke-width="0.05">Enrichment</text>
<rect x="634.30" y="196.20" width="7.20" height="6.80" fill="#d23c48" stroke="#333" stroke-width="0.5" />
<text x="644.80" y="201.40" font-size="6.5" fill="#222"  stroke="#222" stroke-width="0.05">HM</text>
<rect x="634.30" y="203.90" width="7.20" height="6.80" fill="#3d88a8" stroke="#333" stroke-width="0.5" />
<text x="644.80" y="209.10" font-size="6.5" fill="#222"  stroke="#222" stroke-width="0.05">nHM</text>
<rect x="634.30" y="211.60" width="7.20" height="6.80" fill="#bfbfbf" stroke="#333" stroke-width="0.5" />
<text x="644.80" y="216.80" font-size="6.5" fill="#222"  stroke="#222" stroke-width="0.05">not significant</text>
<text x="632.20" y="237.00" font-size="6.5" fill="#222"  stroke="#222" stroke-width="0.05">*, adjusted P&lt;0.05</text>
<text x="632.20" y="246.30" font-size="6.5" fill="#222"  stroke="#222" stroke-width="0.05">#, P&lt;0.05</text>
<rect x="39.90" y="127.90" width="188.70" height="121.50" fill="#fff" stroke="#555" stroke-width="0.6" />
<line x1="94.50" y1="127.90" x2="94.50" y2="249.40" stroke="#5a5a5a" stroke-width="0.9" />
<line x1="39.90" y1="224.50" x2="228.60" y2="224.50" stroke="#555" stroke-width="0.75" />
<line x1="76.50" y1="127.90" x2="76.50" y2="249.40" stroke="#333" stroke-width="0.8" stroke-dasharray="1.5,1.2"/>
<line x1="113.50" y1="127.90" x2="113.50" y2="249.40" stroke="#333" stroke-width="0.8" stroke-dasharray="1.5,1.2"/>
<line x1="39.90" y1="219.50" x2="228.60" y2="219.50" stroke="#999" stroke-width="0.8" stroke-dasharray="1,1"/>
<line x1="39.90" y1="228.50" x2="228.60" y2="228.50" stroke="#333" stroke-width="0.8" stroke-dasharray="1.5,1.2"/>
<line x1="38.20" y1="129.40" x2="39.90" y2="129.40" stroke="#555" stroke-width="0.5" />
<text x="37.40" y="132.10" font-size="7.6" text-anchor="end" fill="#4d4d4d"  stroke="#4d4d4d" stroke-width="0.05">30</text>
<line x1="38.20" y1="160.90" x2="39.90" y2="160.90" stroke="#555" stroke-width="0.5" />
<text x="37.40" y="163.60" font-size="7.6" text-anchor="end" fill="#4d4d4d"  stroke="#4d4d4d" stroke-width="0.05">20</text>
<line x1="38.20" y1="192.70" x2="39.90" y2="192.70" stroke="#555" stroke-width="0.5" />
<text x="37.40" y="195.40" font-size="7.6" text-anchor="end" fill="#4d4d4d"  stroke="#4d4d4d" stroke-width="0.05">10</text>
<line x1="38.20" y1="224.50" x2="39.90" y2="224.50" stroke="#555" stroke-width="0.5" />
<text x="37.40" y="227.20" font-size="7.6" text-anchor="end" fill="#4d4d4d"  stroke="#4d4d4d" stroke-width="0.05">0</text>
<line x1="95.00" y1="249.40" x2="95.00" y2="250.90" stroke="#555" stroke-width="0.5" />
<text x="95.00" y="257.80" font-size="7.6" text-anchor="middle" fill="#4d4d4d"  stroke="#4d4d4d" stroke-width="0.05">0</text>
<line x1="165.80" y1="249.40" x2="165.80" y2="250.90" stroke="#555" stroke-width="0.5" />
<text x="165.80" y="257.80" font-size="7.6" text-anchor="middle" fill="#4d4d4d"  stroke="#4d4d4d" stroke-width="0.05">5</text>
<text x="17.50" y="189.40" font-size="7.2" text-anchor="middle" transform="rotate(-90 17.50 189.40)"  stroke="#000" stroke-width="0.05">NAT vs. Tumor</text>
<text x="25.3" y="189.4" font-size="7.0" text-anchor="middle" transform="rotate(-90 25.3 189.4)" stroke="#000" stroke-width="0.05">−log<tspan font-size="4.5" dy="1.5">10</tspan><tspan dy="-1.5">(adjusted P)</tspan></text>
<text x="134.00" y="265.40" font-size="7.2" text-anchor="middle"  stroke="#000" stroke-width="0.05">nHM vs. HM</text>
<text x="134.0" y="273.4" font-size="7.3" text-anchor="middle" stroke="#000" stroke-width="0.05">−log<tspan font-size="4.5" dy="1.5">10</tspan><tspan dy="-1.5">(adjusted P)</tspan></text>
<line x1="40.50" y1="122.80" x2="92.70" y2="122.80" stroke="#222" stroke-width="1.3" />
<polygon points="40.00,122.80 44.00,120.60 44.00,125.00" fill="#222"/>
<line x1="97.10" y1="122.80" x2="228.00" y2="122.80" stroke="#222" stroke-width="1.3" />
<polygon points="228.50,122.80 224.50,120.60 224.50,125.00" fill="#222"/>
<text x="67.60" y="118.90" font-size="6.6" text-anchor="middle" fill="#222"  stroke="#222" stroke-width="0.05">nHM-enriched</text>
<text x="166.40" y="118.40" font-size="6.6" text-anchor="middle" fill="#222"  stroke="#222" stroke-width="0.05">HM-enriched</text>
<line x1="239.30" y1="129.00" x2="239.30" y2="220.50" stroke="#222" stroke-width="1.0" />
<polygon points="239.3,126.2 237.2,130.4 241.4,130.4" fill="#222"/>
<line x1="239.30" y1="225.90" x2="239.30" y2="245.50" stroke="#222" stroke-width="1.0" />
<polygon points="239.3,248.3 237.2,244.1 241.4,244.1" fill="#222"/>
<text x="243.60" y="181.00" font-size="6.7" text-anchor="middle" fill="#222" transform="rotate(90 243.60 181.00)"  stroke="#222" stroke-width="0.05">Tumor-enriched</text>
<text x="250.00" y="225.90" font-size="6.7" fill="#222" transform="rotate(90 250.00 225.90)"  stroke="#222" stroke-width="0.05">NAT-</text>
<text x="243.60" y="225.90" font-size="6.7" fill="#222" transform="rotate(90 243.60 225.90)"  stroke="#222" stroke-width="0.05">enriched</text>
<text x="259.10" y="132.40" font-size="7.0" fill="#222"  stroke="#222" stroke-width="0.05">Enrichment</text>
<circle cx="267.00" cy="141.20" r="2.40" fill="#e8696a" />
<text x="272.30" y="143.50" font-size="6.5" fill="#222"  stroke="#222" stroke-width="0.05">HM</text>
<circle cx="267.00" cy="149.70" r="2.40" fill="#2f93b0" />
<text x="272.30" y="152.00" font-size="6.5" fill="#222"  stroke="#222" stroke-width="0.05">nHM</text>
<circle cx="267.00" cy="158.50" r="2.40" fill="#7f7f7f" />
<text x="272.30" y="160.80" font-size="6.5" fill="#222"  stroke="#222" stroke-width="0.05">not significant</text>
<text x="42.80" y="135.90" font-size="8.4" font-weight="bold" fill="#3a95b0"  stroke="#3a95b0" stroke-width="0.05">n = 9</text>
<text x="199.60" y="136.40" font-size="8.8" font-weight="bold" fill="#e8696a"  stroke="#e8696a" stroke-width="0.05">n = 26</text>
<circle cx="80.31" cy="225.89" r="1.70" fill="#7f7f7f" stroke="#fff" stroke-width="0.35" />
<circle cx="72.49" cy="228.39" r="1.70" fill="#7f7f7f" stroke="#fff" stroke-width="0.35" />
<circle cx="80.41" cy="214.30" r="1.20" fill="#7f7f7f" stroke="#fff" stroke-width="0.35" />
<circle cx="104.38" cy="228.84" r="0.80" fill="#7f7f7f" stroke="#fff" stroke-width="0.35" />
<circle cx="85.05" cy="221.17" r="1.00" fill="#7f7f7f" stroke="#fff" stroke-width="0.35" />
<circle cx="78.79" cy="214.11" r="0.80" fill="#7f7f7f" stroke="#fff" stroke-width="0.35" />
<circle cx="98.28" cy="229.19" r="1.70" fill="#7f7f7f" stroke="#fff" stroke-width="0.35" />
<circle cx="87.60" cy="232.90" r="1.10" fill="#7f7f7f" stroke="#fff" stroke-width="0.35" />
<circle cx="86.02" cy="219.46" r="1.70" fill="#7f7f7f" stroke="#fff" stroke-width="0.35" />
<circle cx="88.09" cy="219.78" r="0.90" fill="#7f7f7f" stroke="#fff" stroke-width="0.35" />
<circle cx="92.26" cy="217.70" r="1.20" fill="#7f7f7f" stroke="#fff" stroke-width="0.35" />
<circle cx="110.17" cy="225.79" r="0.90" fill="#7f7f7f" stroke="#fff" stroke-width="0.35" />
<circle cx="101.76" cy="219.94" r="0.80" fill="#7f7f7f" stroke="#fff" stroke-width="0.35" />
<circle cx="101.24" cy="240.71" r="1.50" fill="#7f7f7f" stroke="#fff" stroke-width="0.35" />
<circle cx="106.99" cy="223.07" r="1.10" fill="#7f7f7f" stroke="#fff" stroke-width="0.35" />
<circle cx="96.70" cy="218.15" r="1.30" fill="#7f7f7f" stroke="#fff" stroke-width="0.35" />
<circle cx="107.27" cy="224.49" r="1.00" fill="#7f7f7f" stroke="#fff" stroke-width="0.35" />
<circle cx="95.13" cy="227.46" r="1.70" fill="#7f7f7f" stroke="#fff" stroke-width="0.35" />
<circle cx="101.74" cy="229.75" r="1.10" fill="#7f7f7f" stroke="#fff" stroke-width="0.35" />
<circle cx="115.47" cy="223.21" r="1.50" fill="#7f7f7f" stroke="#fff" stroke-width="0.35" />
<circle cx="104.33" cy="229.24" r="1.20" fill="#7f7f7f" stroke="#fff" stroke-width="0.35" />
<circle cx="116.44" cy="213.78" r="0.80" fill="#7f7f7f" stroke="#fff" stroke-width="0.35" />
<circle cx="97.94" cy="228.85" r="0.90" fill="#7f7f7f" stroke="#fff" stroke-width="0.35" />
<circle cx="101.52" cy="224.74" r="0.80" fill="#7f7f7f" stroke="#fff" stroke-width="0.35" />
<circle cx="96.52" cy="217.37" r="0.90" fill="#7f7f7f" stroke="#fff" stroke-width="0.35" />
<circle cx="102.33" cy="225.54" r="0.80" fill="#7f7f7f" stroke="#fff" stroke-width="0.35" />
<circle cx="85.70" cy="221.14" r="1.70" fill="#7f7f7f" stroke="#fff" stroke-width="0.35" />
<circle cx="98.21" cy="221.65" r="1.00" fill="#7f7f7f" stroke="#fff" stroke-width="0.35" />
<circle cx="91.78" cy="227.34" r="1.10" fill="#7f7f7f" stroke="#fff" stroke-width="0.35" />
<circle cx="104.19" cy="229.91" r="1.50" fill="#7f7f7f" stroke="#fff" stroke-width="0.35" />
<circle cx="107.05" cy="219.41" r="0.90" fill="#7f7f7f" stroke="#fff" stroke-width="0.35" />
<circle cx="106.14" cy="229.69" r="1.50" fill="#7f7f7f" stroke="#fff" stroke-width="0.35" />
<circle cx="94.02" cy="233.31" r="1.20" fill="#7f7f7f" stroke="#fff" stroke-width="0.35" />
<circle cx="67.60" cy="222.55" r="1.00" fill="#7f7f7f" stroke="#fff" stroke-width="0.35" />
<circle cx="97.08" cy="230.34" r="0.90" fill="#7f7f7f" stroke="#fff" stroke-width="0.35" />
<circle cx="89.94" cy="240.45" r="0.80" fill="#7f7f7f" stroke="#fff" stroke-width="0.35" />
<circle cx="106.21" cy="227.25" r="0.80" fill="#7f7f7f" stroke="#fff" stroke-width="0.35" />
<circle cx="100.15" cy="228.29" r="1.00" fill="#7f7f7f" stroke="#fff" stroke-width="0.35" />
<circle cx="100.48" cy="225.49" r="1.30" fill="#7f7f7f" stroke="#fff" stroke-width="0.35" />
<circle cx="84.84" cy="217.61" r="1.00" fill="#7f7f7f" stroke="#fff" stroke-width="0.35" />
<circle cx="72.01" cy="217.93" r="1.30" fill="#7f7f7f" stroke="#fff" stroke-width="0.35" />
<circle cx="85.67" cy="205.67" r="0.90" fill="#7f7f7f" stroke="#fff" stroke-width="0.35" />
<circle cx="75.69" cy="225.35" r="0.90" fill="#7f7f7f" stroke="#fff" stroke-width="0.35" />
<circle cx="108.43" cy="226.86" r="1.00" fill="#7f7f7f" stroke="#fff" stroke-width="0.35" />
<circle cx="102.15" cy="213.31" r="1.70" fill="#7f7f7f" stroke="#fff" stroke-width="0.35" />
<circle cx="114.73" cy="218.09" r="0.80" fill="#7f7f7f" stroke="#fff" stroke-width="0.35" />
<circle cx="105.24" cy="219.07" r="1.50" fill="#7f7f7f" stroke="#fff" stroke-width="0.35" />
<circle cx="93.62" cy="224.82" r="0.90" fill="#7f7f7f" stroke="#fff" stroke-width="0.35" />
<circle cx="70.68" cy="211.84" r="1.30" fill="#7f7f7f" stroke="#fff" stroke-width="0.35" />
<circle cx="80.05" cy="229.26" r="1.70" fill="#7f7f7f" stroke="#fff" stroke-width="0.35" />
<circle cx="80.43" cy="225.45" r="0.80" fill="#7f7f7f" stroke="#fff" stroke-width="0.35" />
<circle cx="93.10" cy="226.99" r="0.90" fill="#7f7f7f" stroke="#fff" stroke-width="0.35" />
<circle cx="78.43" cy="224.12" r="1.20" fill="#7f7f7f" stroke="#fff" stroke-width="0.35" />
<circle cx="104.15" cy="219.65" r="1.10" fill="#7f7f7f" stroke="#fff" stroke-width="0.35" />
<circle cx="75.04" cy="222.55" r="1.70" fill="#7f7f7f" stroke="#fff" stroke-width="0.35" />
<circle cx="86.08" cy="224.04" r="1.20" fill="#7f7f7f" stroke="#fff" stroke-width="0.35" />
<circle cx="99.05" cy="229.03" r="1.10" fill="#7f7f7f" stroke="#fff" stroke-width="0.35" />
<circle cx="103.63" cy="220.63" r="1.30" fill="#7f7f7f" stroke="#fff" stroke-width="0.35" />
<circle cx="96.61" cy="226.60" r="0.80" fill="#7f7f7f" stroke="#fff" stroke-width="0.35" />
<circle cx="87.91" cy="206.18" r="1.00" fill="#7f7f7f" stroke="#fff" stroke-width="0.35" />
<circle cx="105.28" cy="227.68" r="1.50" fill="#7f7f7f" stroke="#fff" stroke-width="0.35" />
<circle cx="84.24" cy="228.08" r="1.70" fill="#7f7f7f" stroke="#fff" stroke-width="0.35" />
<circle cx="85.36" cy="236.74" r="0.80" fill="#7f7f7f" stroke="#fff" stroke-width="0.35" />
<circle cx="90.75" cy="220.34" r="0.80" fill="#7f7f7f" stroke="#fff" stroke-width="0.35" />
<circle cx="87.26" cy="218.08" r="1.20" fill="#7f7f7f" stroke="#fff" stroke-width="0.35" />
<circle cx="95.52" cy="228.12" r="0.90" fill="#7f7f7f" stroke="#fff" stroke-width="0.35" />
<circle cx="79.03" cy="226.33" r="1.30" fill="#7f7f7f" stroke="#fff" stroke-width="0.35" />
<circle cx="112.61" cy="221.06" r="1.70" fill="#7f7f7f" stroke="#fff" stroke-width="0.35" />
<circle cx="94.28" cy="231.91" r="0.80" fill="#7f7f7f" stroke="#fff" stroke-width="0.35" />
<circle cx="99.12" cy="229.40" r="1.00" fill="#7f7f7f" stroke="#fff" stroke-width="0.35" />
<circle cx="78.32" cy="229.50" r="0.90" fill="#7f7f7f" stroke="#fff" stroke-width="0.35" />
<circle cx="73.55" cy="229.63" r="1.70" fill="#7f7f7f" stroke="#fff" stroke-width="0.35" />
<circle cx="78.89" cy="226.02" r="1.50" fill="#7f7f7f" stroke="#fff" stroke-width="0.35" />
<circle cx="78.40" cy="221.75" r="1.30" fill="#7f7f7f" stroke="#fff" stroke-width="0.35" />
<circle cx="78.03" cy="226.46" r="0.90" fill="#7f7f7f" stroke="#fff" stroke-width="0.35" />
<circle cx="100.89" cy="234.45" r="1.20" fill="#7f7f7f" stroke="#fff" stroke-width="0.35" />
<circle cx="74.34" cy="220.95" r="0.80" fill="#7f7f7f" stroke="#fff" stroke-width="0.35" />
<circle cx="92.11" cy="225.69" r="1.50" fill="#7f7f7f" stroke="#fff" stroke-width="0.35" />
<circle cx="96.59" cy="215.39" r="0.90" fill="#7f7f7f" stroke="#fff" stroke-width="0.35" />
<circle cx="92.11" cy="224.58" r="1.00" fill="#7f7f7f" stroke="#fff" stroke-width="0.35" />
<circle cx="69.11" cy="227.82" r="1.70" fill="#7f7f7f" stroke="#fff" stroke-width="0.35" />
<circle cx="108.17" cy="222.05" r="0.90" fill="#7f7f7f" stroke="#fff" stroke-width="0.35" />
<circle cx="95.64" cy="218.63" r="1.00" fill="#7f7f7f" stroke="#fff" stroke-width="0.35" />
<circle cx="72.12" cy="222.63" r="1.20" fill="#7f7f7f" stroke="#fff" stroke-width="0.35" />
<circle cx="80.83" cy="213.05" r="1.10" fill="#7f7f7f" stroke="#fff" stroke-width="0.35" />
<circle cx="92.78" cy="226.60" r="1.20" fill="#7f7f7f" stroke="#fff" stroke-width="0.35" />
<circle cx="87.79" cy="222.52" r="0.80" fill="#7f7f7f" stroke="#fff" stroke-width="0.35" />
<circle cx="92.75" cy="223.27" r="1.50" fill="#7f7f7f" stroke="#fff" stroke-width="0.35" />
<circle cx="66.56" cy="217.83" r="1.00" fill="#7f7f7f" stroke="#fff" stroke-width="0.35" />
<circle cx="108.67" cy="226.50" r="1.50" fill="#7f7f7f" stroke="#fff" stroke-width="0.35" />
<circle cx="93.36" cy="232.43" r="1.50" fill="#7f7f7f" stroke="#fff" stroke-width="0.35" />
<circle cx="117.84" cy="217.17" r="1.30" fill="#7f7f7f" stroke="#fff" stroke-width="0.35" />
<circle cx="104.71" cy="228.93" r="1.20" fill="#7f7f7f" stroke="#fff" stroke-width="0.35" />
<circle cx="109.33" cy="233.47" r="1.10" fill="#7f7f7f" stroke="#fff" stroke-width="0.35" />
<circle cx="96.04" cy="224.96" r="1.30" fill="#7f7f7f" stroke="#fff" stroke-width="0.35" />
<circle cx="95.49" cy="229.87" r="0.90" fill="#7f7f7f" stroke="#fff" stroke-width="0.35" />
<circle cx="105.02" cy="218.40" r="1.50" fill="#7f7f7f" stroke="#fff" stroke-width="0.35" />
<circle cx="111.81" cy="225.03" r="1.00" fill="#7f7f7f" stroke="#fff" stroke-width="0.35" />
<circle cx="71.72" cy="221.63" r="1.10" fill="#7f7f7f" stroke="#fff" stroke-width="0.35" />
<circle cx="71.98" cy="222.19" r="1.00" fill="#7f7f7f" stroke="#fff" stroke-width="0.35" />
<circle cx="97.14" cy="232.17" r="1.00" fill="#7f7f7f" stroke="#fff" stroke-width="0.35" />
<circle cx="90.80" cy="227.98" r="1.10" fill="#7f7f7f" stroke="#fff" stroke-width="0.35" />
<circle cx="96.40" cy="219.14" r="1.10" fill="#7f7f7f" stroke="#fff" stroke-width="0.35" />
<circle cx="98.47" cy="225.59" r="1.50" fill="#7f7f7f" stroke="#fff" stroke-width="0.35" />
<circle cx="101.20" cy="219.45" r="1.00" fill="#7f7f7f" stroke="#fff" stroke-width="0.35" />
<circle cx="100.15" cy="230.70" r="0.90" fill="#7f7f7f" stroke="#fff" stroke-width="0.35" />
<circle cx="100.51" cy="231.22" r="1.30" fill="#7f7f7f" stroke="#fff" stroke-width="0.35" />
<circle cx="105.66" cy="227.94" r="1.10" fill="#7f7f7f" stroke="#fff" stroke-width="0.35" />
<circle cx="99.49" cy="215.87" r="1.70" fill="#7f7f7f" stroke="#fff" stroke-width="0.35" />
<circle cx="99.64" cy="227.81" r="1.00" fill="#7f7f7f" stroke="#fff" stroke-width="0.35" />
<circle cx="122.40" cy="222.96" r="0.80" fill="#7f7f7f" stroke="#fff" stroke-width="0.35" />
<circle cx="107.04" cy="232.48" r="0.90" fill="#7f7f7f" stroke="#fff" stroke-width="0.35" />
<circle cx="88.75" cy="228.97" r="1.50" fill="#7f7f7f" stroke="#fff" stroke-width="0.35" />
<circle cx="97.88" cy="228.68" r="0.80" fill="#7f7f7f" stroke="#fff" stroke-width="0.35" />
<circle cx="99.24" cy="221.38" r="1.30" fill="#7f7f7f" stroke="#fff" stroke-width="0.35" />
<circle cx="88.45" cy="226.77" r="0.80" fill="#7f7f7f" stroke="#fff" stroke-width="0.35" />
<circle cx="92.74" cy="225.88" r="1.50" fill="#7f7f7f" stroke="#fff" stroke-width="0.35" />
<circle cx="87.93" cy="222.62" r="1.30" fill="#7f7f7f" stroke="#fff" stroke-width="0.35" />
<circle cx="98.13" cy="220.36" r="1.00" fill="#7f7f7f" stroke="#fff" stroke-width="0.35" />
<circle cx="99.84" cy="219.31" r="1.30" fill="#7f7f7f" stroke="#fff" stroke-width="0.35" />
<circle cx="97.21" cy="215.54" r="1.00" fill="#7f7f7f" stroke="#fff" stroke-width="0.35" />
<circle cx="104.91" cy="225.96" r="0.80" fill="#7f7f7f" stroke="#fff" stroke-width="0.35" />
<circle cx="122.95" cy="214.12" r="0.80" fill="#7f7f7f" stroke="#fff" stroke-width="0.35" />
<circle cx="98.24" cy="235.95" r="1.30" fill="#7f7f7f" stroke="#fff" stroke-width="0.35" />
<circle cx="97.59" cy="231.48" r="0.90" fill="#7f7f7f" stroke="#fff" stroke-width="0.35" />
<circle cx="70.21" cy="237.63" r="1.50" fill="#7f7f7f" stroke="#fff" stroke-width="0.35" />
<circle cx="97.56" cy="223.87" r="1.10" fill="#7f7f7f" stroke="#fff" stroke-width="0.35" />
<circle cx="94.49" cy="231.59" r="1.10" fill="#7f7f7f" stroke="#fff" stroke-width="0.35" />
<circle cx="93.94" cy="223.11" r="1.20" fill="#7f7f7f" stroke="#fff" stroke-width="0.35" />
<circle cx="107.58" cy="220.47" r="0.90" fill="#7f7f7f" stroke="#fff" stroke-width="0.35" />
<circle cx="80.86" cy="213.59" r="0.80" fill="#7f7f7f" stroke="#fff" stroke-width="0.35" />
<circle cx="73.57" cy="231.73" r="1.00" fill="#7f7f7f" stroke="#fff" stroke-width="0.35" />
<circle cx="104.24" cy="219.08" r="1.50" fill="#7f7f7f" stroke="#fff" stroke-width="0.35" />
<circle cx="106.81" cy="222.24" r="1.20" fill="#7f7f7f" stroke="#fff" stroke-width="0.35" />
<circle cx="88.46" cy="227.07" r="1.20" fill="#7f7f7f" stroke="#fff" stroke-width="0.35" />
<circle cx="84.71" cy="213.34" r="1.10" fill="#7f7f7f" stroke="#fff" stroke-width="0.35" />
<circle cx="80.42" cy="220.37" r="1.50" fill="#7f7f7f" stroke="#fff" stroke-width="0.35" />
<circle cx="104.87" cy="225.42" r="1.30" fill="#7f7f7f" stroke="#fff" stroke-width="0.35" />
<circle cx="118.34" cy="228.84" r="1.70" fill="#7f7f7f" stroke="#fff" stroke-width="0.35" />
<circle cx="94.88" cy="236.59" r="0.90" fill="#7f7f7f" stroke="#fff" stroke-width="0.35" />
<circle cx="112.75" cy="220.92" r="1.10" fill="#7f7f7f" stroke="#fff" stroke-width="0.35" />
<circle cx="90.28" cy="222.50" r="1.70" fill="#7f7f7f" stroke="#fff" stroke-width="0.35" />
<circle cx="112.59" cy="230.71" r="1.00" fill="#7f7f7f" stroke="#fff" stroke-width="0.35" />
<circle cx="104.22" cy="227.81" r="1.70" fill="#7f7f7f" stroke="#fff" stroke-width="0.35" />
<circle cx="81.20" cy="219.76" r="1.30" fill="#7f7f7f" stroke="#fff" stroke-width="0.35" />
<circle cx="97.58" cy="217.94" r="1.20" fill="#7f7f7f" stroke="#fff" stroke-width="0.35" />
<circle cx="94.13" cy="218.49" r="1.20" fill="#7f7f7f" stroke="#fff" stroke-width="0.35" />
<circle cx="98.59" cy="217.16" r="1.20" fill="#7f7f7f" stroke="#fff" stroke-width="0.35" />
<circle cx="80.13" cy="218.89" r="1.10" fill="#7f7f7f" stroke="#fff" stroke-width="0.35" />
<circle cx="81.54" cy="214.69" r="1.10" fill="#7f7f7f" stroke="#fff" stroke-width="0.35" />
<circle cx="77.54" cy="223.85" r="0.80" fill="#7f7f7f" stroke="#fff" stroke-width="0.35" />
<circle cx="93.85" cy="223.25" r="0.80" fill="#7f7f7f" stroke="#fff" stroke-width="0.35" />
<circle cx="91.01" cy="222.37" r="0.90" fill="#7f7f7f" stroke="#fff" stroke-width="0.35" />
<circle cx="95.96" cy="207.44" r="1.10" fill="#7f7f7f" stroke="#fff" stroke-width="0.35" />
<circle cx="87.12" cy="220.45" r="1.10" fill="#7f7f7f" stroke="#fff" stroke-width="0.35" />
<circle cx="87.62" cy="231.45" r="0.90" fill="#7f7f7f" stroke="#fff" stroke-width="0.35" />
<circle cx="99.21" cy="218.85" r="1.10" fill="#7f7f7f" stroke="#fff" stroke-width="0.35" />
<circle cx="76.30" cy="226.84" r="1.00" fill="#7f7f7f" stroke="#fff" stroke-width="0.35" />
<circle cx="83.12" cy="229.34" r="1.30" fill="#7f7f7f" stroke="#fff" stroke-width="0.35" />
<circle cx="89.86" cy="232.16" r="1.00" fill="#7f7f7f" stroke="#fff" stroke-width="0.35" />
<circle cx="84.65" cy="227.16" r="1.30" fill="#7f7f7f" stroke="#fff" stroke-width="0.35" />
<circle cx="99.40" cy="224.99" r="1.70" fill="#7f7f7f" stroke="#fff" stroke-width="0.35" />
<circle cx="100.34" cy="218.88" r="0.80" fill="#7f7f7f" stroke="#fff" stroke-width="0.35" />
<circle cx="102.38" cy="225.59" r="0.90" fill="#7f7f7f" stroke="#fff" stroke-width="0.35" />
<circle cx="90.26" cy="218.50" r="1.30" fill="#7f7f7f" stroke="#fff" stroke-width="0.35" />
<circle cx="93.63" cy="226.72" r="1.30" fill="#7f7f7f" stroke="#fff" stroke-width="0.35" />
<circle cx="91.00" cy="225.86" r="1.20" fill="#7f7f7f" stroke="#fff" stroke-width="0.35" />
<circle cx="74.99" cy="229.14" r="1.30" fill="#7f7f7f" stroke="#fff" stroke-width="0.35" />
<circle cx="100.66" cy="236.89" r="1.10" fill="#7f7f7f" stroke="#fff" stroke-width="0.35" />
<circle cx="114.45" cy="231.12" r="1.50" fill="#7f7f7f" stroke="#fff" stroke-width="0.35" />
<circle cx="76.57" cy="219.47" r="1.30" fill="#7f7f7f" stroke="#fff" stroke-width="0.35" />
<circle cx="99.36" cy="218.03" r="1.00" fill="#7f7f7f" stroke="#fff" stroke-width="0.35" />
<circle cx="104.01" cy="231.55" r="1.20" fill="#7f7f7f" stroke="#fff" stroke-width="0.35" />
<circle cx="98.22" cy="219.09" r="1.00" fill="#7f7f7f" stroke="#fff" stroke-width="0.35" />
<circle cx="66.50" cy="218.64" r="1.50" fill="#7f7f7f" stroke="#fff" stroke-width="0.35" />
<circle cx="108.89" cy="226.46" r="0.90" fill="#7f7f7f" stroke="#fff" stroke-width="0.35" />
<circle cx="90.14" cy="229.17" r="1.30" fill="#7f7f7f" stroke="#fff" stroke-width="0.35" />
<circle cx="109.66" cy="229.40" r="1.50" fill="#7f7f7f" stroke="#fff" stroke-width="0.35" />
<circle cx="95.24" cy="227.53" r="1.30" fill="#7f7f7f" stroke="#fff" stroke-width="0.35" />
<circle cx="96.11" cy="216.52" r="1.30" fill="#7f7f7f" stroke="#fff" stroke-width="0.35" />
<circle cx="88.44" cy="218.85" r="0.90" fill="#7f7f7f" stroke="#fff" stroke-width="0.35" />
<circle cx="88.07" cy="213.28" r="1.30" fill="#7f7f7f" stroke="#fff" stroke-width="0.35" />
<circle cx="108.16" cy="216.79" r="1.70" fill="#7f7f7f" stroke="#fff" stroke-width="0.35" />
<circle cx="111.56" cy="222.13" r="0.80" fill="#7f7f7f" stroke="#fff" stroke-width="0.35" />
<circle cx="99.05" cy="219.05" r="1.00" fill="#7f7f7f" stroke="#fff" stroke-width="0.35" />
<circle cx="95.19" cy="226.97" r="1.00" fill="#7f7f7f" stroke="#fff" stroke-width="0.35" />
<circle cx="89.87" cy="228.48" r="1.20" fill="#7f7f7f" stroke="#fff" stroke-width="0.35" />
<circle cx="99.12" cy="223.51" r="0.90" fill="#7f7f7f" stroke="#fff" stroke-width="0.35" />
<circle cx="92.70" cy="226.74" r="0.80" fill="#7f7f7f" stroke="#fff" stroke-width="0.35" />
<circle cx="95.04" cy="223.07" r="0.80" fill="#7f7f7f" stroke="#fff" stroke-width="0.35" />
<circle cx="91.95" cy="227.07" r="1.10" fill="#7f7f7f" stroke="#fff" stroke-width="0.35" />
<circle cx="84.03" cy="220.68" r="1.70" fill="#7f7f7f" stroke="#fff" stroke-width="0.35" />
<circle cx="98.87" cy="229.59" r="1.20" fill="#7f7f7f" stroke="#fff" stroke-width="0.35" />
<circle cx="74.98" cy="215.47" r="1.20" fill="#7f7f7f" stroke="#fff" stroke-width="0.35" />
<circle cx="82.87" cy="224.49" r="0.90" fill="#7f7f7f" stroke="#fff" stroke-width="0.35" />
<circle cx="86.57" cy="224.58" r="1.00" fill="#7f7f7f" stroke="#fff" stroke-width="0.35" />
<circle cx="98.76" cy="219.33" r="1.20" fill="#7f7f7f" stroke="#fff" stroke-width="0.35" />
<circle cx="95.97" cy="222.32" r="0.80" fill="#7f7f7f" stroke="#fff" stroke-width="0.35" />
<circle cx="113.31" cy="216.28" r="1.10" fill="#7f7f7f" stroke="#fff" stroke-width="0.35" />
<circle cx="91.26" cy="214.03" r="1.00" fill="#7f7f7f" stroke="#fff" stroke-width="0.35" />
<circle cx="95.92" cy="221.23" r="1.00" fill="#7f7f7f" stroke="#fff" stroke-width="0.35" />
<circle cx="70.31" cy="206.05" r="0.80" fill="#7f7f7f" stroke="#fff" stroke-width="0.35" />
<circle cx="107.03" cy="234.44" r="1.00" fill="#7f7f7f" stroke="#fff" stroke-width="0.35" />
<circle cx="97.18" cy="221.20" r="0.90" fill="#7f7f7f" stroke="#fff" stroke-width="0.35" />
<circle cx="109.20" cy="216.63" r="1.20" fill="#7f7f7f" stroke="#fff" stroke-width="0.35" />
<circle cx="102.68" cy="224.58" r="0.90" fill="#7f7f7f" stroke="#fff" stroke-width="0.35" />
<circle cx="97.54" cy="216.08" r="1.50" fill="#7f7f7f" stroke="#fff" stroke-width="0.35" />
<circle cx="88.06" cy="223.53" r="1.20" fill="#7f7f7f" stroke="#fff" stroke-width="0.35" />
<circle cx="90.06" cy="228.67" r="1.70" fill="#7f7f7f" stroke="#fff" stroke-width="0.35" />
<circle cx="92.78" cy="221.58" r="1.00" fill="#7f7f7f" stroke="#fff" stroke-width="0.35" />
<circle cx="104.46" cy="227.09" r="0.90" fill="#7f7f7f" stroke="#fff" stroke-width="0.35" />
<circle cx="93.93" cy="223.35" r="1.70" fill="#7f7f7f" stroke="#fff" stroke-width="0.35" />
<circle cx="96.22" cy="230.42" r="0.80" fill="#7f7f7f" stroke="#fff" stroke-width="0.35" />
<circle cx="109.31" cy="216.42" r="1.00" fill="#7f7f7f" stroke="#fff" stroke-width="0.35" />
<circle cx="92.07" cy="228.70" r="1.20" fill="#7f7f7f" stroke="#fff" stroke-width="0.35" />
<circle cx="114.29" cy="221.61" r="0.90" fill="#7f7f7f" stroke="#fff" stroke-width="0.35" />
<circle cx="94.68" cy="227.34" r="1.30" fill="#7f7f7f" stroke="#fff" stroke-width="0.35" />
<circle cx="91.48" cy="227.72" r="1.30" fill="#7f7f7f" stroke="#fff" stroke-width="0.35" />
<circle cx="83.87" cy="226.41" r="0.90" fill="#7f7f7f" stroke="#fff" stroke-width="0.35" />
<circle cx="106.48" cy="231.78" r="1.10" fill="#7f7f7f" stroke="#fff" stroke-width="0.35" />
<circle cx="76.32" cy="229.49" r="0.90" fill="#7f7f7f" stroke="#fff" stroke-width="0.35" />
<circle cx="97.49" cy="224.76" r="1.50" fill="#7f7f7f" stroke="#fff" stroke-width="0.35" />
<circle cx="91.11" cy="225.07" r="1.50" fill="#7f7f7f" stroke="#fff" stroke-width="0.35" />
<circle cx="100.89" cy="222.18" r="1.00" fill="#7f7f7f" stroke="#fff" stroke-width="0.35" />
<circle cx="100.12" cy="217.32" r="1.50" fill="#7f7f7f" stroke="#fff" stroke-width="0.35" />
<circle cx="81.16" cy="218.37" r="1.30" fill="#7f7f7f" stroke="#fff" stroke-width="0.35" />
<circle cx="116.05" cy="223.00" r="0.80" fill="#7f7f7f" stroke="#fff" stroke-width="0.35" />
<circle cx="94.48" cy="228.84" r="1.70" fill="#7f7f7f" stroke="#fff" stroke-width="0.35" />
<circle cx="104.18" cy="227.02" r="1.20" fill="#7f7f7f" stroke="#fff" stroke-width="0.35" />
<circle cx="102.51" cy="214.82" r="1.20" fill="#7f7f7f" stroke="#fff" stroke-width="0.35" />
<circle cx="84.32" cy="222.61" r="1.00" fill="#7f7f7f" stroke="#fff" stroke-width="0.35" />
<circle cx="87.87" cy="222.51" r="1.10" fill="#7f7f7f" stroke="#fff" stroke-width="0.35" />
<circle cx="92.45" cy="223.52" r="0.90" fill="#7f7f7f" stroke="#fff" stroke-width="0.35" />
<circle cx="103.96" cy="228.31" r="1.30" fill="#7f7f7f" stroke="#fff" stroke-width="0.35" />
<circle cx="81.83" cy="234.11" r="1.70" fill="#7f7f7f" stroke="#fff" stroke-width="0.35" />
<circle cx="104.77" cy="220.32" r="1.10" fill="#7f7f7f" stroke="#fff" stroke-width="0.35" />
<circle cx="107.38" cy="220.45" r="1.20" fill="#7f7f7f" stroke="#fff" stroke-width="0.35" />
<circle cx="104.73" cy="231.21" r="1.30" fill="#7f7f7f" stroke="#fff" stroke-width="0.35" />
<circle cx="90.07" cy="222.48" r="1.20" fill="#7f7f7f" stroke="#fff" stroke-width="0.35" />
<circle cx="90.47" cy="219.64" r="1.30" fill="#7f7f7f" stroke="#fff" stroke-width="0.35" />
<circle cx="98.74" cy="221.20" r="0.90" fill="#7f7f7f" stroke="#fff" stroke-width="0.35" />
<circle cx="83.30" cy="225.44" r="1.00" fill="#7f7f7f" stroke="#fff" stroke-width="0.35" />
<circle cx="88.66" cy="230.97" r="1.50" fill="#7f7f7f" stroke="#fff" stroke-width="0.35" />
<circle cx="82.14" cy="219.26" r="1.00" fill="#7f7f7f" stroke="#fff" stroke-width="0.35" />
<circle cx="99.20" cy="232.01" r="1.50" fill="#7f7f7f" stroke="#fff" stroke-width="0.35" />
<circle cx="104.01" cy="229.18" r="1.00" fill="#7f7f7f" stroke="#fff" stroke-width="0.35" />
<circle cx="93.67" cy="233.68" r="0.80" fill="#7f7f7f" stroke="#fff" stroke-width="0.35" />
<circle cx="91.25" cy="215.34" r="1.70" fill="#7f7f7f" stroke="#fff" stroke-width="0.35" />
<circle cx="84.07" cy="220.69" r="1.50" fill="#7f7f7f" stroke="#fff" stroke-width="0.35" />
<circle cx="95.15" cy="218.23" r="1.50" fill="#7f7f7f" stroke="#fff" stroke-width="0.35" />
<circle cx="97.73" cy="220.66" r="1.30" fill="#7f7f7f" stroke="#fff" stroke-width="0.35" />
<circle cx="82.39" cy="223.17" r="1.30" fill="#7f7f7f" stroke="#fff" stroke-width="0.35" />
<circle cx="103.40" cy="221.69" r="1.50" fill="#7f7f7f" stroke="#fff" stroke-width="0.35" />
<circle cx="93.17" cy="217.30" r="1.20" fill="#7f7f7f" stroke="#fff" stroke-width="0.35" />
<circle cx="113.18" cy="213.67" r="1.70" fill="#7f7f7f" stroke="#fff" stroke-width="0.35" />
<circle cx="96.17" cy="234.15" r="1.70" fill="#7f7f7f" stroke="#fff" stroke-width="0.35" />
<circle cx="90.02" cy="215.38" r="1.20" fill="#7f7f7f" stroke="#fff" stroke-width="0.35" />
<circle cx="79.26" cy="214.11" r="1.30" fill="#7f7f7f" stroke="#fff" stroke-width="0.35" />
<circle cx="103.39" cy="220.11" r="1.10" fill="#7f7f7f" stroke="#fff" stroke-width="0.35" />
<circle cx="87.59" cy="217.67" r="0.90" fill="#7f7f7f" stroke="#fff" stroke-width="0.35" />
<circle cx="100.10" cy="173.00" r="2.80" fill="#7f7f7f" stroke="#fff" stroke-width="0.3" />
<circle cx="96.90" cy="182.40" r="1.50" fill="#7f7f7f" stroke="#fff" stroke-width="0.3" />
<circle cx="108.60" cy="186.50" r="2.80" fill="#7f7f7f" stroke="#fff" stroke-width="0.3" />
<circle cx="111.70" cy="209.50" r="3.40" fill="#7f7f7f" stroke="#fff" stroke-width="0.3" />
<circle cx="103.80" cy="198.20" r="1.80" fill="#7f7f7f" stroke="#fff" stroke-width="0.3" />
<circle cx="82.40" cy="191.30" r="1.80" fill="#7f7f7f" stroke="#fff" stroke-width="0.3" />
<circle cx="81.20" cy="193.80" r="1.80" fill="#7f7f7f" stroke="#fff" stroke-width="0.3" />
<circle cx="93.10" cy="192.80" r="1.50" fill="#7f7f7f" stroke="#fff" stroke-width="0.3" />
<circle cx="82.40" cy="199.10" r="1.50" fill="#7f7f7f" stroke="#fff" stroke-width="0.3" />
<circle cx="92.50" cy="200.80" r="1.40" fill="#7f7f7f" stroke="#fff" stroke-width="0.3" />
<circle cx="105.80" cy="205.50" r="1.60" fill="#7f7f7f" stroke="#fff" stroke-width="0.3" />
<circle cx="115.00" cy="213.80" r="2.00" fill="#7f7f7f" stroke="#fff" stroke-width="0.3" />
<circle cx="120.00" cy="221.50" r="1.50" fill="#7f7f7f" stroke="#fff" stroke-width="0.3" />
<circle cx="84.00" cy="214.50" r="1.20" fill="#7f7f7f" stroke="#fff" stroke-width="0.3" />
<circle cx="88.00" cy="206.00" r="1.20" fill="#7f7f7f" stroke="#fff" stroke-width="0.3" />
<circle cx="47.60" cy="229.30" r="1.80" fill="#7f7f7f" stroke="#fff" stroke-width="0.3" />
<circle cx="51.10" cy="233.30" r="2.50" fill="#7f7f7f" stroke="#fff" stroke-width="0.3" />
<circle cx="54.60" cy="238.20" r="3.00" fill="#7f7f7f" stroke="#fff" stroke-width="0.3" />
<circle cx="68.60" cy="240.00" r="2.50" fill="#7f7f7f" stroke="#fff" stroke-width="0.3" />
<circle cx="71.40" cy="240.00" r="2.50" fill="#7f7f7f" stroke="#fff" stroke-width="0.3" />
<circle cx="73.50" cy="232.10" r="2.50" fill="#7f7f7f" stroke="#fff" stroke-width="0.3" />
<circle cx="90.90" cy="243.80" r="1.80" fill="#7f7f7f" stroke="#fff" stroke-width="0.3" />
<circle cx="101.00" cy="230.00" r="1.50" fill="#7f7f7f" stroke="#fff" stroke-width="0.3" />
<circle cx="107.50" cy="233.00" r="1.60" fill="#7f7f7f" stroke="#fff" stroke-width="0.3" />
<circle cx="98.00" cy="236.50" r="1.40" fill="#7f7f7f" stroke="#fff" stroke-width="0.3" />
<circle cx="164.70" cy="221.10" r="1.00" fill="#7f7f7f" stroke="#fff" stroke-width="0.3" />
<circle cx="179.50" cy="222.00" r="1.50" fill="#7f7f7f" stroke="#fff" stroke-width="0.3" />
<circle cx="150.00" cy="223.50" r="1.10" fill="#7f7f7f" stroke="#fff" stroke-width="0.3" />
<circle cx="140.00" cy="222.00" r="1.20" fill="#7f7f7f" stroke="#fff" stroke-width="0.3" />
<circle cx="61.50" cy="222.00" r="1.30" fill="#7f7f7f" stroke="#fff" stroke-width="0.3" />
<circle cx="71.60" cy="180.10" r="3.30" fill="#2f93b0" />
<circle cx="55.60" cy="212.90" r="4.30" fill="#2f93b0" />
<circle cx="71.40" cy="212.70" r="4.20" fill="#2f93b0" />
<circle cx="62.60" cy="212.00" r="1.80" fill="#2f93b0" />
<circle cx="67.00" cy="218.50" r="1.80" fill="#2f93b0" />
<circle cx="71.70" cy="219.00" r="1.50" fill="#2f93b0" />
<circle cx="74.30" cy="219.50" r="1.50" fill="#2f93b0" />
<circle cx="74.50" cy="212.50" r="1.30" fill="#2f93b0" />
<circle cx="71.40" cy="212.70" r="2.60" fill="none" stroke="#7fc0d2" stroke-width="0.5" />
<circle cx="125.20" cy="133.40" r="3.30" fill="#e8696a" />
<circle cx="131.90" cy="135.90" r="2.00" fill="#e8696a" />
<circle cx="133.80" cy="140.20" r="2.00" fill="#e8696a" />
<circle cx="138.50" cy="138.30" r="1.80" fill="#e8696a" />
<circle cx="168.70" cy="140.00" r="2.30" fill="#e8696a" />
<circle cx="165.10" cy="148.20" r="2.00" fill="#e8696a" />
<circle cx="182.70" cy="188.70" r="2.00" fill="#e8696a" />
<circle cx="219.80" cy="196.60" r="1.50" fill="#e8696a" />
<circle cx="183.60" cy="207.60" r="2.20" fill="#e8696a" />
<circle cx="196.20" cy="207.00" r="1.20" fill="#e8696a" />
<circle cx="187.70" cy="215.20" r="1.50" fill="#e8696a" />
<circle cx="120.50" cy="192.20" r="1.50" fill="#e8696a" />
<circle cx="127.40" cy="196.00" r="2.00" fill="#e8696a" />
<circle cx="122.00" cy="197.00" r="1.50" fill="#e8696a" />
<circle cx="141.60" cy="191.30" r="1.50" fill="#e8696a" />
<circle cx="154.20" cy="196.00" r="1.50" fill="#e8696a" />
<circle cx="121.80" cy="204.50" r="2.00" fill="#e8696a" />
<circle cx="126.80" cy="207.60" r="2.00" fill="#e8696a" />
<circle cx="145.40" cy="203.20" r="2.00" fill="#e8696a" />
<circle cx="147.90" cy="202.30" r="1.50" fill="#e8696a" />
<circle cx="137.80" cy="211.70" r="1.50" fill="#e8696a" />
<circle cx="144.10" cy="212.60" r="1.00" fill="#e8696a" />
<circle cx="132.80" cy="218.60" r="2.00" fill="#e8696a" />
<circle cx="133.80" cy="217.90" r="1.30" fill="#e8696a" />
<text x="137.00" y="135.30" font-size="6.3" font-style="italic" fill="#222"  stroke="#222" stroke-width="0.05">Fn. polymorphum</text>
<text x="170.8" y="150.6" font-size="6.3" fill="#222" stroke="#222" stroke-width="0.05"><tspan font-style="italic">Fn. animalis</tspan> C2</text>
<text x="121.80" y="154.30" font-size="6.3" font-style="italic" fill="#222"  stroke="#222" stroke-width="0.05">Fn. vincentii</text>
<text x="167.90" y="161.30" font-size="6.3" font-style="italic" fill="#222"  stroke="#222" stroke-width="0.05">Fn. nucleatum</text>
<text x="116.70" y="163.70" font-size="6.3" font-style="italic" fill="#222"  stroke="#222" stroke-width="0.05">Fusobacterium</text>
<text x="42.30" y="176.20" font-size="6.3" font-style="italic" fill="#222"  stroke="#222" stroke-width="0.05">Streptococcus</text>
<text x="42.30" y="194.90" font-size="6.3" font-style="italic" fill="#222"  stroke="#222" stroke-width="0.05">Escherichia</text>
<text x="55.60" y="201.90" font-size="6.3" font-style="italic" fill="#222"  stroke="#222" stroke-width="0.05">E. coli</text>
<line x1="137.00" y1="131.50" x2="132.80" y2="135.00" stroke="#222" stroke-width="0.5" />
<line x1="169.50" y1="141.00" x2="172.50" y2="144.50" stroke="#222" stroke-width="0.5" />
<line x1="134.20" y1="141.00" x2="138.00" y2="149.50" stroke="#222" stroke-width="0.5" />
<line x1="138.50" y1="138.30" x2="166.40" y2="155.80" stroke="#222" stroke-width="0.5" />
<line x1="125.20" y1="134.00" x2="117.60" y2="156.00" stroke="#222" stroke-width="0.5" />
<line x1="50.00" y1="195.50" x2="54.80" y2="209.50" stroke="#222" stroke-width="0.5" />
<line x1="70.00" y1="202.00" x2="71.00" y2="209.50" stroke="#222" stroke-width="0.5" />
<rect x="137.50" y="301.20" width="265.47" height="10.60" fill="#ebebeb" />
<rect x="407.10" y="301.20" width="117.18" height="10.60" fill="#ebebeb" />
<text x="270.24" y="308.80" font-size="6.0" text-anchor="middle" font-weight="bold" fill="#1a1a1a"  stroke="#1a1a1a" stroke-width="0.05">Driver gene</text>
<text x="465.69" y="308.80" font-size="6.0" text-anchor="middle" font-weight="bold" fill="#1a1a1a"  stroke="#1a1a1a" stroke-width="0.05">DDR gene</text>
<rect x="137.50" y="311.80" width="265.47" height="44.00" fill="#fff" stroke="#666" stroke-width="0.5" />
<rect x="407.10" y="311.80" width="117.18" height="44.00" fill="#fff" stroke="#666" stroke-width="0.5" />
<rect x="139.19" y="316.68" width="3.10" height="38.92" fill="#595959" />
<rect x="145.66" y="319.46" width="3.10" height="36.14" fill="#595959" />
<rect x="152.14" y="322.24" width="3.10" height="33.36" fill="#595959" />
<rect x="158.61" y="325.02" width="3.10" height="30.58" fill="#595959" />
<rect x="165.09" y="327.80" width="3.10" height="27.80" fill="#595959" />
<rect x="171.56" y="327.80" width="3.10" height="27.80" fill="#595959" />
<rect x="178.04" y="330.58" width="3.10" height="25.02" fill="#595959" />
<rect x="184.51" y="336.14" width="3.10" height="19.46" fill="#595959" />
<rect x="190.99" y="338.92" width="3.10" height="16.68" fill="#595959" />
<rect x="197.46" y="338.92" width="3.10" height="16.68" fill="#595959" />
<rect x="203.94" y="338.92" width="3.10" height="16.68" fill="#595959" />
<rect x="210.41" y="341.70" width="3.10" height="13.90" fill="#595959" />
<rect x="216.89" y="344.48" width="3.10" height="11.12" fill="#595959" />
<rect x="223.36" y="344.48" width="3.10" height="11.12" fill="#595959" />
<rect x="229.84" y="344.48" width="3.10" height="11.12" fill="#595959" />
<rect x="236.31" y="347.26" width="3.10" height="8.34" fill="#595959" />
<rect x="242.79" y="347.26" width="3.10" height="8.34" fill="#595959" />
<rect x="249.26" y="350.04" width="3.10" height="5.56" fill="#595959" />
<rect x="255.74" y="350.04" width="3.10" height="5.56" fill="#595959" />
<rect x="262.21" y="350.04" width="3.10" height="5.56" fill="#595959" />
<rect x="268.69" y="350.04" width="3.10" height="5.56" fill="#595959" />
<rect x="275.16" y="350.04" width="3.10" height="5.56" fill="#595959" />
<rect x="281.64" y="350.04" width="3.10" height="5.56" fill="#595959" />
<rect x="288.11" y="352.82" width="3.10" height="2.78" fill="#595959" />
<rect x="294.59" y="352.82" width="3.10" height="2.78" fill="#595959" />
<rect x="301.06" y="352.82" width="3.10" height="2.78" fill="#595959" />
<rect x="307.54" y="352.82" width="3.10" height="2.78" fill="#595959" />
<rect x="314.01" y="352.82" width="3.10" height="2.78" fill="#595959" />
<rect x="320.49" y="352.82" width="3.10" height="2.78" fill="#595959" />
<rect x="326.96" y="352.82" width="3.10" height="2.78" fill="#595959" />
<rect x="333.44" y="352.82" width="3.10" height="2.78" fill="#595959" />
<rect x="339.91" y="352.82" width="3.10" height="2.78" fill="#595959" />
<rect x="346.39" y="352.82" width="3.10" height="2.78" fill="#595959" />
<rect x="352.86" y="352.82" width="3.10" height="2.78" fill="#595959" />
<rect x="359.34" y="352.82" width="3.10" height="2.78" fill="#595959" />
<rect x="365.81" y="352.82" width="3.10" height="2.78" fill="#595959" />
<rect x="372.29" y="352.82" width="3.10" height="2.78" fill="#595959" />
<rect x="378.76" y="352.82" width="3.10" height="2.78" fill="#595959" />
<rect x="385.24" y="352.82" width="3.10" height="2.78" fill="#595959" />
<rect x="391.71" y="352.82" width="3.10" height="2.78" fill="#595959" />
<rect x="398.19" y="344.48" width="3.10" height="11.12" fill="#595959" />
<rect x="408.81" y="322.24" width="3.10" height="33.36" fill="#595959" />
<rect x="415.31" y="327.80" width="3.10" height="27.80" fill="#595959" />
<rect x="421.82" y="338.92" width="3.10" height="16.68" fill="#595959" />
<rect x="428.34" y="341.70" width="3.10" height="13.90" fill="#595959" />
<rect x="434.85" y="344.48" width="3.10" height="11.12" fill="#595959" />
<rect x="441.36" y="347.26" width="3.10" height="8.34" fill="#595959" />
<rect x="447.87" y="347.26" width="3.10" height="8.34" fill="#595959" />
<rect x="454.38" y="347.26" width="3.10" height="8.34" fill="#595959" />
<rect x="460.88" y="350.04" width="3.10" height="5.56" fill="#595959" />
<rect x="467.40" y="350.04" width="3.10" height="5.56" fill="#595959" />
<rect x="473.91" y="352.82" width="3.10" height="2.78" fill="#595959" />
<rect x="480.42" y="352.82" width="3.10" height="2.78" fill="#595959" />
<rect x="486.93" y="352.82" width="3.10" height="2.78" fill="#595959" />
<rect x="493.44" y="352.82" width="3.10" height="2.78" fill="#595959" />
<rect x="499.94" y="352.82" width="3.10" height="2.78" fill="#595959" />
<rect x="506.45" y="352.82" width="3.10" height="2.78" fill="#595959" />
<rect x="512.97" y="352.82" width="3.10" height="2.78" fill="#595959" />
<rect x="519.48" y="352.82" width="3.10" height="2.78" fill="#595959" />
<line x1="135.30" y1="355.60" x2="137.50" y2="355.60" stroke="#333" stroke-width="0.5" />
<text x="134.40" y="358.70" font-size="8.9" text-anchor="end" fill="#333"  stroke="#333" stroke-width="0.05">0</text>
<line x1="135.30" y1="341.70" x2="137.50" y2="341.70" stroke="#333" stroke-width="0.5" />
<text x="134.40" y="344.80" font-size="8.9" text-anchor="end" fill="#333"  stroke="#333" stroke-width="0.05">5</text>
<line x1="135.30" y1="327.80" x2="137.50" y2="327.80" stroke="#333" stroke-width="0.5" />
<text x="134.40" y="330.90" font-size="8.9" text-anchor="end" fill="#333"  stroke="#333" stroke-width="0.05">10</text>
<line x1="135.30" y1="313.90" x2="137.50" y2="313.90" stroke="#333" stroke-width="0.5" />
<text x="134.40" y="317.00" font-size="8.9" text-anchor="end" fill="#333"  stroke="#333" stroke-width="0.05">15</text>
<text x="106.00" y="328.50" font-size="6.5" text-anchor="middle" fill="#222" transform="rotate(-90 106.00 328.50)"  stroke="#222" stroke-width="0.05">Number of consistently</text>
<text x="113.40" y="328.50" font-size="6.5" text-anchor="middle" fill="#222" transform="rotate(-90 113.40 328.50)"  stroke="#222" stroke-width="0.05">associated taxa</text>
<rect x="137.50" y="361.10" width="6.47" height="6.13" fill="#e8898b" />
<rect x="143.97" y="361.10" width="6.47" height="6.13" fill="#e8898b" />
<rect x="150.45" y="361.10" width="6.47" height="6.13" fill="#fde2d8" />
<rect x="156.93" y="361.10" width="6.47" height="6.13" fill="#e8898b" />
<rect x="163.40" y="361.10" width="6.47" height="6.13" fill="#fde2d8" />
<rect x="169.88" y="361.10" width="6.47" height="6.13" fill="#fde2d8" />
<rect x="176.35" y="361.10" width="6.47" height="6.13" fill="#fde2d8" />
<rect x="182.82" y="361.10" width="6.47" height="6.13" fill="#fde2d8" />
<rect x="189.30" y="361.10" width="6.47" height="6.13" fill="#e8898b" />
<rect x="202.25" y="361.10" width="6.47" height="6.13" fill="#e8898b" />
<rect x="208.72" y="361.10" width="6.47" height="6.13" fill="#e8898b" />
<rect x="221.68" y="361.10" width="6.47" height="6.13" fill="#fde2d8" />
<rect x="228.15" y="361.10" width="6.47" height="6.13" fill="#e8898b" />
<rect x="234.62" y="361.10" width="6.47" height="6.13" fill="#e8898b" />
<rect x="241.10" y="361.10" width="6.47" height="6.13" fill="#fde2d8" />
<rect x="247.57" y="361.10" width="6.47" height="6.13" fill="#fde2d8" />
<rect x="267.00" y="361.10" width="6.47" height="6.13" fill="#e8898b" />
<rect x="292.90" y="361.10" width="6.47" height="6.13" fill="#fde2d8" />
<rect x="318.80" y="361.10" width="6.47" height="6.13" fill="#fde2d8" />
<rect x="331.75" y="361.10" width="6.47" height="6.13" fill="#fde2d8" />
<rect x="357.65" y="361.10" width="6.47" height="6.13" fill="#fde2d8" />
<rect x="370.60" y="361.10" width="6.47" height="6.13" fill="#fde2d8" />
<rect x="377.07" y="361.10" width="6.47" height="6.13" fill="#fde2d8" />
<rect x="390.02" y="361.10" width="6.47" height="6.13" fill="#fde2d8" />
<rect x="407.10" y="361.10" width="6.51" height="6.13" fill="#fde2d8" />
<rect x="413.61" y="361.10" width="6.51" height="6.13" fill="#e8898b" />
<rect x="420.12" y="361.10" width="6.51" height="6.13" fill="#fde2d8" />
<rect x="433.14" y="361.10" width="6.51" height="6.13" fill="#fde2d8" />
<rect x="446.16" y="361.10" width="6.51" height="6.13" fill="#fde2d8" />
<rect x="452.67" y="361.10" width="6.51" height="6.13" fill="#e8898b" />
<rect x="459.18" y="361.10" width="6.51" height="6.13" fill="#fde2d8" />
<rect x="465.69" y="361.10" width="6.51" height="6.13" fill="#fde2d8" />
<rect x="478.71" y="361.10" width="6.51" height="6.13" fill="#fde2d8" />
<rect x="485.22" y="361.10" width="6.51" height="6.13" fill="#fde2d8" />
<rect x="491.73" y="361.10" width="6.51" height="6.13" fill="#fde2d8" />
<rect x="517.77" y="361.10" width="6.51" height="6.13" fill="#fde2d8" />
<rect x="137.50" y="367.23" width="6.47" height="6.13" fill="#e8898b" />
<rect x="143.97" y="367.23" width="6.47" height="6.13" fill="#e8898b" />
<rect x="150.45" y="367.23" width="6.47" height="6.13" fill="#fde2d8" />
<rect x="156.93" y="367.23" width="6.47" height="6.13" fill="#e8898b" />
<rect x="163.40" y="367.23" width="6.47" height="6.13" fill="#fde2d8" />
<rect x="169.88" y="367.23" width="6.47" height="6.13" fill="#fde2d8" />
<rect x="176.35" y="367.23" width="6.47" height="6.13" fill="#fde2d8" />
<rect x="182.82" y="367.23" width="6.47" height="6.13" fill="#fde2d8" />
<rect x="189.30" y="367.23" width="6.47" height="6.13" fill="#e8898b" />
<rect x="195.78" y="367.23" width="6.47" height="6.13" fill="#fde2d8" />
<rect x="202.25" y="367.23" width="6.47" height="6.13" fill="#fde2d8" />
<rect x="208.72" y="367.23" width="6.47" height="6.13" fill="#fde2d8" />
<rect x="228.15" y="367.23" width="6.47" height="6.13" fill="#e8898b" />
<rect x="241.10" y="367.23" width="6.47" height="6.13" fill="#fde2d8" />
<rect x="247.57" y="367.23" width="6.47" height="6.13" fill="#fde2d8" />
<rect x="273.48" y="367.23" width="6.47" height="6.13" fill="#fde2d8" />
<rect x="279.95" y="367.23" width="6.47" height="6.13" fill="#fde2d8" />
<rect x="299.38" y="367.23" width="6.47" height="6.13" fill="#fde2d8" />
<rect x="305.85" y="367.23" width="6.47" height="6.13" fill="#fde2d8" />
<rect x="331.75" y="367.23" width="6.47" height="6.13" fill="#fde2d8" />
<rect x="351.17" y="367.23" width="6.47" height="6.13" fill="#fde2d8" />
<rect x="364.12" y="367.23" width="6.47" height="6.13" fill="#fde2d8" />
<rect x="396.50" y="367.23" width="6.47" height="6.13" fill="#9dcbf7" />
<rect x="407.10" y="367.23" width="6.51" height="6.13" fill="#fde2d8" />
<rect x="413.61" y="367.23" width="6.51" height="6.13" fill="#fde2d8" />
<rect x="426.63" y="367.23" width="6.51" height="6.13" fill="#fde2d8" />
<rect x="433.14" y="367.23" width="6.51" height="6.13" fill="#fde2d8" />
<rect x="446.16" y="367.23" width="6.51" height="6.13" fill="#fde2d8" />
<rect x="452.67" y="367.23" width="6.51" height="6.13" fill="#fde2d8" />
<rect x="465.69" y="367.23" width="6.51" height="6.13" fill="#fde2d8" />
<rect x="491.73" y="367.23" width="6.51" height="6.13" fill="#fde2d8" />
<rect x="511.26" y="367.23" width="6.51" height="6.13" fill="#fde2d8" />
<rect x="137.50" y="373.36" width="6.47" height="6.13" fill="#e8898b" />
<rect x="143.97" y="373.36" width="6.47" height="6.13" fill="#fde2d8" />
<rect x="150.45" y="373.36" width="6.47" height="6.13" fill="#fde2d8" />
<rect x="156.93" y="373.36" width="6.47" height="6.13" fill="#e8898b" />
<rect x="163.40" y="373.36" width="6.47" height="6.13" fill="#fde2d8" />
<rect x="176.35" y="373.36" width="6.47" height="6.13" fill="#fde2d8" />
<rect x="182.82" y="373.36" width="6.47" height="6.13" fill="#fde2d8" />
<rect x="189.30" y="373.36" width="6.47" height="6.13" fill="#e8898b" />
<rect x="195.78" y="373.36" width="6.47" height="6.13" fill="#fde2d8" />
<rect x="202.25" y="373.36" width="6.47" height="6.13" fill="#fde2d8" />
<rect x="208.72" y="373.36" width="6.47" height="6.13" fill="#e8898b" />
<rect x="215.20" y="373.36" width="6.47" height="6.13" fill="#fde2d8" />
<rect x="221.68" y="373.36" width="6.47" height="6.13" fill="#fde2d8" />
<rect x="228.15" y="373.36" width="6.47" height="6.13" fill="#e8898b" />
<rect x="234.62" y="373.36" width="6.47" height="6.13" fill="#fde2d8" />
<rect x="267.00" y="373.36" width="6.47" height="6.13" fill="#fde2d8" />
<rect x="305.85" y="373.36" width="6.47" height="6.13" fill="#fde2d8" />
<rect x="344.70" y="373.36" width="6.47" height="6.13" fill="#fde2d8" />
<rect x="351.17" y="373.36" width="6.47" height="6.13" fill="#fde2d8" />
<rect x="370.60" y="373.36" width="6.47" height="6.13" fill="#fde2d8" />
<rect x="407.10" y="373.36" width="6.51" height="6.13" fill="#fde2d8" />
<rect x="413.61" y="373.36" width="6.51" height="6.13" fill="#fde2d8" />
<rect x="420.12" y="373.36" width="6.51" height="6.13" fill="#fde2d8" />
<rect x="433.14" y="373.36" width="6.51" height="6.13" fill="#fde2d8" />
<rect x="452.67" y="373.36" width="6.51" height="6.13" fill="#fde2d8" />
<rect x="491.73" y="373.36" width="6.51" height="6.13" fill="#fde2d8" />
<rect x="504.75" y="373.36" width="6.51" height="6.13" fill="#fde2d8" />
<rect x="137.50" y="379.49" width="6.47" height="6.13" fill="#e8898b" />
<rect x="143.97" y="379.49" width="6.47" height="6.13" fill="#e8898b" />
<rect x="150.45" y="379.49" width="6.47" height="6.13" fill="#fde2d8" />
<rect x="156.93" y="379.49" width="6.47" height="6.13" fill="#e8898b" />
<rect x="163.40" y="379.49" width="6.47" height="6.13" fill="#e8898b" />
<rect x="169.88" y="379.49" width="6.47" height="6.13" fill="#e8898b" />
<rect x="176.35" y="379.49" width="6.47" height="6.13" fill="#e8898b" />
<rect x="182.82" y="379.49" width="6.47" height="6.13" fill="#fde2d8" />
<rect x="189.30" y="379.49" width="6.47" height="6.13" fill="#e8898b" />
<rect x="202.25" y="379.49" width="6.47" height="6.13" fill="#e8898b" />
<rect x="208.72" y="379.49" width="6.47" height="6.13" fill="#e8898b" />
<rect x="215.20" y="379.49" width="6.47" height="6.13" fill="#fde2d8" />
<rect x="221.68" y="379.49" width="6.47" height="6.13" fill="#fde2d8" />
<rect x="228.15" y="379.49" width="6.47" height="6.13" fill="#e8898b" />
<rect x="234.62" y="379.49" width="6.47" height="6.13" fill="#e8898b" />
<rect x="241.10" y="379.49" width="6.47" height="6.13" fill="#e8898b" />
<rect x="247.57" y="379.49" width="6.47" height="6.13" fill="#fde2d8" />
<rect x="267.00" y="379.49" width="6.47" height="6.13" fill="#e8898b" />
<rect x="286.42" y="379.49" width="6.47" height="6.13" fill="#fde2d8" />
<rect x="292.90" y="379.49" width="6.47" height="6.13" fill="#fde2d8" />
<rect x="299.38" y="379.49" width="6.47" height="6.13" fill="#fde2d8" />
<rect x="305.85" y="379.49" width="6.47" height="6.13" fill="#e8898b" />
<rect x="325.27" y="379.49" width="6.47" height="6.13" fill="#fde2d8" />
<rect x="331.75" y="379.49" width="6.47" height="6.13" fill="#fde2d8" />
<rect x="351.17" y="379.49" width="6.47" height="6.13" fill="#fde2d8" />
<rect x="370.60" y="379.49" width="6.47" height="6.13" fill="#fde2d8" />
<rect x="377.07" y="379.49" width="6.47" height="6.13" fill="#fde2d8" />
<rect x="396.50" y="379.49" width="6.47" height="6.13" fill="#9dcbf7" />
<rect x="407.10" y="379.49" width="6.51" height="6.13" fill="#e8898b" />
<rect x="413.61" y="379.49" width="6.51" height="6.13" fill="#e8898b" />
<rect x="433.14" y="379.49" width="6.51" height="6.13" fill="#fde2d8" />
<rect x="446.16" y="379.49" width="6.51" height="6.13" fill="#e8898b" />
<rect x="452.67" y="379.49" width="6.51" height="6.13" fill="#fde2d8" />
<rect x="459.18" y="379.49" width="6.51" height="6.13" fill="#fde2d8" />
<rect x="465.69" y="379.49" width="6.51" height="6.13" fill="#e8898b" />
<rect x="472.20" y="379.49" width="6.51" height="6.13" fill="#fde2d8" />
<rect x="478.71" y="379.49" width="6.51" height="6.13" fill="#fde2d8" />
<rect x="491.73" y="379.49" width="6.51" height="6.13" fill="#fde2d8" />
<rect x="498.24" y="379.49" width="6.51" height="6.13" fill="#fde2d8" />
<rect x="511.26" y="379.49" width="6.51" height="6.13" fill="#fde2d8" />
<rect x="517.77" y="379.49" width="6.51" height="6.13" fill="#e8898b" />
<rect x="137.50" y="385.62" width="6.47" height="6.13" fill="#e8898b" />
<rect x="143.97" y="385.62" width="6.47" height="6.13" fill="#e8898b" />
<rect x="150.45" y="385.62" width="6.47" height="6.13" fill="#fde2d8" />
<rect x="156.93" y="385.62" width="6.47" height="6.13" fill="#e8898b" />
<rect x="163.40" y="385.62" width="6.47" height="6.13" fill="#fde2d8" />
<rect x="169.88" y="385.62" width="6.47" height="6.13" fill="#fde2d8" />
<rect x="176.35" y="385.62" width="6.47" height="6.13" fill="#fde2d8" />
<rect x="182.82" y="385.62" width="6.47" height="6.13" fill="#e8898b" />
<rect x="189.30" y="385.62" width="6.47" height="6.13" fill="#e8898b" />
<rect x="195.78" y="385.62" width="6.47" height="6.13" fill="#fde2d8" />
<rect x="202.25" y="385.62" width="6.47" height="6.13" fill="#e8898b" />
<rect x="208.72" y="385.62" width="6.47" height="6.13" fill="#e8898b" />
<rect x="215.20" y="385.62" width="6.47" height="6.13" fill="#fde2d8" />
<rect x="228.15" y="385.62" width="6.47" height="6.13" fill="#e8898b" />
<rect x="234.62" y="385.62" width="6.47" height="6.13" fill="#fde2d8" />
<rect x="241.10" y="385.62" width="6.47" height="6.13" fill="#fde2d8" />
<rect x="247.57" y="385.62" width="6.47" height="6.13" fill="#fde2d8" />
<rect x="273.48" y="385.62" width="6.47" height="6.13" fill="#fde2d8" />
<rect x="279.95" y="385.62" width="6.47" height="6.13" fill="#fde2d8" />
<rect x="286.42" y="385.62" width="6.47" height="6.13" fill="#fde2d8" />
<rect x="292.90" y="385.62" width="6.47" height="6.13" fill="#fde2d8" />
<rect x="299.38" y="385.62" width="6.47" height="6.13" fill="#fde2d8" />
<rect x="305.85" y="385.62" width="6.47" height="6.13" fill="#e8898b" />
<rect x="331.75" y="385.62" width="6.47" height="6.13" fill="#fde2d8" />
<rect x="351.17" y="385.62" width="6.47" height="6.13" fill="#fde2d8" />
<rect x="357.65" y="385.62" width="6.47" height="6.13" fill="#fde2d8" />
<rect x="370.60" y="385.62" width="6.47" height="6.13" fill="#fde2d8" />
<rect x="396.50" y="385.62" width="6.47" height="6.13" fill="#9dcbf7" />
<rect x="407.10" y="385.62" width="6.51" height="6.13" fill="#fde2d8" />
<rect x="413.61" y="385.62" width="6.51" height="6.13" fill="#fde2d8" />
<rect x="420.12" y="385.62" width="6.51" height="6.13" fill="#fde2d8" />
<rect x="426.63" y="385.62" width="6.51" height="6.13" fill="#fde2d8" />
<rect x="433.14" y="385.62" width="6.51" height="6.13" fill="#fde2d8" />
<rect x="439.65" y="385.62" width="6.51" height="6.13" fill="#fde2d8" />
<rect x="446.16" y="385.62" width="6.51" height="6.13" fill="#fde2d8" />
<rect x="452.67" y="385.62" width="6.51" height="6.13" fill="#fde2d8" />
<rect x="465.69" y="385.62" width="6.51" height="6.13" fill="#fde2d8" />
<rect x="491.73" y="385.62" width="6.51" height="6.13" fill="#fde2d8" />
<rect x="511.26" y="385.62" width="6.51" height="6.13" fill="#fde2d8" />
<rect x="517.77" y="385.62" width="6.51" height="6.13" fill="#fde2d8" />
<rect x="137.50" y="391.75" width="6.47" height="6.13" fill="#e8898b" />
<rect x="143.97" y="391.75" width="6.47" height="6.13" fill="#e8898b" />
<rect x="156.93" y="391.75" width="6.47" height="6.13" fill="#e8898b" />
<rect x="163.40" y="391.75" width="6.47" height="6.13" fill="#fde2d8" />
<rect x="169.88" y="391.75" width="6.47" height="6.13" fill="#fde2d8" />
<rect x="176.35" y="391.75" width="6.47" height="6.13" fill="#fde2d8" />
<rect x="182.82" y="391.75" width="6.47" height="6.13" fill="#fde2d8" />
<rect x="189.30" y="391.75" width="6.47" height="6.13" fill="#e8898b" />
<rect x="195.78" y="391.75" width="6.47" height="6.13" fill="#fde2d8" />
<rect x="202.25" y="391.75" width="6.47" height="6.13" fill="#e8898b" />
<rect x="208.72" y="391.75" width="6.47" height="6.13" fill="#e8898b" />
<rect x="228.15" y="391.75" width="6.47" height="6.13" fill="#e8898b" />
<rect x="234.62" y="391.75" width="6.47" height="6.13" fill="#fde2d8" />
<rect x="241.10" y="391.75" width="6.47" height="6.13" fill="#fde2d8" />
<rect x="247.57" y="391.75" width="6.47" height="6.13" fill="#fde2d8" />
<rect x="273.48" y="391.75" width="6.47" height="6.13" fill="#fde2d8" />
<rect x="279.95" y="391.75" width="6.47" height="6.13" fill="#fde2d8" />
<rect x="292.90" y="391.75" width="6.47" height="6.13" fill="#fde2d8" />
<rect x="299.38" y="391.75" width="6.47" height="6.13" fill="#fde2d8" />
<rect x="305.85" y="391.75" width="6.47" height="6.13" fill="#fde2d8" />
<rect x="331.75" y="391.75" width="6.47" height="6.13" fill="#fde2d8" />
<rect x="351.17" y="391.75" width="6.47" height="6.13" fill="#fde2d8" />
<rect x="357.65" y="391.75" width="6.47" height="6.13" fill="#fde2d8" />
<rect x="364.12" y="391.75" width="6.47" height="6.13" fill="#fde2d8" />
<rect x="396.50" y="391.75" width="6.47" height="6.13" fill="#9dcbf7" />
<rect x="407.10" y="391.75" width="6.51" height="6.13" fill="#fde2d8" />
<rect x="413.61" y="391.75" width="6.51" height="6.13" fill="#fde2d8" />
<rect x="420.12" y="391.75" width="6.51" height="6.13" fill="#fde2d8" />
<rect x="426.63" y="391.75" width="6.51" height="6.13" fill="#fde2d8" />
<rect x="433.14" y="391.75" width="6.51" height="6.13" fill="#fde2d8" />
<rect x="446.16" y="391.75" width="6.51" height="6.13" fill="#fde2d8" />
<rect x="452.67" y="391.75" width="6.51" height="6.13" fill="#fde2d8" />
<rect x="465.69" y="391.75" width="6.51" height="6.13" fill="#fde2d8" />
<rect x="491.73" y="391.75" width="6.51" height="6.13" fill="#fde2d8" />
<rect x="137.50" y="397.88" width="6.47" height="6.13" fill="#fde2d8" />
<rect x="143.97" y="397.88" width="6.47" height="6.13" fill="#fde2d8" />
<rect x="156.93" y="397.88" width="6.47" height="6.13" fill="#e8898b" />
<rect x="163.40" y="397.88" width="6.47" height="6.13" fill="#fde2d8" />
<rect x="169.88" y="397.88" width="6.47" height="6.13" fill="#fde2d8" />
<rect x="176.35" y="397.88" width="6.47" height="6.13" fill="#fde2d8" />
<rect x="182.82" y="397.88" width="6.47" height="6.13" fill="#fde2d8" />
<rect x="189.30" y="397.88" width="6.47" height="6.13" fill="#e8898b" />
<rect x="195.78" y="397.88" width="6.47" height="6.13" fill="#fde2d8" />
<rect x="202.25" y="397.88" width="6.47" height="6.13" fill="#e8898b" />
<rect x="208.72" y="397.88" width="6.47" height="6.13" fill="#fde2d8" />
<rect x="221.68" y="397.88" width="6.47" height="6.13" fill="#fde2d8" />
<rect x="228.15" y="397.88" width="6.47" height="6.13" fill="#e8898b" />
<rect x="241.10" y="397.88" width="6.47" height="6.13" fill="#fde2d8" />
<rect x="247.57" y="397.88" width="6.47" height="6.13" fill="#fde2d8" />
<rect x="273.48" y="397.88" width="6.47" height="6.13" fill="#fde2d8" />
<rect x="279.95" y="397.88" width="6.47" height="6.13" fill="#fde2d8" />
<rect x="292.90" y="397.88" width="6.47" height="6.13" fill="#fde2d8" />
<rect x="299.38" y="397.88" width="6.47" height="6.13" fill="#fde2d8" />
<rect x="305.85" y="397.88" width="6.47" height="6.13" fill="#fde2d8" />
<rect x="331.75" y="397.88" width="6.47" height="6.13" fill="#fde2d8" />
<rect x="351.17" y="397.88" width="6.47" height="6.13" fill="#fde2d8" />
<rect x="357.65" y="397.88" width="6.47" height="6.13" fill="#fde2d8" />
<rect x="364.12" y="397.88" width="6.47" height="6.13" fill="#fde2d8" />
<rect x="370.60" y="397.88" width="6.47" height="6.13" fill="#fde2d8" />
<rect x="396.50" y="397.88" width="6.47" height="6.13" fill="#9dcbf7" />
<rect x="407.10" y="397.88" width="6.51" height="6.13" fill="#fde2d8" />
<rect x="413.61" y="397.88" width="6.51" height="6.13" fill="#fde2d8" />
<rect x="426.63" y="397.88" width="6.51" height="6.13" fill="#fde2d8" />
<rect x="433.14" y="397.88" width="6.51" height="6.13" fill="#fde2d8" />
<rect x="452.67" y="397.88" width="6.51" height="6.13" fill="#fde2d8" />
<rect x="465.69" y="397.88" width="6.51" height="6.13" fill="#fde2d8" />
<rect x="491.73" y="397.88" width="6.51" height="6.13" fill="#fde2d8" />
<rect x="137.50" y="404.01" width="6.47" height="6.13" fill="#e8898b" />
<rect x="143.97" y="404.01" width="6.47" height="6.13" fill="#e8898b" />
<rect x="150.45" y="404.01" width="6.47" height="6.13" fill="#fde2d8" />
<rect x="156.93" y="404.01" width="6.47" height="6.13" fill="#fde2d8" />
<rect x="163.40" y="404.01" width="6.47" height="6.13" fill="#fde2d8" />
<rect x="169.88" y="404.01" width="6.47" height="6.13" fill="#fde2d8" />
<rect x="176.35" y="404.01" width="6.47" height="6.13" fill="#fde2d8" />
<rect x="182.82" y="404.01" width="6.47" height="6.13" fill="#fde2d8" />
<rect x="189.30" y="404.01" width="6.47" height="6.13" fill="#e8898b" />
<rect x="202.25" y="404.01" width="6.47" height="6.13" fill="#fde2d8" />
<rect x="208.72" y="404.01" width="6.47" height="6.13" fill="#e8898b" />
<rect x="215.20" y="404.01" width="6.47" height="6.13" fill="#fde2d8" />
<rect x="228.15" y="404.01" width="6.47" height="6.13" fill="#e8898b" />
<rect x="241.10" y="404.01" width="6.47" height="6.13" fill="#fde2d8" />
<rect x="267.00" y="404.01" width="6.47" height="6.13" fill="#fde2d8" />
<rect x="273.48" y="404.01" width="6.47" height="6.13" fill="#fde2d8" />
<rect x="279.95" y="404.01" width="6.47" height="6.13" fill="#fde2d8" />
<rect x="292.90" y="404.01" width="6.47" height="6.13" fill="#fde2d8" />
<rect x="299.38" y="404.01" width="6.47" height="6.13" fill="#fde2d8" />
<rect x="305.85" y="404.01" width="6.47" height="6.13" fill="#fde2d8" />
<rect x="351.17" y="404.01" width="6.47" height="6.13" fill="#fde2d8" />
<rect x="364.12" y="404.01" width="6.47" height="6.13" fill="#fde2d8" />
<rect x="370.60" y="404.01" width="6.47" height="6.13" fill="#fde2d8" />
<rect x="396.50" y="404.01" width="6.47" height="6.13" fill="#9dcbf7" />
<rect x="407.10" y="404.01" width="6.51" height="6.13" fill="#fde2d8" />
<rect x="413.61" y="404.01" width="6.51" height="6.13" fill="#e8898b" />
<rect x="433.14" y="404.01" width="6.51" height="6.13" fill="#fde2d8" />
<rect x="439.65" y="404.01" width="6.51" height="6.13" fill="#fde2d8" />
<rect x="452.67" y="404.01" width="6.51" height="6.13" fill="#e8898b" />
<rect x="478.71" y="404.01" width="6.51" height="6.13" fill="#fde2d8" />
<rect x="491.73" y="404.01" width="6.51" height="6.13" fill="#fde2d8" />
<rect x="498.24" y="404.01" width="6.51" height="6.13" fill="#fde2d8" />
<rect x="137.50" y="410.14" width="6.47" height="6.13" fill="#e8898b" />
<rect x="143.97" y="410.14" width="6.47" height="6.13" fill="#e8898b" />
<rect x="150.45" y="410.14" width="6.47" height="6.13" fill="#fde2d8" />
<rect x="156.93" y="410.14" width="6.47" height="6.13" fill="#e8898b" />
<rect x="163.40" y="410.14" width="6.47" height="6.13" fill="#e8898b" />
<rect x="169.88" y="410.14" width="6.47" height="6.13" fill="#fde2d8" />
<rect x="176.35" y="410.14" width="6.47" height="6.13" fill="#fde2d8" />
<rect x="182.82" y="410.14" width="6.47" height="6.13" fill="#e8898b" />
<rect x="189.30" y="410.14" width="6.47" height="6.13" fill="#e8898b" />
<rect x="195.78" y="410.14" width="6.47" height="6.13" fill="#fde2d8" />
<rect x="202.25" y="410.14" width="6.47" height="6.13" fill="#e8898b" />
<rect x="208.72" y="410.14" width="6.47" height="6.13" fill="#e8898b" />
<rect x="215.20" y="410.14" width="6.47" height="6.13" fill="#e8898b" />
<rect x="221.68" y="410.14" width="6.47" height="6.13" fill="#fde2d8" />
<rect x="228.15" y="410.14" width="6.47" height="6.13" fill="#e8898b" />
<rect x="234.62" y="410.14" width="6.47" height="6.13" fill="#e8898b" />
<rect x="247.57" y="410.14" width="6.47" height="6.13" fill="#fde2d8" />
<rect x="260.52" y="410.14" width="6.47" height="6.13" fill="#fde2d8" />
<rect x="267.00" y="410.14" width="6.47" height="6.13" fill="#fde2d8" />
<rect x="273.48" y="410.14" width="6.47" height="6.13" fill="#fde2d8" />
<rect x="279.95" y="410.14" width="6.47" height="6.13" fill="#fde2d8" />
<rect x="292.90" y="410.14" width="6.47" height="6.13" fill="#fde2d8" />
<rect x="299.38" y="410.14" width="6.47" height="6.13" fill="#fde2d8" />
<rect x="305.85" y="410.14" width="6.47" height="6.13" fill="#e8898b" />
<rect x="312.32" y="410.14" width="6.47" height="6.13" fill="#fde2d8" />
<rect x="331.75" y="410.14" width="6.47" height="6.13" fill="#fde2d8" />
<rect x="351.17" y="410.14" width="6.47" height="6.13" fill="#fde2d8" />
<rect x="370.60" y="410.14" width="6.47" height="6.13" fill="#fde2d8" />
<rect x="407.10" y="410.14" width="6.51" height="6.13" fill="#e8898b" />
<rect x="413.61" y="410.14" width="6.51" height="6.13" fill="#e8898b" />
<rect x="420.12" y="410.14" width="6.51" height="6.13" fill="#fde2d8" />
<rect x="426.63" y="410.14" width="6.51" height="6.13" fill="#fde2d8" />
<rect x="433.14" y="410.14" width="6.51" height="6.13" fill="#fde2d8" />
<rect x="439.65" y="410.14" width="6.51" height="6.13" fill="#fde2d8" />
<rect x="446.16" y="410.14" width="6.51" height="6.13" fill="#fde2d8" />
<rect x="452.67" y="410.14" width="6.51" height="6.13" fill="#e8898b" />
<rect x="465.69" y="410.14" width="6.51" height="6.13" fill="#fde2d8" />
<rect x="478.71" y="410.14" width="6.51" height="6.13" fill="#fde2d8" />
<rect x="485.22" y="410.14" width="6.51" height="6.13" fill="#fde2d8" />
<rect x="491.73" y="410.14" width="6.51" height="6.13" fill="#fde2d8" />
<rect x="504.75" y="410.14" width="6.51" height="6.13" fill="#fde2d8" />
<rect x="511.26" y="410.14" width="6.51" height="6.13" fill="#fde2d8" />
<rect x="517.77" y="410.14" width="6.51" height="6.13" fill="#fde2d8" />
<rect x="137.50" y="416.27" width="6.47" height="6.13" fill="#e8898b" />
<rect x="143.97" y="416.27" width="6.47" height="6.13" fill="#e8898b" />
<rect x="150.45" y="416.27" width="6.47" height="6.13" fill="#fde2d8" />
<rect x="156.93" y="416.27" width="6.47" height="6.13" fill="#e8898b" />
<rect x="163.40" y="416.27" width="6.47" height="6.13" fill="#e8898b" />
<rect x="176.35" y="416.27" width="6.47" height="6.13" fill="#fde2d8" />
<rect x="182.82" y="416.27" width="6.47" height="6.13" fill="#fde2d8" />
<rect x="189.30" y="416.27" width="6.47" height="6.13" fill="#e8898b" />
<rect x="202.25" y="416.27" width="6.47" height="6.13" fill="#fde2d8" />
<rect x="208.72" y="416.27" width="6.47" height="6.13" fill="#e8898b" />
<rect x="215.20" y="416.27" width="6.47" height="6.13" fill="#fde2d8" />
<rect x="221.68" y="416.27" width="6.47" height="6.13" fill="#fde2d8" />
<rect x="228.15" y="416.27" width="6.47" height="6.13" fill="#e8898b" />
<rect x="234.62" y="416.27" width="6.47" height="6.13" fill="#fde2d8" />
<rect x="292.90" y="416.27" width="6.47" height="6.13" fill="#fde2d8" />
<rect x="305.85" y="416.27" width="6.47" height="6.13" fill="#fde2d8" />
<rect x="331.75" y="416.27" width="6.47" height="6.13" fill="#fde2d8" />
<rect x="370.60" y="416.27" width="6.47" height="6.13" fill="#fde2d8" />
<rect x="407.10" y="416.27" width="6.51" height="6.13" fill="#fde2d8" />
<rect x="413.61" y="416.27" width="6.51" height="6.13" fill="#fde2d8" />
<rect x="433.14" y="416.27" width="6.51" height="6.13" fill="#fde2d8" />
<rect x="452.67" y="416.27" width="6.51" height="6.13" fill="#fde2d8" />
<rect x="465.69" y="416.27" width="6.51" height="6.13" fill="#fde2d8" />
<rect x="472.20" y="416.27" width="6.51" height="6.13" fill="#fde2d8" />
<rect x="137.50" y="422.40" width="6.47" height="6.13" fill="#e8898b" />
<rect x="143.97" y="422.40" width="6.47" height="6.13" fill="#e8898b" />
<rect x="156.93" y="422.40" width="6.47" height="6.13" fill="#fde2d8" />
<rect x="163.40" y="422.40" width="6.47" height="6.13" fill="#e8898b" />
<rect x="169.88" y="422.40" width="6.47" height="6.13" fill="#e8898b" />
<rect x="182.82" y="422.40" width="6.47" height="6.13" fill="#e8898b" />
<rect x="189.30" y="422.40" width="6.47" height="6.13" fill="#e8898b" />
<rect x="202.25" y="422.40" width="6.47" height="6.13" fill="#e8898b" />
<rect x="208.72" y="422.40" width="6.47" height="6.13" fill="#e8898b" />
<rect x="215.20" y="422.40" width="6.47" height="6.13" fill="#fde2d8" />
<rect x="228.15" y="422.40" width="6.47" height="6.13" fill="#fde2d8" />
<rect x="234.62" y="422.40" width="6.47" height="6.13" fill="#e8898b" />
<rect x="241.10" y="422.40" width="6.47" height="6.13" fill="#e8898b" />
<rect x="247.57" y="422.40" width="6.47" height="6.13" fill="#e8898b" />
<rect x="286.42" y="422.40" width="6.47" height="6.13" fill="#fde2d8" />
<rect x="292.90" y="422.40" width="6.47" height="6.13" fill="#fde2d8" />
<rect x="305.85" y="422.40" width="6.47" height="6.13" fill="#e8898b" />
<rect x="318.80" y="422.40" width="6.47" height="6.13" fill="#fde2d8" />
<rect x="338.23" y="422.40" width="6.47" height="6.13" fill="#fde2d8" />
<rect x="351.17" y="422.40" width="6.47" height="6.13" fill="#fde2d8" />
<rect x="357.65" y="422.40" width="6.47" height="6.13" fill="#fde2d8" />
<rect x="370.60" y="422.40" width="6.47" height="6.13" fill="#fde2d8" />
<rect x="377.07" y="422.40" width="6.47" height="6.13" fill="#fde2d8" />
<rect x="390.02" y="422.40" width="6.47" height="6.13" fill="#fde2d8" />
<rect x="407.10" y="422.40" width="6.51" height="6.13" fill="#e8898b" />
<rect x="413.61" y="422.40" width="6.51" height="6.13" fill="#e8898b" />
<rect x="446.16" y="422.40" width="6.51" height="6.13" fill="#fde2d8" />
<rect x="452.67" y="422.40" width="6.51" height="6.13" fill="#fde2d8" />
<rect x="459.18" y="422.40" width="6.51" height="6.13" fill="#e8898b" />
<rect x="465.69" y="422.40" width="6.51" height="6.13" fill="#e8898b" />
<rect x="472.20" y="422.40" width="6.51" height="6.13" fill="#fde2d8" />
<rect x="485.22" y="422.40" width="6.51" height="6.13" fill="#fde2d8" />
<rect x="491.73" y="422.40" width="6.51" height="6.13" fill="#fde2d8" />
<rect x="517.77" y="422.40" width="6.51" height="6.13" fill="#fde2d8" />
<rect x="137.50" y="428.53" width="6.47" height="6.13" fill="#e8898b" />
<rect x="143.97" y="428.53" width="6.47" height="6.13" fill="#e8898b" />
<rect x="150.45" y="428.53" width="6.47" height="6.13" fill="#fde2d8" />
<rect x="156.93" y="428.53" width="6.47" height="6.13" fill="#e8898b" />
<rect x="163.40" y="428.53" width="6.47" height="6.13" fill="#e8898b" />
<rect x="169.88" y="428.53" width="6.47" height="6.13" fill="#fde2d8" />
<rect x="176.35" y="428.53" width="6.47" height="6.13" fill="#fde2d8" />
<rect x="182.82" y="428.53" width="6.47" height="6.13" fill="#fde2d8" />
<rect x="189.30" y="428.53" width="6.47" height="6.13" fill="#e8898b" />
<rect x="202.25" y="428.53" width="6.47" height="6.13" fill="#fde2d8" />
<rect x="208.72" y="428.53" width="6.47" height="6.13" fill="#e8898b" />
<rect x="215.20" y="428.53" width="6.47" height="6.13" fill="#fde2d8" />
<rect x="221.68" y="428.53" width="6.47" height="6.13" fill="#fde2d8" />
<rect x="228.15" y="428.53" width="6.47" height="6.13" fill="#e8898b" />
<rect x="234.62" y="428.53" width="6.47" height="6.13" fill="#fde2d8" />
<rect x="260.52" y="428.53" width="6.47" height="6.13" fill="#fde2d8" />
<rect x="292.90" y="428.53" width="6.47" height="6.13" fill="#fde2d8" />
<rect x="305.85" y="428.53" width="6.47" height="6.13" fill="#fde2d8" />
<rect x="344.70" y="428.53" width="6.47" height="6.13" fill="#fde2d8" />
<rect x="351.17" y="428.53" width="6.47" height="6.13" fill="#fde2d8" />
<rect x="370.60" y="428.53" width="6.47" height="6.13" fill="#fde2d8" />
<rect x="407.10" y="428.53" width="6.51" height="6.13" fill="#fde2d8" />
<rect x="413.61" y="428.53" width="6.51" height="6.13" fill="#e8898b" />
<rect x="439.65" y="428.53" width="6.51" height="6.13" fill="#fde2d8" />
<rect x="452.67" y="428.53" width="6.51" height="6.13" fill="#e8898b" />
<rect x="465.69" y="428.53" width="6.51" height="6.13" fill="#fde2d8" />
<rect x="472.20" y="428.53" width="6.51" height="6.13" fill="#fde2d8" />
<rect x="137.50" y="434.66" width="6.47" height="6.13" fill="#e8898b" />
<rect x="143.97" y="434.66" width="6.47" height="6.13" fill="#e8898b" />
<rect x="150.45" y="434.66" width="6.47" height="6.13" fill="#fde2d8" />
<rect x="156.93" y="434.66" width="6.47" height="6.13" fill="#e8898b" />
<rect x="163.40" y="434.66" width="6.47" height="6.13" fill="#fde2d8" />
<rect x="176.35" y="434.66" width="6.47" height="6.13" fill="#fde2d8" />
<rect x="182.82" y="434.66" width="6.47" height="6.13" fill="#e8898b" />
<rect x="189.30" y="434.66" width="6.47" height="6.13" fill="#e8898b" />
<rect x="202.25" y="434.66" width="6.47" height="6.13" fill="#fde2d8" />
<rect x="208.72" y="434.66" width="6.47" height="6.13" fill="#e8898b" />
<rect x="228.15" y="434.66" width="6.47" height="6.13" fill="#e8898b" />
<rect x="234.62" y="434.66" width="6.47" height="6.13" fill="#fde2d8" />
<rect x="267.00" y="434.66" width="6.47" height="6.13" fill="#fde2d8" />
<rect x="286.42" y="434.66" width="6.47" height="6.13" fill="#fde2d8" />
<rect x="299.38" y="434.66" width="6.47" height="6.13" fill="#fde2d8" />
<rect x="305.85" y="434.66" width="6.47" height="6.13" fill="#fde2d8" />
<rect x="331.75" y="434.66" width="6.47" height="6.13" fill="#fde2d8" />
<rect x="370.60" y="434.66" width="6.47" height="6.13" fill="#fde2d8" />
<rect x="407.10" y="434.66" width="6.51" height="6.13" fill="#fde2d8" />
<rect x="413.61" y="434.66" width="6.51" height="6.13" fill="#fde2d8" />
<rect x="420.12" y="434.66" width="6.51" height="6.13" fill="#fde2d8" />
<rect x="433.14" y="434.66" width="6.51" height="6.13" fill="#fde2d8" />
<rect x="452.67" y="434.66" width="6.51" height="6.13" fill="#fde2d8" />
<rect x="491.73" y="434.66" width="6.51" height="6.13" fill="#fde2d8" />
<rect x="137.50" y="440.79" width="6.47" height="6.13" fill="#e8898b" />
<rect x="143.97" y="440.79" width="6.47" height="6.13" fill="#e8898b" />
<rect x="156.93" y="440.79" width="6.47" height="6.13" fill="#e8898b" />
<rect x="163.40" y="440.79" width="6.47" height="6.13" fill="#e8898b" />
<rect x="169.88" y="440.79" width="6.47" height="6.13" fill="#e8898b" />
<rect x="176.35" y="440.79" width="6.47" height="6.13" fill="#fde2d8" />
<rect x="182.82" y="440.79" width="6.47" height="6.13" fill="#e8898b" />
<rect x="189.30" y="440.79" width="6.47" height="6.13" fill="#e8898b" />
<rect x="195.78" y="440.79" width="6.47" height="6.13" fill="#fde2d8" />
<rect x="202.25" y="440.79" width="6.47" height="6.13" fill="#e8898b" />
<rect x="208.72" y="440.79" width="6.47" height="6.13" fill="#e8898b" />
<rect x="215.20" y="440.79" width="6.47" height="6.13" fill="#fde2d8" />
<rect x="221.68" y="440.79" width="6.47" height="6.13" fill="#fde2d8" />
<rect x="228.15" y="440.79" width="6.47" height="6.13" fill="#e8898b" />
<rect x="234.62" y="440.79" width="6.47" height="6.13" fill="#e8898b" />
<rect x="241.10" y="440.79" width="6.47" height="6.13" fill="#e8898b" />
<rect x="247.57" y="440.79" width="6.47" height="6.13" fill="#e8898b" />
<rect x="254.05" y="440.79" width="6.47" height="6.13" fill="#fde2d8" />
<rect x="267.00" y="440.79" width="6.47" height="6.13" fill="#fde2d8" />
<rect x="273.48" y="440.79" width="6.47" height="6.13" fill="#fde2d8" />
<rect x="279.95" y="440.79" width="6.47" height="6.13" fill="#fde2d8" />
<rect x="286.42" y="440.79" width="6.47" height="6.13" fill="#fde2d8" />
<rect x="292.90" y="440.79" width="6.47" height="6.13" fill="#fde2d8" />
<rect x="299.38" y="440.79" width="6.47" height="6.13" fill="#fde2d8" />
<rect x="305.85" y="440.79" width="6.47" height="6.13" fill="#e8898b" />
<rect x="318.80" y="440.79" width="6.47" height="6.13" fill="#fde2d8" />
<rect x="325.27" y="440.79" width="6.47" height="6.13" fill="#fde2d8" />
<rect x="331.75" y="440.79" width="6.47" height="6.13" fill="#fde2d8" />
<rect x="338.23" y="440.79" width="6.47" height="6.13" fill="#fde2d8" />
<rect x="351.17" y="440.79" width="6.47" height="6.13" fill="#fde2d8" />
<rect x="357.65" y="440.79" width="6.47" height="6.13" fill="#fde2d8" />
<rect x="370.60" y="440.79" width="6.47" height="6.13" fill="#fde2d8" />
<rect x="390.02" y="440.79" width="6.47" height="6.13" fill="#fde2d8" />
<rect x="407.10" y="440.79" width="6.51" height="6.13" fill="#e8898b" />
<rect x="413.61" y="440.79" width="6.51" height="6.13" fill="#e8898b" />
<rect x="420.12" y="440.79" width="6.51" height="6.13" fill="#fde2d8" />
<rect x="433.14" y="440.79" width="6.51" height="6.13" fill="#fde2d8" />
<rect x="439.65" y="440.79" width="6.51" height="6.13" fill="#fde2d8" />
<rect x="446.16" y="440.79" width="6.51" height="6.13" fill="#fde2d8" />
<rect x="452.67" y="440.79" width="6.51" height="6.13" fill="#fde2d8" />
<rect x="459.18" y="440.79" width="6.51" height="6.13" fill="#e8898b" />
<rect x="465.69" y="440.79" width="6.51" height="6.13" fill="#e8898b" />
<rect x="472.20" y="440.79" width="6.51" height="6.13" fill="#e8898b" />
<rect x="478.71" y="440.79" width="6.51" height="6.13" fill="#fde2d8" />
<rect x="485.22" y="440.79" width="6.51" height="6.13" fill="#fde2d8" />
<rect x="491.73" y="440.79" width="6.51" height="6.13" fill="#fde2d8" />
<rect x="511.26" y="440.79" width="6.51" height="6.13" fill="#fde2d8" />
<rect x="517.77" y="440.79" width="6.51" height="6.13" fill="#fde2d8" />
<rect x="137.50" y="446.92" width="6.47" height="6.13" fill="#e8898b" />
<rect x="143.97" y="446.92" width="6.47" height="6.13" fill="#fde2d8" />
<rect x="156.93" y="446.92" width="6.47" height="6.13" fill="#e8898b" />
<rect x="169.88" y="446.92" width="6.47" height="6.13" fill="#fde2d8" />
<rect x="176.35" y="446.92" width="6.47" height="6.13" fill="#fde2d8" />
<rect x="182.82" y="446.92" width="6.47" height="6.13" fill="#fde2d8" />
<rect x="189.30" y="446.92" width="6.47" height="6.13" fill="#e8898b" />
<rect x="195.78" y="446.92" width="6.47" height="6.13" fill="#fde2d8" />
<rect x="202.25" y="446.92" width="6.47" height="6.13" fill="#fde2d8" />
<rect x="208.72" y="446.92" width="6.47" height="6.13" fill="#fde2d8" />
<rect x="215.20" y="446.92" width="6.47" height="6.13" fill="#fde2d8" />
<rect x="228.15" y="446.92" width="6.47" height="6.13" fill="#e8898b" />
<rect x="247.57" y="446.92" width="6.47" height="6.13" fill="#fde2d8" />
<rect x="299.38" y="446.92" width="6.47" height="6.13" fill="#fde2d8" />
<rect x="331.75" y="446.92" width="6.47" height="6.13" fill="#fde2d8" />
<rect x="364.12" y="446.92" width="6.47" height="6.13" fill="#fde2d8" />
<rect x="396.50" y="446.92" width="6.47" height="6.13" fill="#9dcbf7" />
<rect x="413.61" y="446.92" width="6.51" height="6.13" fill="#fde2d8" />
<rect x="433.14" y="446.92" width="6.51" height="6.13" fill="#fde2d8" />
<rect x="452.67" y="446.92" width="6.51" height="6.13" fill="#fde2d8" />
<rect x="465.69" y="446.92" width="6.51" height="6.13" fill="#fde2d8" />
<rect x="491.73" y="446.92" width="6.51" height="6.13" fill="#fde2d8" />
<rect x="137.50" y="453.05" width="6.47" height="6.13" fill="#e8898b" />
<rect x="143.97" y="453.05" width="6.47" height="6.13" fill="#e8898b" />
<rect x="150.45" y="453.05" width="6.47" height="6.13" fill="#fde2d8" />
<rect x="156.93" y="453.05" width="6.47" height="6.13" fill="#e8898b" />
<rect x="163.40" y="453.05" width="6.47" height="6.13" fill="#e8898b" />
<rect x="189.30" y="453.05" width="6.47" height="6.13" fill="#e8898b" />
<rect x="202.25" y="453.05" width="6.47" height="6.13" fill="#e8898b" />
<rect x="208.72" y="453.05" width="6.47" height="6.13" fill="#fde2d8" />
<rect x="215.20" y="453.05" width="6.47" height="6.13" fill="#fde2d8" />
<rect x="221.68" y="453.05" width="6.47" height="6.13" fill="#fde2d8" />
<rect x="228.15" y="453.05" width="6.47" height="6.13" fill="#e8898b" />
<rect x="234.62" y="453.05" width="6.47" height="6.13" fill="#e8898b" />
<rect x="241.10" y="453.05" width="6.47" height="6.13" fill="#fde2d8" />
<rect x="247.57" y="453.05" width="6.47" height="6.13" fill="#fde2d8" />
<rect x="267.00" y="453.05" width="6.47" height="6.13" fill="#fde2d8" />
<rect x="273.48" y="453.05" width="6.47" height="6.13" fill="#fde2d8" />
<rect x="292.90" y="453.05" width="6.47" height="6.13" fill="#fde2d8" />
<rect x="305.85" y="453.05" width="6.47" height="6.13" fill="#e8898b" />
<rect x="344.70" y="453.05" width="6.47" height="6.13" fill="#fde2d8" />
<rect x="351.17" y="453.05" width="6.47" height="6.13" fill="#fde2d8" />
<rect x="370.60" y="453.05" width="6.47" height="6.13" fill="#fde2d8" />
<rect x="407.10" y="453.05" width="6.51" height="6.13" fill="#fde2d8" />
<rect x="413.61" y="453.05" width="6.51" height="6.13" fill="#e8898b" />
<rect x="420.12" y="453.05" width="6.51" height="6.13" fill="#fde2d8" />
<rect x="426.63" y="453.05" width="6.51" height="6.13" fill="#fde2d8" />
<rect x="439.65" y="453.05" width="6.51" height="6.13" fill="#fde2d8" />
<rect x="452.67" y="453.05" width="6.51" height="6.13" fill="#e8898b" />
<rect x="465.69" y="453.05" width="6.51" height="6.13" fill="#fde2d8" />
<rect x="472.20" y="453.05" width="6.51" height="6.13" fill="#fde2d8" />
<rect x="485.22" y="453.05" width="6.51" height="6.13" fill="#fde2d8" />
<rect x="491.73" y="453.05" width="6.51" height="6.13" fill="#fde2d8" />
<rect x="137.50" y="459.18" width="6.47" height="6.13" fill="#e8898b" />
<rect x="143.97" y="459.18" width="6.47" height="6.13" fill="#e8898b" />
<rect x="156.93" y="459.18" width="6.47" height="6.13" fill="#e8898b" />
<rect x="163.40" y="459.18" width="6.47" height="6.13" fill="#fde2d8" />
<rect x="169.88" y="459.18" width="6.47" height="6.13" fill="#fde2d8" />
<rect x="176.35" y="459.18" width="6.47" height="6.13" fill="#fde2d8" />
<rect x="182.82" y="459.18" width="6.47" height="6.13" fill="#fde2d8" />
<rect x="189.30" y="459.18" width="6.47" height="6.13" fill="#e8898b" />
<rect x="195.78" y="459.18" width="6.47" height="6.13" fill="#fde2d8" />
<rect x="202.25" y="459.18" width="6.47" height="6.13" fill="#e8898b" />
<rect x="208.72" y="459.18" width="6.47" height="6.13" fill="#e8898b" />
<rect x="215.20" y="459.18" width="6.47" height="6.13" fill="#fde2d8" />
<rect x="228.15" y="459.18" width="6.47" height="6.13" fill="#e8898b" />
<rect x="241.10" y="459.18" width="6.47" height="6.13" fill="#e8898b" />
<rect x="247.57" y="459.18" width="6.47" height="6.13" fill="#fde2d8" />
<rect x="273.48" y="459.18" width="6.47" height="6.13" fill="#fde2d8" />
<rect x="292.90" y="459.18" width="6.47" height="6.13" fill="#fde2d8" />
<rect x="299.38" y="459.18" width="6.47" height="6.13" fill="#fde2d8" />
<rect x="305.85" y="459.18" width="6.47" height="6.13" fill="#fde2d8" />
<rect x="325.27" y="459.18" width="6.47" height="6.13" fill="#fde2d8" />
<rect x="331.75" y="459.18" width="6.47" height="6.13" fill="#fde2d8" />
<rect x="364.12" y="459.18" width="6.47" height="6.13" fill="#fde2d8" />
<rect x="396.50" y="459.18" width="6.47" height="6.13" fill="#9dcbf7" />
<rect x="407.10" y="459.18" width="6.51" height="6.13" fill="#fde2d8" />
<rect x="420.12" y="459.18" width="6.51" height="6.13" fill="#fde2d8" />
<rect x="426.63" y="459.18" width="6.51" height="6.13" fill="#fde2d8" />
<rect x="433.14" y="459.18" width="6.51" height="6.13" fill="#fde2d8" />
<rect x="439.65" y="459.18" width="6.51" height="6.13" fill="#fde2d8" />
<rect x="446.16" y="459.18" width="6.51" height="6.13" fill="#fde2d8" />
<rect x="452.67" y="459.18" width="6.51" height="6.13" fill="#fde2d8" />
<rect x="478.71" y="459.18" width="6.51" height="6.13" fill="#fde2d8" />
<rect x="491.73" y="459.18" width="6.51" height="6.13" fill="#fde2d8" />
<rect x="137.50" y="465.31" width="6.47" height="6.13" fill="#e8898b" />
<rect x="143.97" y="465.31" width="6.47" height="6.13" fill="#e8898b" />
<rect x="150.45" y="465.31" width="6.47" height="6.13" fill="#fde2d8" />
<rect x="156.93" y="465.31" width="6.47" height="6.13" fill="#e8898b" />
<rect x="163.40" y="465.31" width="6.47" height="6.13" fill="#fde2d8" />
<rect x="169.88" y="465.31" width="6.47" height="6.13" fill="#fde2d8" />
<rect x="182.82" y="465.31" width="6.47" height="6.13" fill="#fde2d8" />
<rect x="189.30" y="465.31" width="6.47" height="6.13" fill="#e8898b" />
<rect x="202.25" y="465.31" width="6.47" height="6.13" fill="#e8898b" />
<rect x="208.72" y="465.31" width="6.47" height="6.13" fill="#e8898b" />
<rect x="215.20" y="465.31" width="6.47" height="6.13" fill="#fde2d8" />
<rect x="228.15" y="465.31" width="6.47" height="6.13" fill="#e8898b" />
<rect x="234.62" y="465.31" width="6.47" height="6.13" fill="#fde2d8" />
<rect x="241.10" y="465.31" width="6.47" height="6.13" fill="#fde2d8" />
<rect x="267.00" y="465.31" width="6.47" height="6.13" fill="#fde2d8" />
<rect x="273.48" y="465.31" width="6.47" height="6.13" fill="#fde2d8" />
<rect x="279.95" y="465.31" width="6.47" height="6.13" fill="#fde2d8" />
<rect x="286.42" y="465.31" width="6.47" height="6.13" fill="#fde2d8" />
<rect x="305.85" y="465.31" width="6.47" height="6.13" fill="#fde2d8" />
<rect x="325.27" y="465.31" width="6.47" height="6.13" fill="#fde2d8" />
<rect x="331.75" y="465.31" width="6.47" height="6.13" fill="#fde2d8" />
<rect x="370.60" y="465.31" width="6.47" height="6.13" fill="#fde2d8" />
<rect x="407.10" y="465.31" width="6.51" height="6.13" fill="#fde2d8" />
<rect x="413.61" y="465.31" width="6.51" height="6.13" fill="#e8898b" />
<rect x="433.14" y="465.31" width="6.51" height="6.13" fill="#fde2d8" />
<rect x="439.65" y="465.31" width="6.51" height="6.13" fill="#fde2d8" />
<rect x="459.18" y="465.31" width="6.51" height="6.13" fill="#fde2d8" />
<rect x="465.69" y="465.31" width="6.51" height="6.13" fill="#fde2d8" />
<rect x="491.73" y="465.31" width="6.51" height="6.13" fill="#fde2d8" />
<rect x="137.50" y="471.44" width="6.47" height="6.13" fill="#e8898b" />
<rect x="143.97" y="471.44" width="6.47" height="6.13" fill="#e8898b" />
<rect x="150.45" y="471.44" width="6.47" height="6.13" fill="#e8898b" />
<rect x="156.93" y="471.44" width="6.47" height="6.13" fill="#e8898b" />
<rect x="163.40" y="471.44" width="6.47" height="6.13" fill="#fde2d8" />
<rect x="169.88" y="471.44" width="6.47" height="6.13" fill="#fde2d8" />
<rect x="176.35" y="471.44" width="6.47" height="6.13" fill="#fde2d8" />
<rect x="182.82" y="471.44" width="6.47" height="6.13" fill="#fde2d8" />
<rect x="189.30" y="471.44" width="6.47" height="6.13" fill="#e8898b" />
<rect x="195.78" y="471.44" width="6.47" height="6.13" fill="#fde2d8" />
<rect x="202.25" y="471.44" width="6.47" height="6.13" fill="#e8898b" />
<rect x="208.72" y="471.44" width="6.47" height="6.13" fill="#e8898b" />
<rect x="215.20" y="471.44" width="6.47" height="6.13" fill="#fde2d8" />
<rect x="221.68" y="471.44" width="6.47" height="6.13" fill="#fde2d8" />
<rect x="228.15" y="471.44" width="6.47" height="6.13" fill="#e8898b" />
<rect x="234.62" y="471.44" width="6.47" height="6.13" fill="#fde2d8" />
<rect x="241.10" y="471.44" width="6.47" height="6.13" fill="#fde2d8" />
<rect x="247.57" y="471.44" width="6.47" height="6.13" fill="#fde2d8" />
<rect x="254.05" y="471.44" width="6.47" height="6.13" fill="#fde2d8" />
<rect x="273.48" y="471.44" width="6.47" height="6.13" fill="#e8898b" />
<rect x="279.95" y="471.44" width="6.47" height="6.13" fill="#fde2d8" />
<rect x="292.90" y="471.44" width="6.47" height="6.13" fill="#fde2d8" />
<rect x="325.27" y="471.44" width="6.47" height="6.13" fill="#fde2d8" />
<rect x="331.75" y="471.44" width="6.47" height="6.13" fill="#fde2d8" />
<rect x="338.23" y="471.44" width="6.47" height="6.13" fill="#fde2d8" />
<rect x="344.70" y="471.44" width="6.47" height="6.13" fill="#fde2d8" />
<rect x="351.17" y="471.44" width="6.47" height="6.13" fill="#fde2d8" />
<rect x="364.12" y="471.44" width="6.47" height="6.13" fill="#e8898b" />
<rect x="370.60" y="471.44" width="6.47" height="6.13" fill="#fde2d8" />
<rect x="407.10" y="471.44" width="6.51" height="6.13" fill="#e8898b" />
<rect x="413.61" y="471.44" width="6.51" height="6.13" fill="#fde2d8" />
<rect x="420.12" y="471.44" width="6.51" height="6.13" fill="#fde2d8" />
<rect x="426.63" y="471.44" width="6.51" height="6.13" fill="#fde2d8" />
<rect x="433.14" y="471.44" width="6.51" height="6.13" fill="#fde2d8" />
<rect x="439.65" y="471.44" width="6.51" height="6.13" fill="#fde2d8" />
<rect x="446.16" y="471.44" width="6.51" height="6.13" fill="#fde2d8" />
<rect x="452.67" y="471.44" width="6.51" height="6.13" fill="#fde2d8" />
<rect x="459.18" y="471.44" width="6.51" height="6.13" fill="#e8898b" />
<rect x="465.69" y="471.44" width="6.51" height="6.13" fill="#e8898b" />
<rect x="517.77" y="471.44" width="6.51" height="6.13" fill="#fde2d8" />
<rect x="137.50" y="477.57" width="6.47" height="6.13" fill="#e8898b" />
<rect x="143.97" y="477.57" width="6.47" height="6.13" fill="#e8898b" />
<rect x="150.45" y="477.57" width="6.47" height="6.13" fill="#fde2d8" />
<rect x="169.88" y="477.57" width="6.47" height="6.13" fill="#fde2d8" />
<rect x="182.82" y="477.57" width="6.47" height="6.13" fill="#fde2d8" />
<rect x="189.30" y="477.57" width="6.47" height="6.13" fill="#e8898b" />
<rect x="202.25" y="477.57" width="6.47" height="6.13" fill="#e8898b" />
<rect x="208.72" y="477.57" width="6.47" height="6.13" fill="#fde2d8" />
<rect x="228.15" y="477.57" width="6.47" height="6.13" fill="#fde2d8" />
<rect x="234.62" y="477.57" width="6.47" height="6.13" fill="#fde2d8" />
<rect x="267.00" y="477.57" width="6.47" height="6.13" fill="#fde2d8" />
<rect x="370.60" y="477.57" width="6.47" height="6.13" fill="#fde2d8" />
<rect x="407.10" y="477.57" width="6.51" height="6.13" fill="#fde2d8" />
<rect x="413.61" y="477.57" width="6.51" height="6.13" fill="#fde2d8" />
<rect x="465.69" y="477.57" width="6.51" height="6.13" fill="#fde2d8" />
<rect x="478.71" y="477.57" width="6.51" height="6.13" fill="#fde2d8" />
<rect x="137.50" y="483.70" width="6.47" height="6.13" fill="#e8898b" />
<rect x="143.97" y="483.70" width="6.47" height="6.13" fill="#e8898b" />
<rect x="150.45" y="483.70" width="6.47" height="6.13" fill="#fde2d8" />
<rect x="156.93" y="483.70" width="6.47" height="6.13" fill="#e8898b" />
<rect x="163.40" y="483.70" width="6.47" height="6.13" fill="#fde2d8" />
<rect x="176.35" y="483.70" width="6.47" height="6.13" fill="#e8898b" />
<rect x="182.82" y="483.70" width="6.47" height="6.13" fill="#fde2d8" />
<rect x="189.30" y="483.70" width="6.47" height="6.13" fill="#e8898b" />
<rect x="202.25" y="483.70" width="6.47" height="6.13" fill="#fde2d8" />
<rect x="208.72" y="483.70" width="6.47" height="6.13" fill="#e8898b" />
<rect x="228.15" y="483.70" width="6.47" height="6.13" fill="#e8898b" />
<rect x="234.62" y="483.70" width="6.47" height="6.13" fill="#fde2d8" />
<rect x="267.00" y="483.70" width="6.47" height="6.13" fill="#fde2d8" />
<rect x="331.75" y="483.70" width="6.47" height="6.13" fill="#fde2d8" />
<rect x="370.60" y="483.70" width="6.47" height="6.13" fill="#fde2d8" />
<rect x="407.10" y="483.70" width="6.51" height="6.13" fill="#fde2d8" />
<rect x="413.61" y="483.70" width="6.51" height="6.13" fill="#fde2d8" />
<rect x="452.67" y="483.70" width="6.51" height="6.13" fill="#fde2d8" />
<rect x="491.73" y="483.70" width="6.51" height="6.13" fill="#fde2d8" />
<rect x="137.50" y="489.83" width="6.47" height="6.13" fill="#e8898b" />
<rect x="143.97" y="489.83" width="6.47" height="6.13" fill="#e8898b" />
<rect x="150.45" y="489.83" width="6.47" height="6.13" fill="#fde2d8" />
<rect x="156.93" y="489.83" width="6.47" height="6.13" fill="#e8898b" />
<rect x="163.40" y="489.83" width="6.47" height="6.13" fill="#e8898b" />
<rect x="189.30" y="489.83" width="6.47" height="6.13" fill="#e8898b" />
<rect x="195.78" y="489.83" width="6.47" height="6.13" fill="#fde2d8" />
<rect x="202.25" y="489.83" width="6.47" height="6.13" fill="#e8898b" />
<rect x="208.72" y="489.83" width="6.47" height="6.13" fill="#fde2d8" />
<rect x="215.20" y="489.83" width="6.47" height="6.13" fill="#fde2d8" />
<rect x="221.68" y="489.83" width="6.47" height="6.13" fill="#fde2d8" />
<rect x="228.15" y="489.83" width="6.47" height="6.13" fill="#e8898b" />
<rect x="234.62" y="489.83" width="6.47" height="6.13" fill="#fde2d8" />
<rect x="241.10" y="489.83" width="6.47" height="6.13" fill="#fde2d8" />
<rect x="267.00" y="489.83" width="6.47" height="6.13" fill="#fde2d8" />
<rect x="273.48" y="489.83" width="6.47" height="6.13" fill="#fde2d8" />
<rect x="292.90" y="489.83" width="6.47" height="6.13" fill="#fde2d8" />
<rect x="305.85" y="489.83" width="6.47" height="6.13" fill="#e8898b" />
<rect x="344.70" y="489.83" width="6.47" height="6.13" fill="#fde2d8" />
<rect x="351.17" y="489.83" width="6.47" height="6.13" fill="#fde2d8" />
<rect x="370.60" y="489.83" width="6.47" height="6.13" fill="#fde2d8" />
<rect x="407.10" y="489.83" width="6.51" height="6.13" fill="#fde2d8" />
<rect x="413.61" y="489.83" width="6.51" height="6.13" fill="#e8898b" />
<rect x="420.12" y="489.83" width="6.51" height="6.13" fill="#fde2d8" />
<rect x="426.63" y="489.83" width="6.51" height="6.13" fill="#fde2d8" />
<rect x="439.65" y="489.83" width="6.51" height="6.13" fill="#fde2d8" />
<rect x="452.67" y="489.83" width="6.51" height="6.13" fill="#e8898b" />
<rect x="465.69" y="489.83" width="6.51" height="6.13" fill="#fde2d8" />
<rect x="472.20" y="489.83" width="6.51" height="6.13" fill="#fde2d8" />
<rect x="485.22" y="489.83" width="6.51" height="6.13" fill="#fde2d8" />
<rect x="491.73" y="489.83" width="6.51" height="6.13" fill="#fde2d8" />
<rect x="137.50" y="495.96" width="6.47" height="6.13" fill="#e8898b" />
<rect x="143.97" y="495.96" width="6.47" height="6.13" fill="#fde2d8" />
<rect x="150.45" y="495.96" width="6.47" height="6.13" fill="#fde2d8" />
<rect x="156.93" y="495.96" width="6.47" height="6.13" fill="#fde2d8" />
<rect x="163.40" y="495.96" width="6.47" height="6.13" fill="#fde2d8" />
<rect x="169.88" y="495.96" width="6.47" height="6.13" fill="#fde2d8" />
<rect x="176.35" y="495.96" width="6.47" height="6.13" fill="#fde2d8" />
<rect x="182.82" y="495.96" width="6.47" height="6.13" fill="#fde2d8" />
<rect x="189.30" y="495.96" width="6.47" height="6.13" fill="#e8898b" />
<rect x="202.25" y="495.96" width="6.47" height="6.13" fill="#e8898b" />
<rect x="208.72" y="495.96" width="6.47" height="6.13" fill="#fde2d8" />
<rect x="215.20" y="495.96" width="6.47" height="6.13" fill="#fde2d8" />
<rect x="228.15" y="495.96" width="6.47" height="6.13" fill="#fde2d8" />
<rect x="292.90" y="495.96" width="6.47" height="6.13" fill="#fde2d8" />
<rect x="299.38" y="495.96" width="6.47" height="6.13" fill="#fde2d8" />
<rect x="331.75" y="495.96" width="6.47" height="6.13" fill="#fde2d8" />
<rect x="344.70" y="495.96" width="6.47" height="6.13" fill="#fde2d8" />
<rect x="407.10" y="495.96" width="6.51" height="6.13" fill="#e8898b" />
<rect x="413.61" y="495.96" width="6.51" height="6.13" fill="#fde2d8" />
<rect x="420.12" y="495.96" width="6.51" height="6.13" fill="#fde2d8" />
<rect x="433.14" y="495.96" width="6.51" height="6.13" fill="#fde2d8" />
<rect x="452.67" y="495.96" width="6.51" height="6.13" fill="#fde2d8" />
<rect x="465.69" y="495.96" width="6.51" height="6.13" fill="#fde2d8" />
<rect x="478.71" y="495.96" width="6.51" height="6.13" fill="#fde2d8" />
<rect x="491.73" y="495.96" width="6.51" height="6.13" fill="#fde2d8" />
<rect x="511.26" y="495.96" width="6.51" height="6.13" fill="#fde2d8" />
<rect x="137.50" y="502.09" width="6.47" height="6.13" fill="#e8898b" />
<rect x="150.45" y="502.09" width="6.47" height="6.13" fill="#fde2d8" />
<rect x="156.93" y="502.09" width="6.47" height="6.13" fill="#e8898b" />
<rect x="163.40" y="502.09" width="6.47" height="6.13" fill="#e8898b" />
<rect x="182.82" y="502.09" width="6.47" height="6.13" fill="#fde2d8" />
<rect x="189.30" y="502.09" width="6.47" height="6.13" fill="#e8898b" />
<rect x="202.25" y="502.09" width="6.47" height="6.13" fill="#fde2d8" />
<rect x="208.72" y="502.09" width="6.47" height="6.13" fill="#fde2d8" />
<rect x="215.20" y="502.09" width="6.47" height="6.13" fill="#fde2d8" />
<rect x="221.68" y="502.09" width="6.47" height="6.13" fill="#fde2d8" />
<rect x="228.15" y="502.09" width="6.47" height="6.13" fill="#fde2d8" />
<rect x="305.85" y="502.09" width="6.47" height="6.13" fill="#fde2d8" />
<rect x="344.70" y="502.09" width="6.47" height="6.13" fill="#fde2d8" />
<rect x="351.17" y="502.09" width="6.47" height="6.13" fill="#fde2d8" />
<rect x="370.60" y="502.09" width="6.47" height="6.13" fill="#fde2d8" />
<rect x="433.14" y="502.09" width="6.51" height="6.13" fill="#fde2d8" />
<rect x="137.50" y="508.22" width="6.47" height="6.13" fill="#e8898b" />
<rect x="143.97" y="508.22" width="6.47" height="6.13" fill="#fde2d8" />
<rect x="150.45" y="508.22" width="6.47" height="6.13" fill="#fde2d8" />
<rect x="156.93" y="508.22" width="6.47" height="6.13" fill="#e8898b" />
<rect x="163.40" y="508.22" width="6.47" height="6.13" fill="#fde2d8" />
<rect x="176.35" y="508.22" width="6.47" height="6.13" fill="#fde2d8" />
<rect x="182.82" y="508.22" width="6.47" height="6.13" fill="#fde2d8" />
<rect x="189.30" y="508.22" width="6.47" height="6.13" fill="#e8898b" />
<rect x="202.25" y="508.22" width="6.47" height="6.13" fill="#fde2d8" />
<rect x="208.72" y="508.22" width="6.47" height="6.13" fill="#fde2d8" />
<rect x="215.20" y="508.22" width="6.47" height="6.13" fill="#fde2d8" />
<rect x="228.15" y="508.22" width="6.47" height="6.13" fill="#fde2d8" />
<rect x="234.62" y="508.22" width="6.47" height="6.13" fill="#fde2d8" />
<rect x="267.00" y="508.22" width="6.47" height="6.13" fill="#fde2d8" />
<rect x="331.75" y="508.22" width="6.47" height="6.13" fill="#fde2d8" />
<rect x="351.17" y="508.22" width="6.47" height="6.13" fill="#fde2d8" />
<rect x="364.12" y="508.22" width="6.47" height="6.13" fill="#fde2d8" />
<rect x="407.10" y="508.22" width="6.51" height="6.13" fill="#fde2d8" />
<rect x="413.61" y="508.22" width="6.51" height="6.13" fill="#fde2d8" />
<rect x="433.14" y="508.22" width="6.51" height="6.13" fill="#fde2d8" />
<rect x="452.67" y="508.22" width="6.51" height="6.13" fill="#fde2d8" />
<rect x="465.69" y="508.22" width="6.51" height="6.13" fill="#fde2d8" />
<rect x="491.73" y="508.22" width="6.51" height="6.13" fill="#fde2d8" />
<rect x="143.97" y="514.35" width="6.47" height="6.13" fill="#fde2d8" />
<rect x="169.88" y="514.35" width="6.47" height="6.13" fill="#fde2d8" />
<rect x="176.35" y="514.35" width="6.47" height="6.13" fill="#e8898b" />
<rect x="182.82" y="514.35" width="6.47" height="6.13" fill="#fde2d8" />
<rect x="189.30" y="514.35" width="6.47" height="6.13" fill="#fde2d8" />
<rect x="202.25" y="514.35" width="6.47" height="6.13" fill="#e8898b" />
<rect x="228.15" y="514.35" width="6.47" height="6.13" fill="#fde2d8" />
<rect x="234.62" y="514.35" width="6.47" height="6.13" fill="#fde2d8" />
<rect x="267.00" y="514.35" width="6.47" height="6.13" fill="#fde2d8" />
<rect x="279.95" y="514.35" width="6.47" height="6.13" fill="#fde2d8" />
<rect x="292.90" y="514.35" width="6.47" height="6.13" fill="#fde2d8" />
<rect x="331.75" y="514.35" width="6.47" height="6.13" fill="#fde2d8" />
<rect x="407.10" y="514.35" width="6.51" height="6.13" fill="#e8898b" />
<rect x="420.12" y="514.35" width="6.51" height="6.13" fill="#fde2d8" />
<rect x="433.14" y="514.35" width="6.51" height="6.13" fill="#fde2d8" />
<rect x="452.67" y="514.35" width="6.51" height="6.13" fill="#fde2d8" />
<rect x="465.69" y="514.35" width="6.51" height="6.13" fill="#fde2d8" />
<rect x="478.71" y="514.35" width="6.51" height="6.13" fill="#fde2d8" />
<rect x="517.77" y="514.35" width="6.51" height="6.13" fill="#fde2d8" />
<path d="M137.50,361.10V520.48M143.97,361.10V520.48M150.45,361.10V520.48M156.93,361.10V520.48M163.40,361.10V520.48M169.88,361.10V520.48M176.35,361.10V520.48M182.82,361.10V520.48M189.30,361.10V520.48M195.78,361.10V520.48M202.25,361.10V520.48M208.72,361.10V520.48M215.20,361.10V520.48M221.68,361.10V520.48M228.15,361.10V520.48M234.62,361.10V520.48M241.10,361.10V520.48M247.57,361.10V520.48M254.05,361.10V520.48M260.52,361.10V520.48M267.00,361.10V520.48M273.48,361.10V520.48M279.95,361.10V520.48M286.42,361.10V520.48M292.90,361.10V520.48M299.38,361.10V520.48M305.85,361.10V520.48M312.32,361.10V520.48M318.80,361.10V520.48M325.27,361.10V520.48M331.75,361.10V520.48M338.23,361.10V520.48M344.70,361.10V520.48M351.17,361.10V520.48M357.65,361.10V520.48M364.12,361.10V520.48M370.60,361.10V520.48M377.07,361.10V520.48M383.55,361.10V520.48M390.02,361.10V520.48M396.50,361.10V520.48M402.97,361.10V520.48M407.10,361.10V520.48M413.61,361.10V520.48M420.12,361.10V520.48M426.63,361.10V520.48M433.14,361.10V520.48M439.65,361.10V520.48M446.16,361.10V520.48M452.67,361.10V520.48M459.18,361.10V520.48M465.69,361.10V520.48M472.20,361.10V520.48M478.71,361.10V520.48M485.22,361.10V520.48M491.73,361.10V520.48M498.24,361.10V520.48M504.75,361.10V520.48M511.26,361.10V520.48M517.77,361.10V520.48M524.28,361.10V520.48M137.50,361.10H402.97M407.10,361.10H524.28M137.50,367.23H402.97M407.10,367.23H524.28M137.50,373.36H402.97M407.10,373.36H524.28M137.50,379.49H402.97M407.10,379.49H524.28M137.50,385.62H402.97M407.10,385.62H524.28M137.50,391.75H402.97M407.10,391.75H524.28M137.50,397.88H402.97M407.10,397.88H524.28M137.50,404.01H402.97M407.10,404.01H524.28M137.50,410.14H402.97M407.10,410.14H524.28M137.50,416.27H402.97M407.10,416.27H524.28M137.50,422.40H402.97M407.10,422.40H524.28M137.50,428.53H402.97M407.10,428.53H524.28M137.50,434.66H402.97M407.10,434.66H524.28M137.50,440.79H402.97M407.10,440.79H524.28M137.50,446.92H402.97M407.10,446.92H524.28M137.50,453.05H402.97M407.10,453.05H524.28M137.50,459.18H402.97M407.10,459.18H524.28M137.50,465.31H402.97M407.10,465.31H524.28M137.50,471.44H402.97M407.10,471.44H524.28M137.50,477.57H402.97M407.10,477.57H524.28M137.50,483.70H402.97M407.10,483.70H524.28M137.50,489.83H402.97M407.10,489.83H524.28M137.50,495.96H402.97M407.10,495.96H524.28M137.50,502.09H402.97M407.10,502.09H524.28M137.50,508.22H402.97M407.10,508.22H524.28M137.50,514.35H402.97M407.10,514.35H524.28M137.50,520.48H402.97M407.10,520.48H524.28" stroke="#8e8e8e" stroke-width="0.4" fill="none"/>
<rect x="137.50" y="361.10" width="265.47" height="159.38" fill="none" stroke="#777" stroke-width="0.6" />
<rect x="407.10" y="361.10" width="117.18" height="159.38" fill="none" stroke="#777" stroke-width="0.6" />
<polygon points="139.04,365.80 142.44,365.80 140.74,362.74" fill="#000"/>
<polygon points="145.51,365.80 148.91,365.80 147.21,362.74" fill="#000"/>
<circle cx="153.69" cy="364.17" r="2.45" fill="none" stroke="#222" stroke-width="0.5" />
<polygon points="158.46,365.80 161.86,365.80 160.16,362.74" fill="#000"/>
<polygon points="164.94,365.80 168.34,365.80 166.64,362.74" fill="#000"/>
<polygon points="171.41,365.80 174.81,365.80 173.11,362.74" fill="#000"/>
<polygon points="177.89,365.80 181.29,365.80 179.59,362.74" fill="#000"/>
<polygon points="210.26,365.80 213.66,365.80 211.96,362.74" fill="#000"/>
<polygon points="223.21,365.80 226.61,365.80 224.91,362.74" fill="#000"/>
<polygon points="236.16,365.80 239.56,365.80 237.86,362.74" fill="#000"/>
<polygon points="242.64,365.80 246.04,365.80 244.34,362.74" fill="#000"/>
<polygon points="249.11,365.80 252.51,365.80 250.81,362.74" fill="#000"/>
<circle cx="270.24" cy="364.17" r="2.45" fill="none" stroke="#222" stroke-width="0.5" />
<polygon points="294.44,365.80 297.84,365.80 296.14,362.74" fill="#000"/>
<polygon points="320.34,365.80 323.74,365.80 322.04,362.74" fill="#000"/>
<polygon points="378.61,365.80 382.01,365.80 380.31,362.74" fill="#000"/>
<polygon points="391.56,365.80 394.96,365.80 393.26,362.74" fill="#000"/>
<polygon points="408.66,365.80 412.06,365.80 410.36,362.74" fill="#000"/>
<polygon points="415.17,365.80 418.56,365.80 416.87,362.74" fill="#000"/>
<polygon points="421.68,365.80 425.07,365.80 423.38,362.74" fill="#000"/>
<polygon points="434.70,365.80 438.10,365.80 436.40,362.74" fill="#000"/>
<polygon points="447.72,365.80 451.12,365.80 449.42,362.74" fill="#000"/>
<circle cx="462.44" cy="364.17" r="2.45" fill="none" stroke="#222" stroke-width="0.5" />
<polygon points="467.25,365.80 470.65,365.80 468.95,362.74" fill="#000"/>
<polygon points="486.78,365.80 490.18,365.80 488.48,362.74" fill="#000"/>
<polygon points="493.29,365.80 496.69,365.80 494.99,362.74" fill="#000"/>
<polygon points="139.04,371.93 142.44,371.93 140.74,368.87" fill="#000"/>
<circle cx="147.21" cy="370.30" r="2.45" fill="none" stroke="#222" stroke-width="0.5" />
<polygon points="145.61,371.84 148.81,371.84 147.21,368.96" fill="#000"/>
<circle cx="153.69" cy="370.30" r="2.45" fill="none" stroke="#222" stroke-width="0.5" />
<polygon points="152.09,371.84 155.29,371.84 153.69,368.96" fill="#000"/>
<polygon points="164.94,371.93 168.34,371.93 166.64,368.87" fill="#000"/>
<polygon points="171.41,371.93 174.81,371.93 173.11,368.87" fill="#000"/>
<polygon points="177.89,371.93 181.29,371.93 179.59,368.87" fill="#000"/>
<polygon points="184.36,371.93 187.76,371.93 186.06,368.87" fill="#000"/>
<polygon points="197.31,371.93 200.71,371.93 199.01,368.87" fill="#000"/>
<circle cx="205.49" cy="370.30" r="2.45" fill="none" stroke="#222" stroke-width="0.5" />
<polygon points="203.89,371.84 207.09,371.84 205.49,368.96" fill="#000"/>
<polygon points="210.26,371.93 213.66,371.93 211.96,368.87" fill="#000"/>
<polygon points="275.01,371.93 278.41,371.93 276.71,368.87" fill="#000"/>
<polygon points="398.04,371.93 401.44,371.93 399.74,368.87" fill="#000"/>
<polygon points="408.66,371.93 412.06,371.93 410.36,368.87" fill="#000"/>
<polygon points="415.17,371.93 418.56,371.93 416.87,368.87" fill="#000"/>
<polygon points="428.19,371.93 431.59,371.93 429.89,368.87" fill="#000"/>
<polygon points="145.51,378.06 148.91,378.06 147.21,375.00" fill="#000"/>
<polygon points="158.46,378.06 161.86,378.06 160.16,375.00" fill="#000"/>
<polygon points="164.94,378.06 168.34,378.06 166.64,375.00" fill="#000"/>
<polygon points="184.36,378.06 187.76,378.06 186.06,375.00" fill="#000"/>
<polygon points="197.31,378.06 200.71,378.06 199.01,375.00" fill="#000"/>
<polygon points="203.79,378.06 207.19,378.06 205.49,375.00" fill="#000"/>
<polygon points="216.74,378.06 220.14,378.06 218.44,375.00" fill="#000"/>
<circle cx="231.39" cy="376.43" r="2.45" fill="none" stroke="#222" stroke-width="0.5" />
<polygon points="236.16,378.06 239.56,378.06 237.86,375.00" fill="#000"/>
<polygon points="346.24,378.06 349.64,378.06 347.94,375.00" fill="#000"/>
<polygon points="408.66,378.06 412.06,378.06 410.36,375.00" fill="#000"/>
<polygon points="415.17,378.06 418.56,378.06 416.87,375.00" fill="#000"/>
<polygon points="506.31,378.06 509.70,378.06 508.00,375.00" fill="#000"/>
<polygon points="139.04,384.19 142.44,384.19 140.74,381.13" fill="#000"/>
<polygon points="145.51,384.19 148.91,384.19 147.21,381.13" fill="#000"/>
<circle cx="153.69" cy="382.56" r="2.45" fill="none" stroke="#222" stroke-width="0.5" />
<polygon points="164.94,384.19 168.34,384.19 166.64,381.13" fill="#000"/>
<polygon points="171.41,384.19 174.81,384.19 173.11,381.13" fill="#000"/>
<polygon points="184.36,384.19 187.76,384.19 186.06,381.13" fill="#000"/>
<polygon points="190.84,384.19 194.24,384.19 192.54,381.13" fill="#000"/>
<circle cx="257.29" cy="382.56" r="2.45" fill="none" stroke="#222" stroke-width="0.5" />
<polygon points="326.81,384.19 330.21,384.19 328.51,381.13" fill="#000"/>
<polygon points="352.71,384.19 356.11,384.19 354.41,381.13" fill="#000"/>
<polygon points="454.23,384.19 457.62,384.19 455.93,381.13" fill="#000"/>
<polygon points="499.80,384.19 503.19,384.19 501.50,381.13" fill="#000"/>
<polygon points="139.04,390.31 142.44,390.31 140.74,387.26" fill="#000"/>
<polygon points="145.51,390.31 148.91,390.31 147.21,387.26" fill="#000"/>
<circle cx="153.69" cy="388.69" r="2.45" fill="none" stroke="#222" stroke-width="0.5" />
<polygon points="152.09,390.23 155.29,390.23 153.69,387.35" fill="#000"/>
<polygon points="171.41,390.31 174.81,390.31 173.11,387.26" fill="#000"/>
<polygon points="177.89,390.31 181.29,390.31 179.59,387.26" fill="#000"/>
<polygon points="197.31,390.31 200.71,390.31 199.01,387.26" fill="#000"/>
<circle cx="205.49" cy="388.69" r="2.45" fill="none" stroke="#222" stroke-width="0.5" />
<polygon points="203.89,390.23 207.09,390.23 205.49,387.35" fill="#000"/>
<polygon points="236.16,390.31 239.56,390.31 237.86,387.26" fill="#000"/>
<polygon points="398.04,390.31 401.44,390.31 399.74,387.26" fill="#000"/>
<polygon points="415.17,390.31 418.56,390.31 416.87,387.26" fill="#000"/>
<polygon points="441.21,390.31 444.61,390.31 442.91,387.26" fill="#000"/>
<circle cx="462.44" cy="388.69" r="2.45" fill="none" stroke="#222" stroke-width="0.5" />
<polygon points="139.04,396.44 142.44,396.44 140.74,393.39" fill="#000"/>
<polygon points="145.51,396.44 148.91,396.44 147.21,393.39" fill="#000"/>
<polygon points="164.94,396.44 168.34,396.44 166.64,393.39" fill="#000"/>
<polygon points="171.41,396.44 174.81,396.44 173.11,393.39" fill="#000"/>
<polygon points="190.84,396.44 194.24,396.44 192.54,393.39" fill="#000"/>
<polygon points="197.31,396.44 200.71,396.44 199.01,393.39" fill="#000"/>
<circle cx="205.49" cy="394.81" r="2.45" fill="none" stroke="#222" stroke-width="0.5" />
<polygon points="203.89,396.36 207.09,396.36 205.49,393.48" fill="#000"/>
<polygon points="210.26,396.44 213.66,396.44 211.96,393.39" fill="#000"/>
<polygon points="398.04,396.44 401.44,396.44 399.74,393.39" fill="#000"/>
<polygon points="408.66,396.44 412.06,396.44 410.36,393.39" fill="#000"/>
<polygon points="415.17,396.44 418.56,396.44 416.87,393.39" fill="#000"/>
<polygon points="428.19,396.44 431.59,396.44 429.89,393.39" fill="#000"/>
<polygon points="139.04,402.58 142.44,402.58 140.74,399.52" fill="#000"/>
<polygon points="145.51,402.58 148.91,402.58 147.21,399.52" fill="#000"/>
<polygon points="164.94,402.58 168.34,402.58 166.64,399.52" fill="#000"/>
<polygon points="171.41,402.58 174.81,402.58 173.11,399.52" fill="#000"/>
<polygon points="190.84,402.58 194.24,402.58 192.54,399.52" fill="#000"/>
<polygon points="197.31,402.58 200.71,402.58 199.01,399.52" fill="#000"/>
<circle cx="205.49" cy="400.95" r="2.45" fill="none" stroke="#222" stroke-width="0.5" />
<polygon points="203.89,402.49 207.09,402.49 205.49,399.61" fill="#000"/>
<polygon points="210.26,402.58 213.66,402.58 211.96,399.52" fill="#000"/>
<polygon points="359.19,402.58 362.59,402.58 360.89,399.52" fill="#000"/>
<polygon points="398.04,402.58 401.44,402.58 399.74,399.52" fill="#000"/>
<polygon points="408.66,402.58 412.06,402.58 410.36,399.52" fill="#000"/>
<polygon points="139.04,408.71 142.44,408.71 140.74,405.65" fill="#000"/>
<polygon points="145.51,408.71 148.91,408.71 147.21,405.65" fill="#000"/>
<circle cx="153.69" cy="407.08" r="2.45" fill="none" stroke="#222" stroke-width="0.5" />
<polygon points="158.46,408.71 161.86,408.71 160.16,405.65" fill="#000"/>
<circle cx="244.34" cy="407.08" r="2.45" fill="none" stroke="#222" stroke-width="0.5" />
<polygon points="242.74,408.62 245.94,408.62 244.34,405.74" fill="#000"/>
<polygon points="300.91,408.71 304.31,408.71 302.61,405.65" fill="#000"/>
<polygon points="372.14,408.71 375.54,408.71 373.84,405.65" fill="#000"/>
<circle cx="386.79" cy="407.08" r="2.45" fill="none" stroke="#222" stroke-width="0.5" />
<circle cx="410.36" cy="407.08" r="2.45" fill="none" stroke="#222" stroke-width="0.5" />
<polygon points="415.17,408.71 418.56,408.71 416.87,405.65" fill="#000"/>
<circle cx="153.69" cy="413.21" r="2.45" fill="none" stroke="#222" stroke-width="0.5" />
<polygon points="158.46,414.84 161.86,414.84 160.16,411.78" fill="#000"/>
<polygon points="177.89,414.84 181.29,414.84 179.59,411.78" fill="#000"/>
<polygon points="223.21,414.84 226.61,414.84 224.91,411.78" fill="#000"/>
<polygon points="262.06,414.84 265.46,414.84 263.76,411.78" fill="#000"/>
<polygon points="313.86,414.84 317.26,414.84 315.56,411.78" fill="#000"/>
<polygon points="415.17,414.84 418.56,414.84 416.87,411.78" fill="#000"/>
<polygon points="428.19,414.84 431.59,414.84 429.89,411.78" fill="#000"/>
<polygon points="441.21,414.84 444.61,414.84 442.91,411.78" fill="#000"/>
<polygon points="454.23,414.84 457.62,414.84 455.93,411.78" fill="#000"/>
<polygon points="139.04,420.97 142.44,420.97 140.74,417.91" fill="#000"/>
<polygon points="145.51,420.97 148.91,420.97 147.21,417.91" fill="#000"/>
<circle cx="153.69" cy="419.34" r="2.45" fill="none" stroke="#222" stroke-width="0.5" />
<polygon points="158.46,420.97 161.86,420.97 160.16,417.91" fill="#000"/>
<polygon points="164.94,420.97 168.34,420.97 166.64,417.91" fill="#000"/>
<polygon points="177.89,420.97 181.29,420.97 179.59,417.91" fill="#000"/>
<polygon points="408.66,420.97 412.06,420.97 410.36,417.91" fill="#000"/>
<circle cx="423.38" cy="419.34" r="2.45" fill="none" stroke="#222" stroke-width="0.5" />
<polygon points="434.70,420.97 438.10,420.97 436.40,417.91" fill="#000"/>
<polygon points="139.04,427.10 142.44,427.10 140.74,424.04" fill="#000"/>
<polygon points="171.41,427.10 174.81,427.10 173.11,424.04" fill="#000"/>
<polygon points="184.36,427.10 187.76,427.10 186.06,424.04" fill="#000"/>
<circle cx="257.29" cy="425.47" r="2.45" fill="none" stroke="#222" stroke-width="0.5" />
<polygon points="339.76,427.10 343.16,427.10 341.46,424.04" fill="#000"/>
<circle cx="423.38" cy="425.47" r="2.45" fill="none" stroke="#222" stroke-width="0.5" />
<polygon points="447.72,427.10 451.12,427.10 449.42,424.04" fill="#000"/>
<polygon points="473.76,427.10 477.16,427.10 475.46,424.04" fill="#000"/>
<polygon points="519.32,427.10 522.73,427.10 521.02,424.04" fill="#000"/>
<polygon points="139.04,433.23 142.44,433.23 140.74,430.17" fill="#000"/>
<polygon points="145.51,433.23 148.91,433.23 147.21,430.17" fill="#000"/>
<circle cx="153.69" cy="431.60" r="2.45" fill="none" stroke="#222" stroke-width="0.5" />
<polygon points="158.46,433.23 161.86,433.23 160.16,430.17" fill="#000"/>
<polygon points="177.89,433.23 181.29,433.23 179.59,430.17" fill="#000"/>
<polygon points="262.06,433.23 265.46,433.23 263.76,430.17" fill="#000"/>
<polygon points="408.66,433.23 412.06,433.23 410.36,430.17" fill="#000"/>
<circle cx="423.38" cy="431.60" r="2.45" fill="none" stroke="#222" stroke-width="0.5" />
<polygon points="467.25,433.23 470.65,433.23 468.95,430.17" fill="#000"/>
<polygon points="145.51,439.36 148.91,439.36 147.21,436.30" fill="#000"/>
<polygon points="158.46,439.36 161.86,439.36 160.16,436.30" fill="#000"/>
<polygon points="177.89,439.36 181.29,439.36 179.59,436.30" fill="#000"/>
<polygon points="190.84,439.36 194.24,439.36 192.54,436.30" fill="#000"/>
<polygon points="287.96,439.36 291.36,439.36 289.66,436.30" fill="#000"/>
<polygon points="408.66,439.36 412.06,439.36 410.36,436.30" fill="#000"/>
<polygon points="415.17,439.36 418.56,439.36 416.87,436.30" fill="#000"/>
<polygon points="434.70,439.36 438.10,439.36 436.40,436.30" fill="#000"/>
<polygon points="139.04,445.49 142.44,445.49 140.74,442.43" fill="#000"/>
<polygon points="171.41,445.49 174.81,445.49 173.11,442.43" fill="#000"/>
<polygon points="184.36,445.49 187.76,445.49 186.06,442.43" fill="#000"/>
<polygon points="249.11,445.49 252.51,445.49 250.81,442.43" fill="#000"/>
<polygon points="275.01,445.49 278.41,445.49 276.71,442.43" fill="#000"/>
<polygon points="333.29,445.49 336.69,445.49 334.99,442.43" fill="#000"/>
<polygon points="441.21,445.49 444.61,445.49 442.91,442.43" fill="#000"/>
<polygon points="145.51,451.62 148.91,451.62 147.21,448.56" fill="#000"/>
<polygon points="171.41,451.62 174.81,451.62 173.11,448.56" fill="#000"/>
<polygon points="190.84,451.62 194.24,451.62 192.54,448.56" fill="#000"/>
<polygon points="197.31,451.62 200.71,451.62 199.01,448.56" fill="#000"/>
<polygon points="210.26,451.62 213.66,451.62 211.96,448.56" fill="#000"/>
<polygon points="216.74,451.62 220.14,451.62 218.44,448.56" fill="#000"/>
<circle cx="153.69" cy="456.12" r="2.45" fill="none" stroke="#222" stroke-width="0.5" />
<polygon points="158.46,457.75 161.86,457.75 160.16,454.69" fill="#000"/>
<polygon points="223.21,457.75 226.61,457.75 224.91,454.69" fill="#000"/>
<circle cx="423.38" cy="456.12" r="2.45" fill="none" stroke="#222" stroke-width="0.5" />
<circle cx="429.89" cy="456.12" r="2.45" fill="none" stroke="#222" stroke-width="0.5" />
<circle cx="218.44" cy="462.25" r="2.45" fill="none" stroke="#222" stroke-width="0.5" />
<circle cx="231.39" cy="462.25" r="2.45" fill="none" stroke="#222" stroke-width="0.5" />
<polygon points="408.66,463.88 412.06,463.88 410.36,460.82" fill="#000"/>
<polygon points="434.70,463.88 438.10,463.88 436.40,460.82" fill="#000"/>
<circle cx="455.93" cy="462.25" r="2.45" fill="none" stroke="#222" stroke-width="0.5" />
<polygon points="139.04,470.00 142.44,470.00 140.74,466.95" fill="#000"/>
<circle cx="153.69" cy="468.38" r="2.45" fill="none" stroke="#222" stroke-width="0.5" />
<circle cx="186.06" cy="468.38" r="2.45" fill="none" stroke="#222" stroke-width="0.5" />
<circle cx="231.39" cy="468.38" r="2.45" fill="none" stroke="#222" stroke-width="0.5" />
<circle cx="410.36" cy="468.38" r="2.45" fill="none" stroke="#222" stroke-width="0.5" />
<circle cx="153.69" cy="474.50" r="2.45" fill="none" stroke="#222" stroke-width="0.5" />
<polygon points="190.84,476.13 194.24,476.13 192.54,473.08" fill="#000"/>
<polygon points="229.69,476.13 233.09,476.13 231.39,473.08" fill="#000"/>
<polygon points="365.66,476.13 369.06,476.13 367.36,473.08" fill="#000"/>
<polygon points="415.17,476.13 418.56,476.13 416.87,473.08" fill="#000"/>
<circle cx="173.11" cy="480.63" r="2.45" fill="none" stroke="#222" stroke-width="0.5" />
<polygon points="184.36,482.26 187.76,482.26 186.06,479.21" fill="#000"/>
<circle cx="244.34" cy="480.63" r="2.45" fill="none" stroke="#222" stroke-width="0.5" />
<circle cx="309.09" cy="480.63" r="2.45" fill="none" stroke="#222" stroke-width="0.5" />
<circle cx="449.42" cy="480.63" r="2.45" fill="none" stroke="#222" stroke-width="0.5" />
<polygon points="139.04,488.39 142.44,488.39 140.74,485.34" fill="#000"/>
<polygon points="164.94,488.39 168.34,488.39 166.64,485.34" fill="#000"/>
<polygon points="177.89,488.39 181.29,488.39 179.59,485.34" fill="#000"/>
<polygon points="408.66,488.39 412.06,488.39 410.36,485.34" fill="#000"/>
<polygon points="415.17,488.39 418.56,488.39 416.87,485.34" fill="#000"/>
<circle cx="153.69" cy="492.89" r="2.45" fill="none" stroke="#222" stroke-width="0.5" />
<polygon points="158.46,494.52 161.86,494.52 160.16,491.47" fill="#000"/>
<polygon points="223.21,494.52 226.61,494.52 224.91,491.47" fill="#000"/>
<circle cx="423.38" cy="492.89" r="2.45" fill="none" stroke="#222" stroke-width="0.5" />
<circle cx="429.89" cy="492.89" r="2.45" fill="none" stroke="#222" stroke-width="0.5" />
<polygon points="139.04,500.66 142.44,500.66 140.74,497.60" fill="#000"/>
<polygon points="164.94,500.66 168.34,500.66 166.64,497.60" fill="#000"/>
<polygon points="268.54,500.66 271.94,500.66 270.24,497.60" fill="#000"/>
<polygon points="512.81,500.66 516.22,500.66 514.51,497.60" fill="#000"/>
<polygon points="158.46,506.79 161.86,506.79 160.16,503.73" fill="#000"/>
<polygon points="164.94,506.79 168.34,506.79 166.64,503.73" fill="#000"/>
<polygon points="203.79,506.79 207.19,506.79 205.49,503.73" fill="#000"/>
<polygon points="216.74,506.79 220.14,506.79 218.44,503.73" fill="#000"/>
<polygon points="145.51,512.92 148.91,512.92 147.21,509.86" fill="#000"/>
<polygon points="158.46,512.92 161.86,512.92 160.16,509.86" fill="#000"/>
<polygon points="177.89,512.92 181.29,512.92 179.59,509.86" fill="#000"/>
<polygon points="480.27,519.04 483.67,519.04 481.97,515.99" fill="#000"/>
<line x1="135.30" y1="364.17" x2="137.50" y2="364.17" stroke="#444" stroke-width="0.4" />
<text x="44.5" y="366.77" font-size="6.1" fill="#222" stroke="#222" stroke-width="0.05"><tspan>g__</tspan><tspan font-style="italic">Treponema</tspan></text>
<line x1="135.30" y1="370.30" x2="137.50" y2="370.30" stroke="#444" stroke-width="0.4" />
<text x="44.5" y="372.90" font-size="6.1" fill="#222" stroke="#222" stroke-width="0.05"><tspan>s__</tspan><tspan font-style="italic">Fn. vincentii</tspan></text>
<line x1="135.30" y1="376.43" x2="137.50" y2="376.43" stroke="#444" stroke-width="0.4" />
<text x="44.5" y="379.03" font-size="6.1" fill="#222" stroke="#222" stroke-width="0.05"><tspan>s__</tspan><tspan font-style="italic">Solobacterium moorei</tspan></text>
<line x1="135.30" y1="382.56" x2="137.50" y2="382.56" stroke="#444" stroke-width="0.4" />
<text x="44.5" y="385.16" font-size="6.1" fill="#222" stroke="#222" stroke-width="0.05"><tspan>g__</tspan><tspan font-style="italic">Anaerovibrio</tspan></text>
<line x1="135.30" y1="388.69" x2="137.50" y2="388.69" stroke="#444" stroke-width="0.4" />
<text x="44.5" y="391.29" font-size="6.1" fill="#222" stroke="#222" stroke-width="0.05"><tspan>s__</tspan><tspan font-style="italic">Fn. animalis</tspan><tspan> C2</tspan></text>
<line x1="135.30" y1="394.81" x2="137.50" y2="394.81" stroke="#444" stroke-width="0.4" />
<text x="44.5" y="397.42" font-size="6.1" fill="#222" stroke="#222" stroke-width="0.05"><tspan>s__</tspan><tspan font-style="italic">Fn. nucleatum</tspan></text>
<line x1="135.30" y1="400.95" x2="137.50" y2="400.95" stroke="#444" stroke-width="0.4" />
<text x="44.5" y="403.55" font-size="6.1" fill="#222" stroke="#222" stroke-width="0.05"><tspan>s__</tspan><tspan font-style="italic">Fn.polymorphum</tspan></text>
<line x1="135.30" y1="407.08" x2="137.50" y2="407.08" stroke="#444" stroke-width="0.4" />
<text x="44.5" y="409.68" font-size="6.1" fill="#222" stroke="#222" stroke-width="0.05"><tspan>g__</tspan><tspan>F0040</tspan></text>
<line x1="135.30" y1="413.21" x2="137.50" y2="413.21" stroke="#444" stroke-width="0.4" />
<text x="44.5" y="415.81" font-size="6.1" fill="#222" stroke="#222" stroke-width="0.05"><tspan>s__</tspan><tspan font-style="italic">Prevotella intermedia</tspan></text>
<line x1="135.30" y1="419.34" x2="137.50" y2="419.34" stroke="#444" stroke-width="0.4" />
<text x="44.5" y="421.94" font-size="6.1" fill="#222" stroke="#222" stroke-width="0.05"><tspan>g__</tspan><tspan font-style="italic">Peptostreptococcus</tspan></text>
<line x1="135.30" y1="425.47" x2="137.50" y2="425.47" stroke="#444" stroke-width="0.4" />
<text x="44.5" y="428.07" font-size="6.1" fill="#222" stroke="#222" stroke-width="0.05"><tspan>g__</tspan><tspan font-style="italic">Selenomonas</tspan></text>
<line x1="135.30" y1="431.60" x2="137.50" y2="431.60" stroke="#444" stroke-width="0.4" />
<text x="44.5" y="434.20" font-size="6.1" fill="#222" stroke="#222" stroke-width="0.05"><tspan>s__</tspan><tspan font-style="italic">Peptostreptococcus stomatis</tspan></text>
<line x1="135.30" y1="437.73" x2="137.50" y2="437.73" stroke="#444" stroke-width="0.4" />
<text x="44.5" y="440.33" font-size="6.1" fill="#222" stroke="#222" stroke-width="0.05"><tspan>s__</tspan><tspan font-style="italic">Parvimonas micra</tspan></text>
<line x1="135.30" y1="443.86" x2="137.50" y2="443.86" stroke="#444" stroke-width="0.4" />
<text x="44.5" y="446.46" font-size="6.1" fill="#222" stroke="#222" stroke-width="0.05"><tspan>g__</tspan><tspan font-style="italic">Mitsuokella</tspan></text>
<line x1="135.30" y1="449.99" x2="137.50" y2="449.99" stroke="#444" stroke-width="0.4" />
<text x="44.5" y="452.59" font-size="6.1" fill="#222" stroke="#222" stroke-width="0.05"><tspan>g__</tspan><tspan font-style="italic">Fusobacterium</tspan></text>
<line x1="135.30" y1="456.12" x2="137.50" y2="456.12" stroke="#444" stroke-width="0.4" />
<text x="44.5" y="458.72" font-size="6.1" fill="#222" stroke="#222" stroke-width="0.05"><tspan>g__</tspan><tspan font-style="italic">Alloprevotella</tspan></text>
<line x1="135.30" y1="462.25" x2="137.50" y2="462.25" stroke="#444" stroke-width="0.4" />
<text x="44.5" y="464.85" font-size="6.1" fill="#222" stroke="#222" stroke-width="0.05"><tspan>g__</tspan><tspan font-style="italic">Campylobacter</tspan></text>
<line x1="135.30" y1="468.38" x2="137.50" y2="468.38" stroke="#444" stroke-width="0.4" />
<text x="44.5" y="470.98" font-size="6.1" fill="#222" stroke="#222" stroke-width="0.05"><tspan>g__</tspan><tspan font-style="italic">Lachnoanaerobaculum</tspan></text>
<line x1="135.30" y1="474.50" x2="137.50" y2="474.50" stroke="#444" stroke-width="0.4" />
<text x="44.5" y="477.11" font-size="6.1" fill="#222" stroke="#222" stroke-width="0.05"><tspan>g__</tspan><tspan font-style="italic">Leptotrichia</tspan></text>
<line x1="135.30" y1="480.63" x2="137.50" y2="480.63" stroke="#444" stroke-width="0.4" />
<text x="44.5" y="483.24" font-size="6.1" fill="#222" stroke="#222" stroke-width="0.05"><tspan>g__</tspan><tspan font-style="italic">Megamonas</tspan></text>
<line x1="135.30" y1="486.76" x2="137.50" y2="486.76" stroke="#444" stroke-width="0.4" />
<text x="44.5" y="489.37" font-size="6.1" fill="#222" stroke="#222" stroke-width="0.05"><tspan>g__</tspan><tspan font-style="italic">Parvimonas</tspan></text>
<line x1="135.30" y1="492.89" x2="137.50" y2="492.89" stroke="#444" stroke-width="0.4" />
<text x="44.5" y="495.50" font-size="6.1" fill="#222" stroke="#222" stroke-width="0.05"><tspan>s__</tspan><tspan font-style="italic">Alloprevotella tannerae</tspan></text>
<line x1="135.30" y1="499.03" x2="137.50" y2="499.03" stroke="#444" stroke-width="0.4" />
<text x="44.5" y="501.63" font-size="6.1" fill="#222" stroke="#222" stroke-width="0.05"><tspan>g__</tspan><tspan font-style="italic">Clostridioides</tspan></text>
<line x1="135.30" y1="505.16" x2="137.50" y2="505.16" stroke="#444" stroke-width="0.4" />
<text x="44.5" y="507.76" font-size="6.1" fill="#222" stroke="#222" stroke-width="0.05"><tspan>g__</tspan><tspan font-style="italic">Solobacterium</tspan></text>
<line x1="135.30" y1="511.29" x2="137.50" y2="511.29" stroke="#444" stroke-width="0.4" />
<text x="44.5" y="513.88" font-size="6.1" fill="#222" stroke="#222" stroke-width="0.05"><tspan>s__</tspan><tspan font-style="italic">Parvimonas</tspan><tspan> sp.(01235)</tspan></text>
<line x1="135.30" y1="517.41" x2="137.50" y2="517.41" stroke="#444" stroke-width="0.4" />
<text x="44.5" y="520.01" font-size="6.1" fill="#222" stroke="#222" stroke-width="0.05"><tspan>g__</tspan><tspan>GCA−900066495</tspan></text>
<rect x="137.50" y="528.20" width="6.52" height="6.50" fill="#f6f6f6" />
<rect x="137.50" y="534.70" width="6.52" height="6.80" fill="#999" />
<rect x="143.97" y="528.20" width="6.52" height="6.50" fill="#eeeeee" />
<rect x="143.97" y="534.70" width="6.52" height="6.80" fill="#111" />
<rect x="150.45" y="528.20" width="6.52" height="6.50" fill="#f3f3f3" />
<rect x="150.45" y="534.70" width="6.52" height="6.80" fill="#bbb" />
<rect x="156.93" y="528.20" width="6.52" height="6.50" fill="#f6f6f6" />
<rect x="156.93" y="534.70" width="6.52" height="6.80" fill="#bbb" />
<rect x="163.40" y="528.20" width="6.52" height="6.50" fill="#eeeeee" />
<rect x="163.40" y="534.70" width="6.52" height="6.80" fill="#999" />
<rect x="169.88" y="528.20" width="6.52" height="6.50" fill="#e3e3e3" />
<rect x="169.88" y="534.70" width="6.52" height="6.80" fill="#333" />
<rect x="176.35" y="528.20" width="6.52" height="6.50" fill="#e9e9e9" />
<rect x="176.35" y="534.70" width="6.52" height="6.80" fill="#666" />
<rect x="182.82" y="528.20" width="6.52" height="6.50" fill="#f0f0f0" />
<rect x="182.82" y="534.70" width="6.52" height="6.80" fill="#999" />
<rect x="189.30" y="528.20" width="6.52" height="6.50" fill="#ececec" />
<rect x="189.30" y="534.70" width="6.52" height="6.80" fill="#333" />
<rect x="195.78" y="528.20" width="6.52" height="6.50" fill="#f4f4f4" />
<rect x="195.78" y="534.70" width="6.52" height="6.80" fill="#aaa" />
<rect x="202.25" y="528.20" width="6.52" height="6.50" fill="#f6f6f6" />
<rect x="202.25" y="534.70" width="6.52" height="6.80" fill="#222" />
<rect x="208.72" y="528.20" width="6.52" height="6.50" fill="#f4f4f4" />
<rect x="208.72" y="534.70" width="6.52" height="6.80" fill="#444" />
<rect x="215.20" y="528.20" width="6.52" height="6.50" fill="#f4f4f4" />
<rect x="215.20" y="534.70" width="6.52" height="6.80" fill="#777" />
<rect x="221.68" y="528.20" width="6.52" height="6.50" fill="#e6e6e6" />
<rect x="221.68" y="534.70" width="6.52" height="6.80" fill="#ddd" />
<rect x="228.15" y="528.20" width="6.52" height="6.50" fill="#f6f6f6" />
<rect x="228.15" y="534.70" width="6.52" height="6.80" fill="#666" />
<rect x="234.62" y="528.20" width="6.52" height="6.50" fill="#f3f3f3" />
<rect x="234.62" y="534.70" width="6.52" height="6.80" fill="#888" />
<rect x="241.10" y="528.20" width="6.52" height="6.50" fill="#f3f3f3" />
<rect x="241.10" y="534.70" width="6.52" height="6.80" fill="#888" />
<rect x="247.57" y="528.20" width="6.52" height="6.50" fill="#f3f3f3" />
<rect x="247.57" y="534.70" width="6.52" height="6.80" fill="#aaa" />
<rect x="254.05" y="528.20" width="6.52" height="6.50" fill="#f3f3f3" />
<rect x="254.05" y="534.70" width="6.52" height="6.80" fill="#aaa" />
<rect x="260.52" y="528.20" width="6.52" height="6.50" fill="#f3f3f3" />
<rect x="260.52" y="534.70" width="6.52" height="6.80" fill="#ddd" />
<rect x="267.00" y="528.20" width="6.52" height="6.50" fill="#f3f3f3" />
<rect x="267.00" y="534.70" width="6.52" height="6.80" fill="#999" />
<rect x="273.48" y="528.20" width="6.52" height="6.50" fill="#f3f3f3" />
<rect x="273.48" y="534.70" width="6.52" height="6.80" fill="#666" />
<rect x="279.95" y="528.20" width="6.52" height="6.50" fill="#eeeeee" />
<rect x="279.95" y="534.70" width="6.52" height="6.80" fill="#aaa" />
<rect x="286.42" y="528.20" width="6.52" height="6.50" fill="#f3f3f3" />
<rect x="286.42" y="534.70" width="6.52" height="6.80" fill="#bbb" />
<rect x="292.90" y="528.20" width="6.52" height="6.50" fill="#dddddd" />
<rect x="292.90" y="534.70" width="6.52" height="6.80" fill="#aaa" />
<rect x="299.38" y="528.20" width="6.52" height="6.50" fill="#f3f3f3" />
<rect x="299.38" y="534.70" width="6.52" height="6.80" fill="#999" />
<rect x="305.85" y="528.20" width="6.52" height="6.50" fill="#f3f3f3" />
<rect x="305.85" y="534.70" width="6.52" height="6.80" fill="#999" />
<rect x="312.32" y="528.20" width="6.52" height="6.50" fill="#f3f3f3" />
<rect x="312.32" y="534.70" width="6.52" height="6.80" fill="#e5e5e5" />
<rect x="318.80" y="528.20" width="6.52" height="6.50" fill="#dddddd" />
<rect x="318.80" y="534.70" width="6.52" height="6.80" fill="#888" />
<rect x="325.27" y="528.20" width="6.52" height="6.50" fill="#f6f6f6" />
<rect x="325.27" y="534.70" width="6.52" height="6.80" fill="#bbb" />
<rect x="331.75" y="528.20" width="6.52" height="6.50" fill="#f6f6f6" />
<rect x="331.75" y="534.70" width="6.52" height="6.80" fill="#bbb" />
<rect x="338.23" y="528.20" width="6.52" height="6.50" fill="#eeeeee" />
<rect x="338.23" y="534.70" width="6.52" height="6.80" fill="#aaa" />
<rect x="344.70" y="528.20" width="6.52" height="6.50" fill="#eeeeee" />
<rect x="344.70" y="534.70" width="6.52" height="6.80" fill="#aaa" />
<rect x="351.17" y="528.20" width="6.52" height="6.50" fill="#f3f3f3" />
<rect x="351.17" y="534.70" width="6.52" height="6.80" fill="#ccc" />
<rect x="357.65" y="528.20" width="6.52" height="6.50" fill="#eeeeee" />
<rect x="357.65" y="534.70" width="6.52" height="6.80" fill="#ccc" />
<rect x="364.12" y="528.20" width="6.52" height="6.50" fill="#f3f3f3" />
<rect x="364.12" y="534.70" width="6.52" height="6.80" fill="#bbb" />
<rect x="370.60" y="528.20" width="6.52" height="6.50" fill="#eeeeee" />
<rect x="370.60" y="534.70" width="6.52" height="6.80" fill="#ccc" />
<rect x="377.07" y="528.20" width="6.52" height="6.50" fill="#f6f6f6" />
<rect x="377.07" y="534.70" width="6.52" height="6.80" fill="#ddd" />
<rect x="383.55" y="528.20" width="6.52" height="6.50" fill="#f3f3f3" />
<rect x="383.55" y="534.70" width="6.52" height="6.80" fill="#bbb" />
<rect x="390.02" y="528.20" width="6.52" height="6.50" fill="#eeeeee" />
<rect x="390.02" y="534.70" width="6.52" height="6.80" fill="#eee" />
<rect x="396.50" y="528.20" width="6.52" height="6.50" fill="#000000" />
<rect x="396.50" y="534.70" width="6.52" height="6.80" fill="#777" />
<rect x="407.10" y="528.20" width="6.56" height="6.50" fill="#f8f8f8" />
<rect x="407.10" y="534.70" width="6.56" height="6.80" fill="#555" />
<rect x="413.61" y="528.20" width="6.56" height="6.50" fill="#f8f8f8" />
<rect x="413.61" y="534.70" width="6.56" height="6.80" fill="#999" />
<rect x="420.12" y="528.20" width="6.56" height="6.50" fill="#f8f8f8" />
<rect x="420.12" y="534.70" width="6.56" height="6.80" fill="#bbb" />
<rect x="426.63" y="528.20" width="6.56" height="6.50" fill="#f8f8f8" />
<rect x="426.63" y="534.70" width="6.56" height="6.80" fill="#aaa" />
<rect x="433.14" y="528.20" width="6.56" height="6.50" fill="#f8f8f8" />
<rect x="433.14" y="534.70" width="6.56" height="6.80" fill="#bbb" />
<rect x="439.65" y="528.20" width="6.56" height="6.50" fill="#f8f8f8" />
<rect x="439.65" y="534.70" width="6.56" height="6.80" fill="#bbb" />
<rect x="446.16" y="528.20" width="6.56" height="6.50" fill="#f8f8f8" />
<rect x="446.16" y="534.70" width="6.56" height="6.80" fill="#666" />
<rect x="452.67" y="528.20" width="6.56" height="6.50" fill="#f8f8f8" />
<rect x="452.67" y="534.70" width="6.56" height="6.80" fill="#bbb" />
<rect x="459.18" y="528.20" width="6.56" height="6.50" fill="#f8f8f8" />
<rect x="459.18" y="534.70" width="6.56" height="6.80" fill="#666" />
<rect x="465.69" y="528.20" width="6.56" height="6.50" fill="#f8f8f8" />
<rect x="465.69" y="534.70" width="6.56" height="6.80" fill="#777" />
<rect x="472.20" y="528.20" width="6.56" height="6.50" fill="#f8f8f8" />
<rect x="472.20" y="534.70" width="6.56" height="6.80" fill="#ccc" />
<rect x="478.71" y="528.20" width="6.56" height="6.50" fill="#f8f8f8" />
<rect x="478.71" y="534.70" width="6.56" height="6.80" fill="#ccc" />
<rect x="485.22" y="528.20" width="6.56" height="6.50" fill="#f8f8f8" />
<rect x="485.22" y="534.70" width="6.56" height="6.80" fill="#ddd" />
<rect x="491.73" y="528.20" width="6.56" height="6.50" fill="#f8f8f8" />
<rect x="491.73" y="534.70" width="6.56" height="6.80" fill="#999" />
<rect x="498.24" y="528.20" width="6.56" height="6.50" fill="#f8f8f8" />
<rect x="498.24" y="534.70" width="6.56" height="6.80" fill="#ddd" />
<rect x="504.75" y="528.20" width="6.56" height="6.50" fill="#f4f4f4" />
<rect x="504.75" y="534.70" width="6.56" height="6.80" fill="#bbb" />
<rect x="511.26" y="528.20" width="6.56" height="6.50" fill="#f6f6f6" />
<rect x="511.26" y="534.70" width="6.56" height="6.80" fill="#ddd" />
<rect x="517.77" y="528.20" width="6.56" height="6.50" fill="#eeeeee" />
<rect x="517.77" y="534.70" width="6.56" height="6.80" fill="#aaa" />
<rect x="137.50" y="528.20" width="265.47" height="13.30" fill="none" stroke="#888" stroke-width="0.5" />
<rect x="407.10" y="528.20" width="117.18" height="13.30" fill="none" stroke="#888" stroke-width="0.5" />
<text x="134.00" y="533.70" font-size="6.6" text-anchor="end" fill="#222"  stroke="#222" stroke-width="0.05">nHM</text>
<text x="134.00" y="540.50" font-size="6.6" text-anchor="end" fill="#222"  stroke="#222" stroke-width="0.05">HM</text>
<line x1="135.30" y1="531.45" x2="137.50" y2="531.45" stroke="#444" stroke-width="0.4" />
<line x1="135.30" y1="538.10" x2="137.50" y2="538.10" stroke="#444" stroke-width="0.4" />
<line x1="140.74" y1="541.50" x2="140.74" y2="542.80" stroke="#444" stroke-width="0.4" />
<text x="138.54" y="544.30" font-size="6.5" fill="#222" transform="rotate(90 138.54 544.30)"  stroke="#222" stroke-width="0.05">CASP8</text>
<line x1="147.21" y1="541.50" x2="147.21" y2="542.80" stroke="#444" stroke-width="0.4" />
<text x="145.01" y="544.30" font-size="6.5" fill="#222" transform="rotate(90 145.01 544.30)"  stroke="#222" stroke-width="0.05">ACVR2A</text>
<line x1="153.69" y1="541.50" x2="153.69" y2="542.80" stroke="#444" stroke-width="0.4" />
<text x="151.49" y="544.30" font-size="6.5" fill="#222" transform="rotate(90 151.49 544.30)"  stroke="#222" stroke-width="0.05">HLA−A</text>
<line x1="160.16" y1="541.50" x2="160.16" y2="542.80" stroke="#444" stroke-width="0.4" />
<text x="157.96" y="544.30" font-size="6.5" fill="#222" transform="rotate(90 157.96 544.30)"  stroke="#222" stroke-width="0.05">CD58</text>
<line x1="166.64" y1="541.50" x2="166.64" y2="542.80" stroke="#444" stroke-width="0.4" />
<text x="164.44" y="544.30" font-size="6.5" fill="#222" transform="rotate(90 164.44 544.30)"  stroke="#222" stroke-width="0.05">BCL9</text>
<line x1="173.11" y1="541.50" x2="173.11" y2="542.80" stroke="#444" stroke-width="0.4" />
<text x="170.91" y="544.30" font-size="6.5" fill="#222" transform="rotate(90 170.91 544.30)"  stroke="#222" stroke-width="0.05">BRAF</text>
<line x1="179.59" y1="541.50" x2="179.59" y2="542.80" stroke="#444" stroke-width="0.4" />
<text x="177.39" y="544.30" font-size="6.5" fill="#222" transform="rotate(90 177.39 544.30)"  stroke="#222" stroke-width="0.05">ARID1A</text>
<line x1="186.06" y1="541.50" x2="186.06" y2="542.80" stroke="#444" stroke-width="0.4" />
<text x="183.86" y="544.30" font-size="6.5" fill="#222" transform="rotate(90 183.86 544.30)"  stroke="#222" stroke-width="0.05">ARID1B</text>
<line x1="192.54" y1="541.50" x2="192.54" y2="542.80" stroke="#444" stroke-width="0.4" />
<text x="190.34" y="544.30" font-size="6.5" fill="#222" transform="rotate(90 190.34 544.30)"  stroke="#222" stroke-width="0.05">BMPR2</text>
<line x1="199.01" y1="541.50" x2="199.01" y2="542.80" stroke="#444" stroke-width="0.4" />
<text x="196.81" y="544.30" font-size="6.5" fill="#222" transform="rotate(90 196.81 544.30)"  stroke="#222" stroke-width="0.05">MIDEAS</text>
<line x1="205.49" y1="541.50" x2="205.49" y2="542.80" stroke="#444" stroke-width="0.4" />
<text x="203.29" y="544.30" font-size="6.5" fill="#222" transform="rotate(90 203.29 544.30)"  stroke="#222" stroke-width="0.05">RNF43</text>
<line x1="211.96" y1="541.50" x2="211.96" y2="542.80" stroke="#444" stroke-width="0.4" />
<text x="209.76" y="544.30" font-size="6.5" fill="#222" transform="rotate(90 209.76 544.30)"  stroke="#222" stroke-width="0.05">RPL22</text>
<line x1="218.44" y1="541.50" x2="218.44" y2="542.80" stroke="#444" stroke-width="0.4" />
<text x="216.24" y="544.30" font-size="6.5" fill="#222" transform="rotate(90 216.24 544.30)"  stroke="#222" stroke-width="0.05">BCL9L</text>
<line x1="224.91" y1="541.50" x2="224.91" y2="542.80" stroke="#444" stroke-width="0.4" />
<text x="222.71" y="544.30" font-size="6.5" fill="#222" transform="rotate(90 222.71 544.30)"  stroke="#222" stroke-width="0.05">CDH1</text>
<line x1="231.39" y1="541.50" x2="231.39" y2="542.80" stroke="#444" stroke-width="0.4" />
<text x="229.19" y="544.30" font-size="6.5" fill="#222" transform="rotate(90 229.19 544.30)"  stroke="#222" stroke-width="0.05">TGFBR2</text>
<line x1="237.86" y1="541.50" x2="237.86" y2="542.80" stroke="#444" stroke-width="0.4" />
<text x="235.66" y="544.30" font-size="6.5" fill="#222" transform="rotate(90 235.66 544.30)"  stroke="#222" stroke-width="0.05">MBD6</text>
<line x1="244.34" y1="541.50" x2="244.34" y2="542.80" stroke="#444" stroke-width="0.4" />
<text x="242.14" y="544.30" font-size="6.5" fill="#222" transform="rotate(90 242.14 544.30)"  stroke="#222" stroke-width="0.05">ZNRF3</text>
<line x1="250.81" y1="541.50" x2="250.81" y2="542.80" stroke="#444" stroke-width="0.4" />
<text x="248.61" y="544.30" font-size="6.5" fill="#222" transform="rotate(90 248.61 544.30)"  stroke="#222" stroke-width="0.05">ARID2</text>
<line x1="257.29" y1="541.50" x2="257.29" y2="542.80" stroke="#444" stroke-width="0.4" />
<text x="255.09" y="544.30" font-size="6.5" fill="#222" transform="rotate(90 255.09 544.30)"  stroke="#222" stroke-width="0.05">BAX</text>
<line x1="263.76" y1="541.50" x2="263.76" y2="542.80" stroke="#444" stroke-width="0.4" />
<text x="261.56" y="544.30" font-size="6.5" fill="#222" transform="rotate(90 261.56 544.30)"  stroke="#222" stroke-width="0.05">CYP7B1</text>
<line x1="270.24" y1="541.50" x2="270.24" y2="542.80" stroke="#444" stroke-width="0.4" />
<text x="268.04" y="544.30" font-size="6.5" fill="#222" transform="rotate(90 268.04 544.30)"  stroke="#222" stroke-width="0.05">GNAS</text>
<line x1="276.71" y1="541.50" x2="276.71" y2="542.80" stroke="#444" stroke-width="0.4" />
<text x="274.51" y="544.30" font-size="6.5" fill="#222" transform="rotate(90 274.51 544.30)"  stroke="#222" stroke-width="0.05">KMT2B</text>
<line x1="283.19" y1="541.50" x2="283.19" y2="542.80" stroke="#444" stroke-width="0.4" />
<text x="280.99" y="544.30" font-size="6.5" fill="#222" transform="rotate(90 280.99 544.30)"  stroke="#222" stroke-width="0.05">PTEN</text>
<line x1="289.66" y1="541.50" x2="289.66" y2="542.80" stroke="#444" stroke-width="0.4" />
<text x="287.46" y="544.30" font-size="6.5" fill="#222" transform="rotate(90 287.46 544.30)"  stroke="#222" stroke-width="0.05">ACVR1B</text>
<line x1="296.14" y1="541.50" x2="296.14" y2="542.80" stroke="#444" stroke-width="0.4" />
<text x="293.94" y="544.30" font-size="6.5" fill="#222" transform="rotate(90 293.94 544.30)"  stroke="#222" stroke-width="0.05">AMER1</text>
<line x1="302.61" y1="541.50" x2="302.61" y2="542.80" stroke="#444" stroke-width="0.4" />
<text x="300.41" y="544.30" font-size="6.5" fill="#222" transform="rotate(90 300.41 544.30)"  stroke="#222" stroke-width="0.05">ASXL1</text>
<line x1="309.09" y1="541.50" x2="309.09" y2="542.80" stroke="#444" stroke-width="0.4" />
<text x="306.89" y="544.30" font-size="6.5" fill="#222" transform="rotate(90 306.89 544.30)"  stroke="#222" stroke-width="0.05">BCOR</text>
<line x1="315.56" y1="541.50" x2="315.56" y2="542.80" stroke="#444" stroke-width="0.4" />
<text x="313.36" y="544.30" font-size="6.5" fill="#222" transform="rotate(90 313.36 544.30)"  stroke="#222" stroke-width="0.05">DUSP16</text>
<line x1="322.04" y1="541.50" x2="322.04" y2="542.80" stroke="#444" stroke-width="0.4" />
<text x="319.84" y="544.30" font-size="6.5" fill="#222" transform="rotate(90 319.84 544.30)"  stroke="#222" stroke-width="0.05">FBXW7</text>
<line x1="328.51" y1="541.50" x2="328.51" y2="542.80" stroke="#444" stroke-width="0.4" />
<text x="326.31" y="544.30" font-size="6.5" fill="#222" transform="rotate(90 326.31 544.30)"  stroke="#222" stroke-width="0.05">FLCN</text>
<line x1="334.99" y1="541.50" x2="334.99" y2="542.80" stroke="#444" stroke-width="0.4" />
<text x="332.79" y="544.30" font-size="6.5" fill="#222" transform="rotate(90 332.79 544.30)"  stroke="#222" stroke-width="0.05">HLA−B</text>
<line x1="341.46" y1="541.50" x2="341.46" y2="542.80" stroke="#444" stroke-width="0.4" />
<text x="339.26" y="544.30" font-size="6.5" fill="#222" transform="rotate(90 339.26 544.30)"  stroke="#222" stroke-width="0.05">MAP3K21</text>
<line x1="347.94" y1="541.50" x2="347.94" y2="542.80" stroke="#444" stroke-width="0.4" />
<text x="345.74" y="544.30" font-size="6.5" fill="#222" transform="rotate(90 345.74 544.30)"  stroke="#222" stroke-width="0.05">PIK3R1</text>
<line x1="354.41" y1="541.50" x2="354.41" y2="542.80" stroke="#444" stroke-width="0.4" />
<text x="352.21" y="544.30" font-size="6.5" fill="#222" transform="rotate(90 352.21 544.30)"  stroke="#222" stroke-width="0.05">RUNX1</text>
<line x1="360.89" y1="541.50" x2="360.89" y2="542.80" stroke="#444" stroke-width="0.4" />
<text x="358.69" y="544.30" font-size="6.5" fill="#222" transform="rotate(90 358.69 544.30)"  stroke="#222" stroke-width="0.05">SETD5</text>
<line x1="367.36" y1="541.50" x2="367.36" y2="542.80" stroke="#444" stroke-width="0.4" />
<text x="365.16" y="544.30" font-size="6.5" fill="#222" transform="rotate(90 365.16 544.30)"  stroke="#222" stroke-width="0.05">SIN3A</text>
<line x1="373.84" y1="541.50" x2="373.84" y2="542.80" stroke="#444" stroke-width="0.4" />
<text x="371.64" y="544.30" font-size="6.5" fill="#222" transform="rotate(90 371.64 544.30)"  stroke="#222" stroke-width="0.05">SMAD2</text>
<line x1="380.31" y1="541.50" x2="380.31" y2="542.80" stroke="#444" stroke-width="0.4" />
<text x="378.11" y="544.30" font-size="6.5" fill="#222" transform="rotate(90 378.11 544.30)"  stroke="#222" stroke-width="0.05">TAF2</text>
<line x1="386.79" y1="541.50" x2="386.79" y2="542.80" stroke="#444" stroke-width="0.4" />
<text x="384.59" y="544.30" font-size="6.5" fill="#222" transform="rotate(90 384.59 544.30)"  stroke="#222" stroke-width="0.05">TGIF1</text>
<line x1="393.26" y1="541.50" x2="393.26" y2="542.80" stroke="#444" stroke-width="0.4" />
<text x="391.06" y="544.30" font-size="6.5" fill="#222" transform="rotate(90 391.06 544.30)"  stroke="#222" stroke-width="0.05">TRPS1</text>
<line x1="399.74" y1="541.50" x2="399.74" y2="542.80" stroke="#444" stroke-width="0.4" />
<text x="397.54" y="544.30" font-size="6.5" fill="#222" transform="rotate(90 397.54 544.30)"  stroke="#222" stroke-width="0.05">APC</text>
<line x1="410.36" y1="541.50" x2="410.36" y2="542.80" stroke="#444" stroke-width="0.4" />
<text x="408.16" y="544.30" font-size="6.5" fill="#222" transform="rotate(90 408.16 544.30)"  stroke="#222" stroke-width="0.05">MSH3</text>
<line x1="416.87" y1="541.50" x2="416.87" y2="542.80" stroke="#444" stroke-width="0.4" />
<text x="414.67" y="544.30" font-size="6.5" fill="#222" transform="rotate(90 414.67 544.30)"  stroke="#222" stroke-width="0.05">MSH6</text>
<line x1="423.38" y1="541.50" x2="423.38" y2="542.80" stroke="#444" stroke-width="0.4" />
<text x="421.18" y="544.30" font-size="6.5" fill="#222" transform="rotate(90 421.18 544.30)"  stroke="#222" stroke-width="0.05">MLH3</text>
<line x1="429.89" y1="541.50" x2="429.89" y2="542.80" stroke="#444" stroke-width="0.4" />
<text x="427.69" y="544.30" font-size="6.5" fill="#222" transform="rotate(90 427.69 544.30)"  stroke="#222" stroke-width="0.05">TOP3A</text>
<line x1="436.40" y1="541.50" x2="436.40" y2="542.80" stroke="#444" stroke-width="0.4" />
<text x="434.20" y="544.30" font-size="6.5" fill="#222" transform="rotate(90 434.20 544.30)"  stroke="#222" stroke-width="0.05">RECQL4</text>
<line x1="442.91" y1="541.50" x2="442.91" y2="542.80" stroke="#444" stroke-width="0.4" />
<text x="440.71" y="544.30" font-size="6.5" fill="#222" transform="rotate(90 440.71 544.30)"  stroke="#222" stroke-width="0.05">RFC1</text>
<line x1="449.42" y1="541.50" x2="449.42" y2="542.80" stroke="#444" stroke-width="0.4" />
<text x="447.22" y="544.30" font-size="6.5" fill="#222" transform="rotate(90 447.22 544.30)"  stroke="#222" stroke-width="0.05">POLE</text>
<line x1="455.93" y1="541.50" x2="455.93" y2="542.80" stroke="#444" stroke-width="0.4" />
<text x="453.73" y="544.30" font-size="6.5" fill="#222" transform="rotate(90 453.73 544.30)"  stroke="#222" stroke-width="0.05">BRCA1</text>
<line x1="462.44" y1="541.50" x2="462.44" y2="542.80" stroke="#444" stroke-width="0.4" />
<text x="460.24" y="544.30" font-size="6.5" fill="#222" transform="rotate(90 460.24 544.30)"  stroke="#222" stroke-width="0.05">POLD1</text>
<line x1="468.95" y1="541.50" x2="468.95" y2="542.80" stroke="#444" stroke-width="0.4" />
<text x="466.75" y="544.30" font-size="6.5" fill="#222" transform="rotate(90 466.75 544.30)"  stroke="#222" stroke-width="0.05">BLM</text>
<line x1="475.46" y1="541.50" x2="475.46" y2="542.80" stroke="#444" stroke-width="0.4" />
<text x="473.26" y="544.30" font-size="6.5" fill="#222" transform="rotate(90 473.26 544.30)"  stroke="#222" stroke-width="0.05">MLH1</text>
<line x1="481.97" y1="541.50" x2="481.97" y2="542.80" stroke="#444" stroke-width="0.4" />
<text x="479.77" y="544.30" font-size="6.5" fill="#222" transform="rotate(90 479.77 544.30)"  stroke="#222" stroke-width="0.05">NEIL3</text>
<line x1="488.48" y1="541.50" x2="488.48" y2="542.80" stroke="#444" stroke-width="0.4" />
<text x="486.28" y="544.30" font-size="6.5" fill="#222" transform="rotate(90 486.28 544.30)"  stroke="#222" stroke-width="0.05">PNKP</text>
<line x1="494.99" y1="541.50" x2="494.99" y2="542.80" stroke="#444" stroke-width="0.4" />
<text x="492.79" y="544.30" font-size="6.5" fill="#222" transform="rotate(90 492.79 544.30)"  stroke="#222" stroke-width="0.05">POLD3</text>
<line x1="501.50" y1="541.50" x2="501.50" y2="542.80" stroke="#444" stroke-width="0.4" />
<text x="499.30" y="544.30" font-size="6.5" fill="#222" transform="rotate(90 499.30 544.30)"  stroke="#222" stroke-width="0.05">TDG</text>
<line x1="508.00" y1="541.50" x2="508.00" y2="542.80" stroke="#444" stroke-width="0.4" />
<text x="505.81" y="544.30" font-size="6.5" fill="#222" transform="rotate(90 505.81 544.30)"  stroke="#222" stroke-width="0.05">NBN</text>
<line x1="514.51" y1="541.50" x2="514.51" y2="542.80" stroke="#444" stroke-width="0.4" />
<text x="512.31" y="544.30" font-size="6.5" fill="#222" transform="rotate(90 512.31 544.30)"  stroke="#222" stroke-width="0.05">RAD54L</text>
<line x1="521.02" y1="541.50" x2="521.02" y2="542.80" stroke="#444" stroke-width="0.4" />
<text x="518.82" y="544.30" font-size="6.5" fill="#222" transform="rotate(90 518.82 544.30)"  stroke="#222" stroke-width="0.05">RAD54L2</text>
<rect x="530.20" y="360.50" width="59.30" height="160.70" fill="#fff" stroke="#555" stroke-width="0.5" />
<rect x="530.40" y="362.92" width="53.82" height="2.50" fill="#595959" />
<rect x="530.40" y="369.05" width="31.05" height="2.50" fill="#595959" />
<rect x="530.40" y="375.18" width="26.91" height="2.50" fill="#595959" />
<rect x="530.40" y="381.31" width="24.84" height="2.50" fill="#595959" />
<rect x="530.40" y="387.44" width="24.84" height="2.50" fill="#595959" />
<rect x="530.40" y="393.56" width="24.84" height="2.50" fill="#595959" />
<rect x="530.40" y="399.70" width="22.77" height="2.50" fill="#595959" />
<rect x="530.40" y="405.83" width="20.70" height="2.50" fill="#595959" />
<rect x="530.40" y="411.96" width="20.70" height="2.50" fill="#595959" />
<rect x="530.40" y="418.09" width="18.63" height="2.50" fill="#595959" />
<rect x="530.40" y="424.22" width="18.63" height="2.50" fill="#595959" />
<rect x="530.40" y="430.35" width="18.63" height="2.50" fill="#595959" />
<rect x="530.40" y="436.48" width="16.56" height="2.50" fill="#595959" />
<rect x="530.40" y="442.61" width="14.49" height="2.50" fill="#595959" />
<rect x="530.40" y="448.74" width="12.42" height="2.50" fill="#595959" />
<rect x="530.40" y="454.87" width="10.35" height="2.50" fill="#595959" />
<rect x="530.40" y="461.00" width="10.35" height="2.50" fill="#595959" />
<rect x="530.40" y="467.12" width="10.35" height="2.50" fill="#595959" />
<rect x="530.40" y="473.25" width="10.35" height="2.50" fill="#595959" />
<rect x="530.40" y="479.38" width="10.35" height="2.50" fill="#595959" />
<rect x="530.40" y="485.51" width="10.35" height="2.50" fill="#595959" />
<rect x="530.40" y="491.64" width="10.35" height="2.50" fill="#595959" />
<rect x="530.40" y="497.78" width="8.28" height="2.50" fill="#595959" />
<rect x="530.40" y="503.91" width="8.28" height="2.50" fill="#595959" />
<rect x="530.40" y="510.04" width="6.21" height="2.50" fill="#595959" />
<rect x="530.40" y="516.16" width="2.07" height="2.50" fill="#595959" />
<line x1="530.50" y1="521.20" x2="530.50" y2="522.80" stroke="#333" stroke-width="0.5" />
<text x="530.50" y="530.40" font-size="7.5" text-anchor="middle" fill="#333"  stroke="#333" stroke-width="0.05">0</text>
<line x1="551.20" y1="521.20" x2="551.20" y2="522.80" stroke="#333" stroke-width="0.5" />
<text x="551.20" y="530.40" font-size="7.5" text-anchor="middle" fill="#333"  stroke="#333" stroke-width="0.05">10</text>
<line x1="571.90" y1="521.20" x2="571.90" y2="522.80" stroke="#333" stroke-width="0.5" />
<text x="571.90" y="530.40" font-size="7.5" text-anchor="middle" fill="#333"  stroke="#333" stroke-width="0.05">20</text>
<text x="531.00" y="542.30" font-size="6.65" fill="#222"  stroke="#222" stroke-width="0.05">Number of consistently</text>
<text x="531.00" y="550.10" font-size="6.65" fill="#222"  stroke="#222" stroke-width="0.05">associated genes</text>
<text x="598.60" y="329.10" font-size="6.5" fill="#222"  stroke="#222" stroke-width="0.05">Validation</text>
<polygon points="599.30,344.47 607.90,344.47 603.60,336.73" fill="#000"/>
<circle cx="603.60" cy="351.60" r="4.20" fill="none" stroke="#222" stroke-width="0.6" />
<text x="614.00" y="342.20" font-size="6.1" fill="#222"  stroke="#222" stroke-width="0.05">UM (P &lt; 0.05)</text>
<text x="614.00" y="353.60" font-size="6.1" fill="#222"  stroke="#222" stroke-width="0.05">AC-ICAM (P&lt;0.05)</text>
<text x="605.50" y="378.60" font-size="6.5" fill="#222"  stroke="#222" stroke-width="0.05">Enrichment (UU)</text>
<rect x="603.90" y="383.60" width="12.80" height="12.60" fill="#e8898b" />
<text x="618.30" y="392.10" font-size="6.55" fill="#222"  stroke="#222" stroke-width="0.05">Adjusted P&lt;0.05</text>
<rect x="603.90" y="396.20" width="12.80" height="13.50" fill="#fde2d8" />
<text x="618.30" y="405.15" font-size="6.55" fill="#222"  stroke="#222" stroke-width="0.05">P&lt;0.05</text>
<rect x="603.90" y="410.80" width="12.80" height="13.10" fill="#9dcbf7" />
<text x="618.30" y="419.55" font-size="6.55" fill="#222"  stroke="#222" stroke-width="0.05">P&lt;0.05</text>
<rect x="603.90" y="425.00" width="12.80" height="12.50" fill="#3465c0" />
<text x="618.30" y="433.45" font-size="6.55" fill="#222"  stroke="#222" stroke-width="0.05">Adjusted P&lt;0.05</text>
<line x1="602.00" y1="384.50" x2="602.00" y2="409.50" stroke="#bbb" stroke-width="0.9" />
<line x1="602.00" y1="411.00" x2="602.00" y2="436.50" stroke="#bbb" stroke-width="0.9" />
<polygon points="602,382.8 600.9,385.3 603.1,385.3" fill="#000"/>
<polygon points="602,438.3 600.9,435.8 603.1,435.8" fill="#000"/>
<text x="599.60" y="396.70" font-size="6.0" text-anchor="middle" fill="#222" transform="rotate(-90 599.60 396.70)"  stroke="#222" stroke-width="0.05">Mutant</text>
<text x="599.60" y="423.40" font-size="6.0" text-anchor="middle" fill="#222" transform="rotate(-90 599.60 423.40)"  stroke="#222" stroke-width="0.05">WT</text>
<text x="604.10" y="454.60" font-size="6.5" fill="#222"  stroke="#222" stroke-width="0.05">Prevalence (%)</text>
<rect x="604.10" y="460.20" width="8.60" height="44.00" fill="url(#prevg)" />
<text x="615.90" y="465.40" font-size="6.6" fill="#222"  stroke="#222" stroke-width="0.05">80</text>
<text x="615.90" y="475.40" font-size="6.6" fill="#222"  stroke="#222" stroke-width="0.05">60</text>
<text x="615.90" y="486.10" font-size="6.6" fill="#222"  stroke="#222" stroke-width="0.05">40</text>
<text x="615.90" y="496.40" font-size="6.6" fill="#222"  stroke="#222" stroke-width="0.05">20</text>
<text x="615.90" y="505.00" font-size="6.6" fill="#222"  stroke="#222" stroke-width="0.05">0</text></svg>
</body></html>
